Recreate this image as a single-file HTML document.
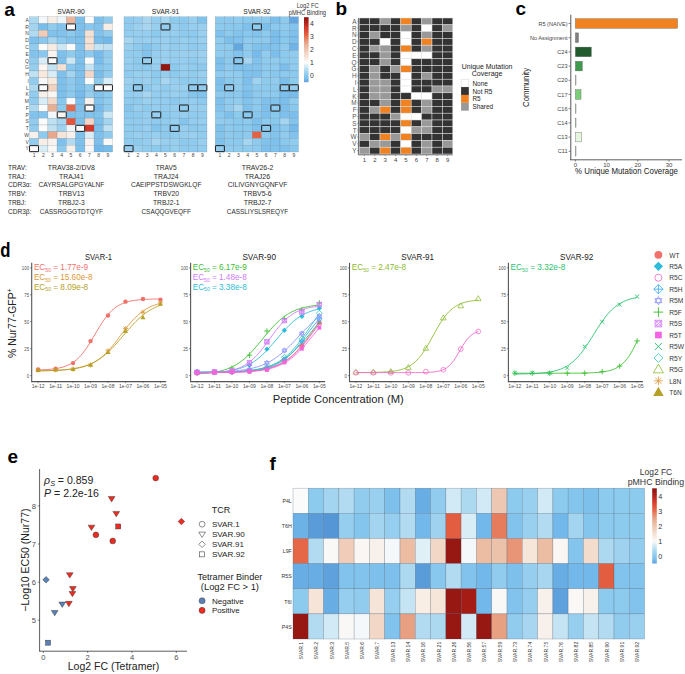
<!DOCTYPE html>
<html><head><meta charset="utf-8"><style>
html,body{margin:0;padding:0;background:#fff;}
body{width:685px;height:674px;overflow:hidden;}
svg{display:block;font-family:"Liberation Sans", sans-serif;}
</style></head><body>
<svg width="685" height="674" viewBox="0 0 685 674">
<rect width="685" height="674" fill="#fff"/>
<text x="71.00" y="13.50" font-size="7.3" text-anchor="middle" fill="#222" textLength="27.4" lengthAdjust="spacingAndGlyphs">SVAR-90</text>
<rect x="29.40" y="16.75" width="9.24" height="6.76" fill="#acd8f0" stroke="#3c5064" stroke-opacity="0.32" stroke-width="0.45"/>
<rect x="38.64" y="16.75" width="9.24" height="6.76" fill="#f4f8fa" stroke="#3c5064" stroke-opacity="0.32" stroke-width="0.45"/>
<rect x="47.89" y="16.75" width="9.24" height="6.76" fill="#f8eee6" stroke="#3c5064" stroke-opacity="0.32" stroke-width="0.45"/>
<rect x="57.13" y="16.75" width="9.24" height="6.76" fill="#edf5f9" stroke="#3c5064" stroke-opacity="0.32" stroke-width="0.45"/>
<rect x="66.38" y="16.75" width="9.24" height="6.76" fill="#ebb59b" stroke="#3c5064" stroke-opacity="0.32" stroke-width="0.45"/>
<rect x="75.62" y="16.75" width="9.24" height="6.76" fill="#7dc0ec" stroke="#3c5064" stroke-opacity="0.32" stroke-width="0.45"/>
<rect x="84.87" y="16.75" width="9.24" height="6.76" fill="#fbfbfb" stroke="#3c5064" stroke-opacity="0.32" stroke-width="0.45"/>
<rect x="94.11" y="16.75" width="9.24" height="6.76" fill="#7dc0ec" stroke="#3c5064" stroke-opacity="0.32" stroke-width="0.45"/>
<rect x="103.36" y="16.75" width="9.24" height="6.76" fill="#91ccee" stroke="#3c5064" stroke-opacity="0.32" stroke-width="0.45"/>
<rect x="29.40" y="23.51" width="9.24" height="6.76" fill="#a3d4f0" stroke="#3c5064" stroke-opacity="0.32" stroke-width="0.45"/>
<rect x="38.64" y="23.51" width="9.24" height="6.76" fill="#79bdeb" stroke="#3c5064" stroke-opacity="0.32" stroke-width="0.45"/>
<rect x="47.89" y="23.51" width="9.24" height="6.76" fill="#91ccee" stroke="#3c5064" stroke-opacity="0.32" stroke-width="0.45"/>
<rect x="57.13" y="23.51" width="9.24" height="6.76" fill="#81c3ed" stroke="#3c5064" stroke-opacity="0.32" stroke-width="0.45"/>
<rect x="66.38" y="23.51" width="9.24" height="6.76" fill="#fbfbfb" stroke="#3c5064" stroke-opacity="0.32" stroke-width="0.45"/>
<rect x="75.62" y="23.51" width="9.24" height="6.76" fill="#7dc0ec" stroke="#3c5064" stroke-opacity="0.32" stroke-width="0.45"/>
<rect x="84.87" y="23.51" width="9.24" height="6.76" fill="#88c8ee" stroke="#3c5064" stroke-opacity="0.32" stroke-width="0.45"/>
<rect x="94.11" y="23.51" width="9.24" height="6.76" fill="#81c3ed" stroke="#3c5064" stroke-opacity="0.32" stroke-width="0.45"/>
<rect x="103.36" y="23.51" width="9.24" height="6.76" fill="#f8eee6" stroke="#3c5064" stroke-opacity="0.32" stroke-width="0.45"/>
<rect x="29.40" y="30.27" width="9.24" height="6.76" fill="#b2dbf1" stroke="#3c5064" stroke-opacity="0.32" stroke-width="0.45"/>
<rect x="38.64" y="30.27" width="9.24" height="6.76" fill="#f0ccb9" stroke="#3c5064" stroke-opacity="0.32" stroke-width="0.45"/>
<rect x="47.89" y="30.27" width="9.24" height="6.76" fill="#81c3ed" stroke="#3c5064" stroke-opacity="0.32" stroke-width="0.45"/>
<rect x="57.13" y="30.27" width="9.24" height="6.76" fill="#81c3ed" stroke="#3c5064" stroke-opacity="0.32" stroke-width="0.45"/>
<rect x="66.38" y="30.27" width="9.24" height="6.76" fill="#8ccaee" stroke="#3c5064" stroke-opacity="0.32" stroke-width="0.45"/>
<rect x="75.62" y="30.27" width="9.24" height="6.76" fill="#7dc0ec" stroke="#3c5064" stroke-opacity="0.32" stroke-width="0.45"/>
<rect x="84.87" y="30.27" width="9.24" height="6.76" fill="#f5e1d4" stroke="#3c5064" stroke-opacity="0.32" stroke-width="0.45"/>
<rect x="94.11" y="30.27" width="9.24" height="6.76" fill="#81c3ed" stroke="#3c5064" stroke-opacity="0.32" stroke-width="0.45"/>
<rect x="103.36" y="30.27" width="9.24" height="6.76" fill="#91ccee" stroke="#3c5064" stroke-opacity="0.32" stroke-width="0.45"/>
<rect x="29.40" y="37.04" width="9.24" height="6.76" fill="#7dc0ec" stroke="#3c5064" stroke-opacity="0.32" stroke-width="0.45"/>
<rect x="38.64" y="37.04" width="9.24" height="6.76" fill="#88c8ee" stroke="#3c5064" stroke-opacity="0.32" stroke-width="0.45"/>
<rect x="47.89" y="37.04" width="9.24" height="6.76" fill="#a8d6f0" stroke="#3c5064" stroke-opacity="0.32" stroke-width="0.45"/>
<rect x="57.13" y="37.04" width="9.24" height="6.76" fill="#8ccaee" stroke="#3c5064" stroke-opacity="0.32" stroke-width="0.45"/>
<rect x="66.38" y="37.04" width="9.24" height="6.76" fill="#81c3ed" stroke="#3c5064" stroke-opacity="0.32" stroke-width="0.45"/>
<rect x="75.62" y="37.04" width="9.24" height="6.76" fill="#7dc0ec" stroke="#3c5064" stroke-opacity="0.32" stroke-width="0.45"/>
<rect x="84.87" y="37.04" width="9.24" height="6.76" fill="#f5e1d4" stroke="#3c5064" stroke-opacity="0.32" stroke-width="0.45"/>
<rect x="94.11" y="37.04" width="9.24" height="6.76" fill="#79bdeb" stroke="#3c5064" stroke-opacity="0.32" stroke-width="0.45"/>
<rect x="103.36" y="37.04" width="9.24" height="6.76" fill="#72b8ea" stroke="#3c5064" stroke-opacity="0.32" stroke-width="0.45"/>
<rect x="29.40" y="43.80" width="9.24" height="6.76" fill="#91ccee" stroke="#3c5064" stroke-opacity="0.32" stroke-width="0.45"/>
<rect x="38.64" y="43.80" width="9.24" height="6.76" fill="#fbfbfb" stroke="#3c5064" stroke-opacity="0.32" stroke-width="0.45"/>
<rect x="47.89" y="43.80" width="9.24" height="6.76" fill="#f7ebe2" stroke="#3c5064" stroke-opacity="0.32" stroke-width="0.45"/>
<rect x="57.13" y="43.80" width="9.24" height="6.76" fill="#cce7f4" stroke="#3c5064" stroke-opacity="0.32" stroke-width="0.45"/>
<rect x="66.38" y="43.80" width="9.24" height="6.76" fill="#fbfbfb" stroke="#3c5064" stroke-opacity="0.32" stroke-width="0.45"/>
<rect x="75.62" y="43.80" width="9.24" height="6.76" fill="#81c3ed" stroke="#3c5064" stroke-opacity="0.32" stroke-width="0.45"/>
<rect x="84.87" y="43.80" width="9.24" height="6.76" fill="#f5e1d4" stroke="#3c5064" stroke-opacity="0.32" stroke-width="0.45"/>
<rect x="94.11" y="43.80" width="9.24" height="6.76" fill="#c5e4f3" stroke="#3c5064" stroke-opacity="0.32" stroke-width="0.45"/>
<rect x="103.36" y="43.80" width="9.24" height="6.76" fill="#bfe1f2" stroke="#3c5064" stroke-opacity="0.32" stroke-width="0.45"/>
<rect x="29.40" y="50.56" width="9.24" height="6.76" fill="#81c3ed" stroke="#3c5064" stroke-opacity="0.32" stroke-width="0.45"/>
<rect x="38.64" y="50.56" width="9.24" height="6.76" fill="#88c8ee" stroke="#3c5064" stroke-opacity="0.32" stroke-width="0.45"/>
<rect x="47.89" y="50.56" width="9.24" height="6.76" fill="#f9f3ef" stroke="#3c5064" stroke-opacity="0.32" stroke-width="0.45"/>
<rect x="57.13" y="50.56" width="9.24" height="6.76" fill="#7dc0ec" stroke="#3c5064" stroke-opacity="0.32" stroke-width="0.45"/>
<rect x="66.38" y="50.56" width="9.24" height="6.76" fill="#8ccaee" stroke="#3c5064" stroke-opacity="0.32" stroke-width="0.45"/>
<rect x="75.62" y="50.56" width="9.24" height="6.76" fill="#7dc0ec" stroke="#3c5064" stroke-opacity="0.32" stroke-width="0.45"/>
<rect x="84.87" y="50.56" width="9.24" height="6.76" fill="#8ccaee" stroke="#3c5064" stroke-opacity="0.32" stroke-width="0.45"/>
<rect x="94.11" y="50.56" width="9.24" height="6.76" fill="#76bbeb" stroke="#3c5064" stroke-opacity="0.32" stroke-width="0.45"/>
<rect x="103.36" y="50.56" width="9.24" height="6.76" fill="#91ccee" stroke="#3c5064" stroke-opacity="0.32" stroke-width="0.45"/>
<rect x="29.40" y="57.33" width="9.24" height="6.76" fill="#91ccee" stroke="#3c5064" stroke-opacity="0.32" stroke-width="0.45"/>
<rect x="38.64" y="57.33" width="9.24" height="6.76" fill="#d9edf6" stroke="#3c5064" stroke-opacity="0.32" stroke-width="0.45"/>
<rect x="47.89" y="57.33" width="9.24" height="6.76" fill="#fbfbfb" stroke="#3c5064" stroke-opacity="0.32" stroke-width="0.45"/>
<rect x="57.13" y="57.33" width="9.24" height="6.76" fill="#7dc0ec" stroke="#3c5064" stroke-opacity="0.32" stroke-width="0.45"/>
<rect x="66.38" y="57.33" width="9.24" height="6.76" fill="#cce7f4" stroke="#3c5064" stroke-opacity="0.32" stroke-width="0.45"/>
<rect x="75.62" y="57.33" width="9.24" height="6.76" fill="#7dc0ec" stroke="#3c5064" stroke-opacity="0.32" stroke-width="0.45"/>
<rect x="84.87" y="57.33" width="9.24" height="6.76" fill="#fbfbfb" stroke="#3c5064" stroke-opacity="0.32" stroke-width="0.45"/>
<rect x="94.11" y="57.33" width="9.24" height="6.76" fill="#79bdeb" stroke="#3c5064" stroke-opacity="0.32" stroke-width="0.45"/>
<rect x="103.36" y="57.33" width="9.24" height="6.76" fill="#96ceef" stroke="#3c5064" stroke-opacity="0.32" stroke-width="0.45"/>
<rect x="29.40" y="64.09" width="9.24" height="6.76" fill="#96ceef" stroke="#3c5064" stroke-opacity="0.32" stroke-width="0.45"/>
<rect x="38.64" y="64.09" width="9.24" height="6.76" fill="#faf6f3" stroke="#3c5064" stroke-opacity="0.32" stroke-width="0.45"/>
<rect x="47.89" y="64.09" width="9.24" height="6.76" fill="#c5e4f3" stroke="#3c5064" stroke-opacity="0.32" stroke-width="0.45"/>
<rect x="57.13" y="64.09" width="9.24" height="6.76" fill="#f5e1d4" stroke="#3c5064" stroke-opacity="0.32" stroke-width="0.45"/>
<rect x="66.38" y="64.09" width="9.24" height="6.76" fill="#88c8ee" stroke="#3c5064" stroke-opacity="0.32" stroke-width="0.45"/>
<rect x="75.62" y="64.09" width="9.24" height="6.76" fill="#7dc0ec" stroke="#3c5064" stroke-opacity="0.32" stroke-width="0.45"/>
<rect x="84.87" y="64.09" width="9.24" height="6.76" fill="#c5e4f3" stroke="#3c5064" stroke-opacity="0.32" stroke-width="0.45"/>
<rect x="94.11" y="64.09" width="9.24" height="6.76" fill="#84c5ed" stroke="#3c5064" stroke-opacity="0.32" stroke-width="0.45"/>
<rect x="103.36" y="64.09" width="9.24" height="6.76" fill="#8ccaee" stroke="#3c5064" stroke-opacity="0.32" stroke-width="0.45"/>
<rect x="29.40" y="70.85" width="9.24" height="6.76" fill="#bfe1f2" stroke="#3c5064" stroke-opacity="0.32" stroke-width="0.45"/>
<rect x="38.64" y="70.85" width="9.24" height="6.76" fill="#f7e9de" stroke="#3c5064" stroke-opacity="0.32" stroke-width="0.45"/>
<rect x="47.89" y="70.85" width="9.24" height="6.76" fill="#d9edf6" stroke="#3c5064" stroke-opacity="0.32" stroke-width="0.45"/>
<rect x="57.13" y="70.85" width="9.24" height="6.76" fill="#7dc0ec" stroke="#3c5064" stroke-opacity="0.32" stroke-width="0.45"/>
<rect x="66.38" y="70.85" width="9.24" height="6.76" fill="#a3d4f0" stroke="#3c5064" stroke-opacity="0.32" stroke-width="0.45"/>
<rect x="75.62" y="70.85" width="9.24" height="6.76" fill="#7dc0ec" stroke="#3c5064" stroke-opacity="0.32" stroke-width="0.45"/>
<rect x="84.87" y="70.85" width="9.24" height="6.76" fill="#f2d7c6" stroke="#3c5064" stroke-opacity="0.32" stroke-width="0.45"/>
<rect x="94.11" y="70.85" width="9.24" height="6.76" fill="#79bdeb" stroke="#3c5064" stroke-opacity="0.32" stroke-width="0.45"/>
<rect x="103.36" y="70.85" width="9.24" height="6.76" fill="#91ccee" stroke="#3c5064" stroke-opacity="0.32" stroke-width="0.45"/>
<rect x="29.40" y="77.61" width="9.24" height="6.76" fill="#91ccee" stroke="#3c5064" stroke-opacity="0.32" stroke-width="0.45"/>
<rect x="38.64" y="77.61" width="9.24" height="6.76" fill="#faf8f7" stroke="#3c5064" stroke-opacity="0.32" stroke-width="0.45"/>
<rect x="47.89" y="77.61" width="9.24" height="6.76" fill="#f7e9de" stroke="#3c5064" stroke-opacity="0.32" stroke-width="0.45"/>
<rect x="57.13" y="77.61" width="9.24" height="6.76" fill="#7dc0ec" stroke="#3c5064" stroke-opacity="0.32" stroke-width="0.45"/>
<rect x="66.38" y="77.61" width="9.24" height="6.76" fill="#8ccaee" stroke="#3c5064" stroke-opacity="0.32" stroke-width="0.45"/>
<rect x="75.62" y="77.61" width="9.24" height="6.76" fill="#7dc0ec" stroke="#3c5064" stroke-opacity="0.32" stroke-width="0.45"/>
<rect x="84.87" y="77.61" width="9.24" height="6.76" fill="#fbfbfb" stroke="#3c5064" stroke-opacity="0.32" stroke-width="0.45"/>
<rect x="94.11" y="77.61" width="9.24" height="6.76" fill="#8ccaee" stroke="#3c5064" stroke-opacity="0.32" stroke-width="0.45"/>
<rect x="103.36" y="77.61" width="9.24" height="6.76" fill="#d9edf6" stroke="#3c5064" stroke-opacity="0.32" stroke-width="0.45"/>
<rect x="29.40" y="84.38" width="9.24" height="6.76" fill="#acd8f0" stroke="#3c5064" stroke-opacity="0.32" stroke-width="0.45"/>
<rect x="38.64" y="84.38" width="9.24" height="6.76" fill="#fbfbfb" stroke="#3c5064" stroke-opacity="0.32" stroke-width="0.45"/>
<rect x="47.89" y="84.38" width="9.24" height="6.76" fill="#f1d2c0" stroke="#3c5064" stroke-opacity="0.32" stroke-width="0.45"/>
<rect x="57.13" y="84.38" width="9.24" height="6.76" fill="#7dc0ec" stroke="#3c5064" stroke-opacity="0.32" stroke-width="0.45"/>
<rect x="66.38" y="84.38" width="9.24" height="6.76" fill="#8ccaee" stroke="#3c5064" stroke-opacity="0.32" stroke-width="0.45"/>
<rect x="75.62" y="84.38" width="9.24" height="6.76" fill="#7dc0ec" stroke="#3c5064" stroke-opacity="0.32" stroke-width="0.45"/>
<rect x="84.87" y="84.38" width="9.24" height="6.76" fill="#91ccee" stroke="#3c5064" stroke-opacity="0.32" stroke-width="0.45"/>
<rect x="94.11" y="84.38" width="9.24" height="6.76" fill="#fbfbfb" stroke="#3c5064" stroke-opacity="0.32" stroke-width="0.45"/>
<rect x="103.36" y="84.38" width="9.24" height="6.76" fill="#fbfbfb" stroke="#3c5064" stroke-opacity="0.32" stroke-width="0.45"/>
<rect x="29.40" y="91.14" width="9.24" height="6.76" fill="#91ccee" stroke="#3c5064" stroke-opacity="0.32" stroke-width="0.45"/>
<rect x="38.64" y="91.14" width="9.24" height="6.76" fill="#f8f0ea" stroke="#3c5064" stroke-opacity="0.32" stroke-width="0.45"/>
<rect x="47.89" y="91.14" width="9.24" height="6.76" fill="#faf6f3" stroke="#3c5064" stroke-opacity="0.32" stroke-width="0.45"/>
<rect x="57.13" y="91.14" width="9.24" height="6.76" fill="#7dc0ec" stroke="#3c5064" stroke-opacity="0.32" stroke-width="0.45"/>
<rect x="66.38" y="91.14" width="9.24" height="6.76" fill="#8ccaee" stroke="#3c5064" stroke-opacity="0.32" stroke-width="0.45"/>
<rect x="75.62" y="91.14" width="9.24" height="6.76" fill="#76bbeb" stroke="#3c5064" stroke-opacity="0.32" stroke-width="0.45"/>
<rect x="84.87" y="91.14" width="9.24" height="6.76" fill="#96ceef" stroke="#3c5064" stroke-opacity="0.32" stroke-width="0.45"/>
<rect x="94.11" y="91.14" width="9.24" height="6.76" fill="#81c3ed" stroke="#3c5064" stroke-opacity="0.32" stroke-width="0.45"/>
<rect x="103.36" y="91.14" width="9.24" height="6.76" fill="#8ccaee" stroke="#3c5064" stroke-opacity="0.32" stroke-width="0.45"/>
<rect x="29.40" y="97.90" width="9.24" height="6.76" fill="#91ccee" stroke="#3c5064" stroke-opacity="0.32" stroke-width="0.45"/>
<rect x="38.64" y="97.90" width="9.24" height="6.76" fill="#d9edf6" stroke="#3c5064" stroke-opacity="0.32" stroke-width="0.45"/>
<rect x="47.89" y="97.90" width="9.24" height="6.76" fill="#f4dccd" stroke="#3c5064" stroke-opacity="0.32" stroke-width="0.45"/>
<rect x="57.13" y="97.90" width="9.24" height="6.76" fill="#88c8ee" stroke="#3c5064" stroke-opacity="0.32" stroke-width="0.45"/>
<rect x="66.38" y="97.90" width="9.24" height="6.76" fill="#fbfbfb" stroke="#3c5064" stroke-opacity="0.32" stroke-width="0.45"/>
<rect x="75.62" y="97.90" width="9.24" height="6.76" fill="#7dc0ec" stroke="#3c5064" stroke-opacity="0.32" stroke-width="0.45"/>
<rect x="84.87" y="97.90" width="9.24" height="6.76" fill="#f8f0ea" stroke="#3c5064" stroke-opacity="0.32" stroke-width="0.45"/>
<rect x="94.11" y="97.90" width="9.24" height="6.76" fill="#81c3ed" stroke="#3c5064" stroke-opacity="0.32" stroke-width="0.45"/>
<rect x="103.36" y="97.90" width="9.24" height="6.76" fill="#91ccee" stroke="#3c5064" stroke-opacity="0.32" stroke-width="0.45"/>
<rect x="29.40" y="104.66" width="9.24" height="6.76" fill="#acd8f0" stroke="#3c5064" stroke-opacity="0.32" stroke-width="0.45"/>
<rect x="38.64" y="104.66" width="9.24" height="6.76" fill="#fbfbfb" stroke="#3c5064" stroke-opacity="0.32" stroke-width="0.45"/>
<rect x="47.89" y="104.66" width="9.24" height="6.76" fill="#eaae93" stroke="#3c5064" stroke-opacity="0.32" stroke-width="0.45"/>
<rect x="57.13" y="104.66" width="9.24" height="6.76" fill="#8ccaee" stroke="#3c5064" stroke-opacity="0.32" stroke-width="0.45"/>
<rect x="66.38" y="104.66" width="9.24" height="6.76" fill="#e56748" stroke="#3c5064" stroke-opacity="0.32" stroke-width="0.45"/>
<rect x="75.62" y="104.66" width="9.24" height="6.76" fill="#7dc0ec" stroke="#3c5064" stroke-opacity="0.32" stroke-width="0.45"/>
<rect x="84.87" y="104.66" width="9.24" height="6.76" fill="#fbfbfb" stroke="#3c5064" stroke-opacity="0.32" stroke-width="0.45"/>
<rect x="94.11" y="104.66" width="9.24" height="6.76" fill="#76bbeb" stroke="#3c5064" stroke-opacity="0.32" stroke-width="0.45"/>
<rect x="103.36" y="104.66" width="9.24" height="6.76" fill="#91ccee" stroke="#3c5064" stroke-opacity="0.32" stroke-width="0.45"/>
<rect x="29.40" y="111.42" width="9.24" height="6.76" fill="#81c3ed" stroke="#3c5064" stroke-opacity="0.32" stroke-width="0.45"/>
<rect x="38.64" y="111.42" width="9.24" height="6.76" fill="#84c5ed" stroke="#3c5064" stroke-opacity="0.32" stroke-width="0.45"/>
<rect x="47.89" y="111.42" width="9.24" height="6.76" fill="#f4f8fa" stroke="#3c5064" stroke-opacity="0.32" stroke-width="0.45"/>
<rect x="57.13" y="111.42" width="9.24" height="6.76" fill="#faf6f3" stroke="#3c5064" stroke-opacity="0.32" stroke-width="0.45"/>
<rect x="66.38" y="111.42" width="9.24" height="6.76" fill="#7dc0ec" stroke="#3c5064" stroke-opacity="0.32" stroke-width="0.45"/>
<rect x="75.62" y="111.42" width="9.24" height="6.76" fill="#81c3ed" stroke="#3c5064" stroke-opacity="0.32" stroke-width="0.45"/>
<rect x="84.87" y="111.42" width="9.24" height="6.76" fill="#81c3ed" stroke="#3c5064" stroke-opacity="0.32" stroke-width="0.45"/>
<rect x="94.11" y="111.42" width="9.24" height="6.76" fill="#81c3ed" stroke="#3c5064" stroke-opacity="0.32" stroke-width="0.45"/>
<rect x="103.36" y="111.42" width="9.24" height="6.76" fill="#cce7f4" stroke="#3c5064" stroke-opacity="0.32" stroke-width="0.45"/>
<rect x="29.40" y="118.19" width="9.24" height="6.76" fill="#91ccee" stroke="#3c5064" stroke-opacity="0.32" stroke-width="0.45"/>
<rect x="38.64" y="118.19" width="9.24" height="6.76" fill="#fbfbfb" stroke="#3c5064" stroke-opacity="0.32" stroke-width="0.45"/>
<rect x="47.89" y="118.19" width="9.24" height="6.76" fill="#bfe1f2" stroke="#3c5064" stroke-opacity="0.32" stroke-width="0.45"/>
<rect x="57.13" y="118.19" width="9.24" height="6.76" fill="#a8d6f0" stroke="#3c5064" stroke-opacity="0.32" stroke-width="0.45"/>
<rect x="66.38" y="118.19" width="9.24" height="6.76" fill="#e2553a" stroke="#3c5064" stroke-opacity="0.32" stroke-width="0.45"/>
<rect x="75.62" y="118.19" width="9.24" height="6.76" fill="#7dc0ec" stroke="#3c5064" stroke-opacity="0.32" stroke-width="0.45"/>
<rect x="84.87" y="118.19" width="9.24" height="6.76" fill="#f2d7c6" stroke="#3c5064" stroke-opacity="0.32" stroke-width="0.45"/>
<rect x="94.11" y="118.19" width="9.24" height="6.76" fill="#7dc0ec" stroke="#3c5064" stroke-opacity="0.32" stroke-width="0.45"/>
<rect x="103.36" y="118.19" width="9.24" height="6.76" fill="#a3d4f0" stroke="#3c5064" stroke-opacity="0.32" stroke-width="0.45"/>
<rect x="29.40" y="124.95" width="9.24" height="6.76" fill="#91ccee" stroke="#3c5064" stroke-opacity="0.32" stroke-width="0.45"/>
<rect x="38.64" y="124.95" width="9.24" height="6.76" fill="#fbfbfb" stroke="#3c5064" stroke-opacity="0.32" stroke-width="0.45"/>
<rect x="47.89" y="124.95" width="9.24" height="6.76" fill="#bfe1f2" stroke="#3c5064" stroke-opacity="0.32" stroke-width="0.45"/>
<rect x="57.13" y="124.95" width="9.24" height="6.76" fill="#9ed2ef" stroke="#3c5064" stroke-opacity="0.32" stroke-width="0.45"/>
<rect x="66.38" y="124.95" width="9.24" height="6.76" fill="#edf5f9" stroke="#3c5064" stroke-opacity="0.32" stroke-width="0.45"/>
<rect x="75.62" y="124.95" width="9.24" height="6.76" fill="#fbfbfb" stroke="#3c5064" stroke-opacity="0.32" stroke-width="0.45"/>
<rect x="84.87" y="124.95" width="9.24" height="6.76" fill="#d4382a" stroke="#3c5064" stroke-opacity="0.32" stroke-width="0.45"/>
<rect x="94.11" y="124.95" width="9.24" height="6.76" fill="#7dc0ec" stroke="#3c5064" stroke-opacity="0.32" stroke-width="0.45"/>
<rect x="103.36" y="124.95" width="9.24" height="6.76" fill="#bfe1f2" stroke="#3c5064" stroke-opacity="0.32" stroke-width="0.45"/>
<rect x="29.40" y="131.71" width="9.24" height="6.76" fill="#f8f0ea" stroke="#3c5064" stroke-opacity="0.32" stroke-width="0.45"/>
<rect x="38.64" y="131.71" width="9.24" height="6.76" fill="#8ccaee" stroke="#3c5064" stroke-opacity="0.32" stroke-width="0.45"/>
<rect x="47.89" y="131.71" width="9.24" height="6.76" fill="#e9a78b" stroke="#3c5064" stroke-opacity="0.32" stroke-width="0.45"/>
<rect x="57.13" y="131.71" width="9.24" height="6.76" fill="#f5e4d7" stroke="#3c5064" stroke-opacity="0.32" stroke-width="0.45"/>
<rect x="66.38" y="131.71" width="9.24" height="6.76" fill="#f8f0ea" stroke="#3c5064" stroke-opacity="0.32" stroke-width="0.45"/>
<rect x="75.62" y="131.71" width="9.24" height="6.76" fill="#7dc0ec" stroke="#3c5064" stroke-opacity="0.32" stroke-width="0.45"/>
<rect x="84.87" y="131.71" width="9.24" height="6.76" fill="#d9edf6" stroke="#3c5064" stroke-opacity="0.32" stroke-width="0.45"/>
<rect x="94.11" y="131.71" width="9.24" height="6.76" fill="#7dc0ec" stroke="#3c5064" stroke-opacity="0.32" stroke-width="0.45"/>
<rect x="103.36" y="131.71" width="9.24" height="6.76" fill="#8ccaee" stroke="#3c5064" stroke-opacity="0.32" stroke-width="0.45"/>
<rect x="29.40" y="138.48" width="9.24" height="6.76" fill="#91ccee" stroke="#3c5064" stroke-opacity="0.32" stroke-width="0.45"/>
<rect x="38.64" y="138.48" width="9.24" height="6.76" fill="#f8eee6" stroke="#3c5064" stroke-opacity="0.32" stroke-width="0.45"/>
<rect x="47.89" y="138.48" width="9.24" height="6.76" fill="#f9f3ef" stroke="#3c5064" stroke-opacity="0.32" stroke-width="0.45"/>
<rect x="57.13" y="138.48" width="9.24" height="6.76" fill="#7dc0ec" stroke="#3c5064" stroke-opacity="0.32" stroke-width="0.45"/>
<rect x="66.38" y="138.48" width="9.24" height="6.76" fill="#b2dbf1" stroke="#3c5064" stroke-opacity="0.32" stroke-width="0.45"/>
<rect x="75.62" y="138.48" width="9.24" height="6.76" fill="#7dc0ec" stroke="#3c5064" stroke-opacity="0.32" stroke-width="0.45"/>
<rect x="84.87" y="138.48" width="9.24" height="6.76" fill="#f9f3ef" stroke="#3c5064" stroke-opacity="0.32" stroke-width="0.45"/>
<rect x="94.11" y="138.48" width="9.24" height="6.76" fill="#7dc0ec" stroke="#3c5064" stroke-opacity="0.32" stroke-width="0.45"/>
<rect x="103.36" y="138.48" width="9.24" height="6.76" fill="#faf8f7" stroke="#3c5064" stroke-opacity="0.32" stroke-width="0.45"/>
<rect x="29.40" y="145.24" width="9.24" height="6.76" fill="#fbfbfb" stroke="#3c5064" stroke-opacity="0.32" stroke-width="0.45"/>
<rect x="38.64" y="145.24" width="9.24" height="6.76" fill="#d9edf6" stroke="#3c5064" stroke-opacity="0.32" stroke-width="0.45"/>
<rect x="47.89" y="145.24" width="9.24" height="6.76" fill="#faf8f7" stroke="#3c5064" stroke-opacity="0.32" stroke-width="0.45"/>
<rect x="57.13" y="145.24" width="9.24" height="6.76" fill="#8ccaee" stroke="#3c5064" stroke-opacity="0.32" stroke-width="0.45"/>
<rect x="66.38" y="145.24" width="9.24" height="6.76" fill="#f8f0ea" stroke="#3c5064" stroke-opacity="0.32" stroke-width="0.45"/>
<rect x="75.62" y="145.24" width="9.24" height="6.76" fill="#7dc0ec" stroke="#3c5064" stroke-opacity="0.32" stroke-width="0.45"/>
<rect x="84.87" y="145.24" width="9.24" height="6.76" fill="#faf8f7" stroke="#3c5064" stroke-opacity="0.32" stroke-width="0.45"/>
<rect x="94.11" y="145.24" width="9.24" height="6.76" fill="#72b8ea" stroke="#3c5064" stroke-opacity="0.32" stroke-width="0.45"/>
<rect x="103.36" y="145.24" width="9.24" height="6.76" fill="#79bdeb" stroke="#3c5064" stroke-opacity="0.32" stroke-width="0.45"/>
<rect x="66.53" y="23.91" width="8.94" height="6.01" rx="0.5" fill="none" stroke="#1e1e1e" stroke-width="1.0"/>
<rect x="48.04" y="57.73" width="8.94" height="6.01" rx="0.5" fill="none" stroke="#1e1e1e" stroke-width="1.0"/>
<rect x="38.79" y="84.78" width="8.94" height="6.01" rx="0.5" fill="none" stroke="#1e1e1e" stroke-width="1.0"/>
<rect x="94.26" y="84.78" width="8.94" height="6.01" rx="0.5" fill="none" stroke="#1e1e1e" stroke-width="1.0"/>
<rect x="103.51" y="84.78" width="8.94" height="6.01" rx="0.5" fill="none" stroke="#1e1e1e" stroke-width="1.0"/>
<rect x="85.02" y="105.06" width="8.94" height="6.01" rx="0.5" fill="none" stroke="#1e1e1e" stroke-width="1.0"/>
<rect x="57.28" y="111.83" width="8.94" height="6.01" rx="0.5" fill="none" stroke="#1e1e1e" stroke-width="1.0"/>
<rect x="75.77" y="125.35" width="8.94" height="6.01" rx="0.5" fill="none" stroke="#1e1e1e" stroke-width="1.0"/>
<rect x="29.55" y="145.64" width="8.94" height="6.01" rx="0.5" fill="none" stroke="#1e1e1e" stroke-width="1.0"/>
<text x="28.90" y="21.93" font-size="5.0" text-anchor="end" fill="#444">A</text>
<text x="28.90" y="28.69" font-size="5.0" text-anchor="end" fill="#444">R</text>
<text x="28.90" y="35.46" font-size="5.0" text-anchor="end" fill="#444">N</text>
<text x="28.90" y="42.22" font-size="5.0" text-anchor="end" fill="#444">D</text>
<text x="28.90" y="48.98" font-size="5.0" text-anchor="end" fill="#444">C</text>
<text x="28.90" y="55.74" font-size="5.0" text-anchor="end" fill="#444">E</text>
<text x="28.90" y="62.51" font-size="5.0" text-anchor="end" fill="#444">Q</text>
<text x="28.90" y="69.27" font-size="5.0" text-anchor="end" fill="#444">G</text>
<text x="28.90" y="76.03" font-size="5.0" text-anchor="end" fill="#444">H</text>
<text x="28.90" y="82.79" font-size="5.0" text-anchor="end" fill="#444">I</text>
<text x="28.90" y="89.56" font-size="5.0" text-anchor="end" fill="#444">L</text>
<text x="28.90" y="96.32" font-size="5.0" text-anchor="end" fill="#444">K</text>
<text x="28.90" y="103.08" font-size="5.0" text-anchor="end" fill="#444">M</text>
<text x="28.90" y="109.84" font-size="5.0" text-anchor="end" fill="#444">F</text>
<text x="28.90" y="116.61" font-size="5.0" text-anchor="end" fill="#444">P</text>
<text x="28.90" y="123.37" font-size="5.0" text-anchor="end" fill="#444">S</text>
<text x="28.90" y="130.13" font-size="5.0" text-anchor="end" fill="#444">T</text>
<text x="28.90" y="136.89" font-size="5.0" text-anchor="end" fill="#444">W</text>
<text x="28.90" y="143.66" font-size="5.0" text-anchor="end" fill="#444">V</text>
<text x="28.90" y="150.42" font-size="5.0" text-anchor="end" fill="#444">Y</text>
<text x="34.02" y="156.70" font-size="5.0" text-anchor="middle" fill="#444">1</text>
<text x="43.27" y="156.70" font-size="5.0" text-anchor="middle" fill="#444">2</text>
<text x="52.51" y="156.70" font-size="5.0" text-anchor="middle" fill="#444">3</text>
<text x="61.76" y="156.70" font-size="5.0" text-anchor="middle" fill="#444">4</text>
<text x="71.00" y="156.70" font-size="5.0" text-anchor="middle" fill="#444">5</text>
<text x="80.24" y="156.70" font-size="5.0" text-anchor="middle" fill="#444">6</text>
<text x="89.49" y="156.70" font-size="5.0" text-anchor="middle" fill="#444">7</text>
<text x="98.73" y="156.70" font-size="5.0" text-anchor="middle" fill="#444">8</text>
<text x="107.98" y="156.70" font-size="5.0" text-anchor="middle" fill="#444">9</text>
<text x="165.50" y="13.50" font-size="7.3" text-anchor="middle" fill="#222" textLength="27.4" lengthAdjust="spacingAndGlyphs">SVAR-91</text>
<rect x="124.00" y="16.75" width="9.22" height="6.76" fill="#8ecbee" stroke="#3c5064" stroke-opacity="0.32" stroke-width="0.45"/>
<rect x="133.22" y="16.75" width="9.22" height="6.76" fill="#94cdef" stroke="#3c5064" stroke-opacity="0.32" stroke-width="0.45"/>
<rect x="142.44" y="16.75" width="9.22" height="6.76" fill="#a8d6f0" stroke="#3c5064" stroke-opacity="0.32" stroke-width="0.45"/>
<rect x="151.67" y="16.75" width="9.22" height="6.76" fill="#95ceef" stroke="#3c5064" stroke-opacity="0.32" stroke-width="0.45"/>
<rect x="160.89" y="16.75" width="9.22" height="6.76" fill="#a6d5f0" stroke="#3c5064" stroke-opacity="0.32" stroke-width="0.45"/>
<rect x="170.11" y="16.75" width="9.22" height="6.76" fill="#8ccaee" stroke="#3c5064" stroke-opacity="0.32" stroke-width="0.45"/>
<rect x="179.33" y="16.75" width="9.22" height="6.76" fill="#8bc9ee" stroke="#3c5064" stroke-opacity="0.32" stroke-width="0.45"/>
<rect x="188.56" y="16.75" width="9.22" height="6.76" fill="#98cfef" stroke="#3c5064" stroke-opacity="0.32" stroke-width="0.45"/>
<rect x="197.78" y="16.75" width="9.22" height="6.76" fill="#7fc2ec" stroke="#3c5064" stroke-opacity="0.32" stroke-width="0.45"/>
<rect x="124.00" y="23.51" width="9.22" height="6.76" fill="#8ecbee" stroke="#3c5064" stroke-opacity="0.32" stroke-width="0.45"/>
<rect x="133.22" y="23.51" width="9.22" height="6.76" fill="#9bd0ef" stroke="#3c5064" stroke-opacity="0.32" stroke-width="0.45"/>
<rect x="142.44" y="23.51" width="9.22" height="6.76" fill="#a8d6f0" stroke="#3c5064" stroke-opacity="0.32" stroke-width="0.45"/>
<rect x="151.67" y="23.51" width="9.22" height="6.76" fill="#98cfef" stroke="#3c5064" stroke-opacity="0.32" stroke-width="0.45"/>
<rect x="160.89" y="23.51" width="9.22" height="6.76" fill="#93cdef" stroke="#3c5064" stroke-opacity="0.32" stroke-width="0.45"/>
<rect x="170.11" y="23.51" width="9.22" height="6.76" fill="#96ceef" stroke="#3c5064" stroke-opacity="0.32" stroke-width="0.45"/>
<rect x="179.33" y="23.51" width="9.22" height="6.76" fill="#8dcaee" stroke="#3c5064" stroke-opacity="0.32" stroke-width="0.45"/>
<rect x="188.56" y="23.51" width="9.22" height="6.76" fill="#95ceef" stroke="#3c5064" stroke-opacity="0.32" stroke-width="0.45"/>
<rect x="197.78" y="23.51" width="9.22" height="6.76" fill="#99d0ef" stroke="#3c5064" stroke-opacity="0.32" stroke-width="0.45"/>
<rect x="124.00" y="30.27" width="9.22" height="6.76" fill="#93cdef" stroke="#3c5064" stroke-opacity="0.32" stroke-width="0.45"/>
<rect x="133.22" y="30.27" width="9.22" height="6.76" fill="#96ceef" stroke="#3c5064" stroke-opacity="0.32" stroke-width="0.45"/>
<rect x="142.44" y="30.27" width="9.22" height="6.76" fill="#96ceef" stroke="#3c5064" stroke-opacity="0.32" stroke-width="0.45"/>
<rect x="151.67" y="30.27" width="9.22" height="6.76" fill="#8ccaee" stroke="#3c5064" stroke-opacity="0.32" stroke-width="0.45"/>
<rect x="160.89" y="30.27" width="9.22" height="6.76" fill="#97cfef" stroke="#3c5064" stroke-opacity="0.32" stroke-width="0.45"/>
<rect x="170.11" y="30.27" width="9.22" height="6.76" fill="#95ceef" stroke="#3c5064" stroke-opacity="0.32" stroke-width="0.45"/>
<rect x="179.33" y="30.27" width="9.22" height="6.76" fill="#8fcbee" stroke="#3c5064" stroke-opacity="0.32" stroke-width="0.45"/>
<rect x="188.56" y="30.27" width="9.22" height="6.76" fill="#8ccaee" stroke="#3c5064" stroke-opacity="0.32" stroke-width="0.45"/>
<rect x="197.78" y="30.27" width="9.22" height="6.76" fill="#99d0ef" stroke="#3c5064" stroke-opacity="0.32" stroke-width="0.45"/>
<rect x="124.00" y="37.04" width="9.22" height="6.76" fill="#a8d6f0" stroke="#3c5064" stroke-opacity="0.32" stroke-width="0.45"/>
<rect x="133.22" y="37.04" width="9.22" height="6.76" fill="#96ceef" stroke="#3c5064" stroke-opacity="0.32" stroke-width="0.45"/>
<rect x="142.44" y="37.04" width="9.22" height="6.76" fill="#99d0ef" stroke="#3c5064" stroke-opacity="0.32" stroke-width="0.45"/>
<rect x="151.67" y="37.04" width="9.22" height="6.76" fill="#96ceef" stroke="#3c5064" stroke-opacity="0.32" stroke-width="0.45"/>
<rect x="160.89" y="37.04" width="9.22" height="6.76" fill="#9ad0ef" stroke="#3c5064" stroke-opacity="0.32" stroke-width="0.45"/>
<rect x="170.11" y="37.04" width="9.22" height="6.76" fill="#91ccee" stroke="#3c5064" stroke-opacity="0.32" stroke-width="0.45"/>
<rect x="179.33" y="37.04" width="9.22" height="6.76" fill="#97cfef" stroke="#3c5064" stroke-opacity="0.32" stroke-width="0.45"/>
<rect x="188.56" y="37.04" width="9.22" height="6.76" fill="#92ccef" stroke="#3c5064" stroke-opacity="0.32" stroke-width="0.45"/>
<rect x="197.78" y="37.04" width="9.22" height="6.76" fill="#9ad0ef" stroke="#3c5064" stroke-opacity="0.32" stroke-width="0.45"/>
<rect x="124.00" y="43.80" width="9.22" height="6.76" fill="#99d0ef" stroke="#3c5064" stroke-opacity="0.32" stroke-width="0.45"/>
<rect x="133.22" y="43.80" width="9.22" height="6.76" fill="#8ccaee" stroke="#3c5064" stroke-opacity="0.32" stroke-width="0.45"/>
<rect x="142.44" y="43.80" width="9.22" height="6.76" fill="#82c4ed" stroke="#3c5064" stroke-opacity="0.32" stroke-width="0.45"/>
<rect x="151.67" y="43.80" width="9.22" height="6.76" fill="#8ecbee" stroke="#3c5064" stroke-opacity="0.32" stroke-width="0.45"/>
<rect x="160.89" y="43.80" width="9.22" height="6.76" fill="#9ad0ef" stroke="#3c5064" stroke-opacity="0.32" stroke-width="0.45"/>
<rect x="170.11" y="43.80" width="9.22" height="6.76" fill="#92ccef" stroke="#3c5064" stroke-opacity="0.32" stroke-width="0.45"/>
<rect x="179.33" y="43.80" width="9.22" height="6.76" fill="#95ceef" stroke="#3c5064" stroke-opacity="0.32" stroke-width="0.45"/>
<rect x="188.56" y="43.80" width="9.22" height="6.76" fill="#8fcbee" stroke="#3c5064" stroke-opacity="0.32" stroke-width="0.45"/>
<rect x="197.78" y="43.80" width="9.22" height="6.76" fill="#93cdef" stroke="#3c5064" stroke-opacity="0.32" stroke-width="0.45"/>
<rect x="124.00" y="50.56" width="9.22" height="6.76" fill="#91ccee" stroke="#3c5064" stroke-opacity="0.32" stroke-width="0.45"/>
<rect x="133.22" y="50.56" width="9.22" height="6.76" fill="#90ccee" stroke="#3c5064" stroke-opacity="0.32" stroke-width="0.45"/>
<rect x="142.44" y="50.56" width="9.22" height="6.76" fill="#81c3ed" stroke="#3c5064" stroke-opacity="0.32" stroke-width="0.45"/>
<rect x="151.67" y="50.56" width="9.22" height="6.76" fill="#95ceef" stroke="#3c5064" stroke-opacity="0.32" stroke-width="0.45"/>
<rect x="160.89" y="50.56" width="9.22" height="6.76" fill="#99d0ef" stroke="#3c5064" stroke-opacity="0.32" stroke-width="0.45"/>
<rect x="170.11" y="50.56" width="9.22" height="6.76" fill="#96ceef" stroke="#3c5064" stroke-opacity="0.32" stroke-width="0.45"/>
<rect x="179.33" y="50.56" width="9.22" height="6.76" fill="#9ad0ef" stroke="#3c5064" stroke-opacity="0.32" stroke-width="0.45"/>
<rect x="188.56" y="50.56" width="9.22" height="6.76" fill="#98cfef" stroke="#3c5064" stroke-opacity="0.32" stroke-width="0.45"/>
<rect x="197.78" y="50.56" width="9.22" height="6.76" fill="#9bd0ef" stroke="#3c5064" stroke-opacity="0.32" stroke-width="0.45"/>
<rect x="124.00" y="57.33" width="9.22" height="6.76" fill="#96ceef" stroke="#3c5064" stroke-opacity="0.32" stroke-width="0.45"/>
<rect x="133.22" y="57.33" width="9.22" height="6.76" fill="#8dcaee" stroke="#3c5064" stroke-opacity="0.32" stroke-width="0.45"/>
<rect x="142.44" y="57.33" width="9.22" height="6.76" fill="#98cfef" stroke="#3c5064" stroke-opacity="0.32" stroke-width="0.45"/>
<rect x="151.67" y="57.33" width="9.22" height="6.76" fill="#9ad0ef" stroke="#3c5064" stroke-opacity="0.32" stroke-width="0.45"/>
<rect x="160.89" y="57.33" width="9.22" height="6.76" fill="#99d0ef" stroke="#3c5064" stroke-opacity="0.32" stroke-width="0.45"/>
<rect x="170.11" y="57.33" width="9.22" height="6.76" fill="#94cdef" stroke="#3c5064" stroke-opacity="0.32" stroke-width="0.45"/>
<rect x="179.33" y="57.33" width="9.22" height="6.76" fill="#96ceef" stroke="#3c5064" stroke-opacity="0.32" stroke-width="0.45"/>
<rect x="188.56" y="57.33" width="9.22" height="6.76" fill="#8ecbee" stroke="#3c5064" stroke-opacity="0.32" stroke-width="0.45"/>
<rect x="197.78" y="57.33" width="9.22" height="6.76" fill="#98cfef" stroke="#3c5064" stroke-opacity="0.32" stroke-width="0.45"/>
<rect x="124.00" y="64.09" width="9.22" height="6.76" fill="#94cdef" stroke="#3c5064" stroke-opacity="0.32" stroke-width="0.45"/>
<rect x="133.22" y="64.09" width="9.22" height="6.76" fill="#8fcbee" stroke="#3c5064" stroke-opacity="0.32" stroke-width="0.45"/>
<rect x="142.44" y="64.09" width="9.22" height="6.76" fill="#8ccaee" stroke="#3c5064" stroke-opacity="0.32" stroke-width="0.45"/>
<rect x="151.67" y="64.09" width="9.22" height="6.76" fill="#98cfef" stroke="#3c5064" stroke-opacity="0.32" stroke-width="0.45"/>
<rect x="160.89" y="64.09" width="9.22" height="6.76" fill="#941611" stroke="#3c5064" stroke-opacity="0.32" stroke-width="0.45"/>
<rect x="170.11" y="64.09" width="9.22" height="6.76" fill="#8ccaee" stroke="#3c5064" stroke-opacity="0.32" stroke-width="0.45"/>
<rect x="179.33" y="64.09" width="9.22" height="6.76" fill="#97cfef" stroke="#3c5064" stroke-opacity="0.32" stroke-width="0.45"/>
<rect x="188.56" y="64.09" width="9.22" height="6.76" fill="#91ccee" stroke="#3c5064" stroke-opacity="0.32" stroke-width="0.45"/>
<rect x="197.78" y="64.09" width="9.22" height="6.76" fill="#8dcaee" stroke="#3c5064" stroke-opacity="0.32" stroke-width="0.45"/>
<rect x="124.00" y="70.85" width="9.22" height="6.76" fill="#8fcbee" stroke="#3c5064" stroke-opacity="0.32" stroke-width="0.45"/>
<rect x="133.22" y="70.85" width="9.22" height="6.76" fill="#97cfef" stroke="#3c5064" stroke-opacity="0.32" stroke-width="0.45"/>
<rect x="142.44" y="70.85" width="9.22" height="6.76" fill="#99d0ef" stroke="#3c5064" stroke-opacity="0.32" stroke-width="0.45"/>
<rect x="151.67" y="70.85" width="9.22" height="6.76" fill="#8ccaee" stroke="#3c5064" stroke-opacity="0.32" stroke-width="0.45"/>
<rect x="160.89" y="70.85" width="9.22" height="6.76" fill="#95ceef" stroke="#3c5064" stroke-opacity="0.32" stroke-width="0.45"/>
<rect x="170.11" y="70.85" width="9.22" height="6.76" fill="#8ccaee" stroke="#3c5064" stroke-opacity="0.32" stroke-width="0.45"/>
<rect x="179.33" y="70.85" width="9.22" height="6.76" fill="#96ceef" stroke="#3c5064" stroke-opacity="0.32" stroke-width="0.45"/>
<rect x="188.56" y="70.85" width="9.22" height="6.76" fill="#90ccee" stroke="#3c5064" stroke-opacity="0.32" stroke-width="0.45"/>
<rect x="197.78" y="70.85" width="9.22" height="6.76" fill="#99d0ef" stroke="#3c5064" stroke-opacity="0.32" stroke-width="0.45"/>
<rect x="124.00" y="77.61" width="9.22" height="6.76" fill="#9bd0ef" stroke="#3c5064" stroke-opacity="0.32" stroke-width="0.45"/>
<rect x="133.22" y="77.61" width="9.22" height="6.76" fill="#93cdef" stroke="#3c5064" stroke-opacity="0.32" stroke-width="0.45"/>
<rect x="142.44" y="77.61" width="9.22" height="6.76" fill="#9bd0ef" stroke="#3c5064" stroke-opacity="0.32" stroke-width="0.45"/>
<rect x="151.67" y="77.61" width="9.22" height="6.76" fill="#90ccee" stroke="#3c5064" stroke-opacity="0.32" stroke-width="0.45"/>
<rect x="160.89" y="77.61" width="9.22" height="6.76" fill="#a8d6f0" stroke="#3c5064" stroke-opacity="0.32" stroke-width="0.45"/>
<rect x="170.11" y="77.61" width="9.22" height="6.76" fill="#95ceef" stroke="#3c5064" stroke-opacity="0.32" stroke-width="0.45"/>
<rect x="179.33" y="77.61" width="9.22" height="6.76" fill="#8ccaee" stroke="#3c5064" stroke-opacity="0.32" stroke-width="0.45"/>
<rect x="188.56" y="77.61" width="9.22" height="6.76" fill="#8ecbee" stroke="#3c5064" stroke-opacity="0.32" stroke-width="0.45"/>
<rect x="197.78" y="77.61" width="9.22" height="6.76" fill="#91ccee" stroke="#3c5064" stroke-opacity="0.32" stroke-width="0.45"/>
<rect x="124.00" y="84.38" width="9.22" height="6.76" fill="#95ceef" stroke="#3c5064" stroke-opacity="0.32" stroke-width="0.45"/>
<rect x="133.22" y="84.38" width="9.22" height="6.76" fill="#8dcaee" stroke="#3c5064" stroke-opacity="0.32" stroke-width="0.45"/>
<rect x="142.44" y="84.38" width="9.22" height="6.76" fill="#8ccaee" stroke="#3c5064" stroke-opacity="0.32" stroke-width="0.45"/>
<rect x="151.67" y="84.38" width="9.22" height="6.76" fill="#99d0ef" stroke="#3c5064" stroke-opacity="0.32" stroke-width="0.45"/>
<rect x="160.89" y="84.38" width="9.22" height="6.76" fill="#90ccee" stroke="#3c5064" stroke-opacity="0.32" stroke-width="0.45"/>
<rect x="170.11" y="84.38" width="9.22" height="6.76" fill="#9ad0ef" stroke="#3c5064" stroke-opacity="0.32" stroke-width="0.45"/>
<rect x="179.33" y="84.38" width="9.22" height="6.76" fill="#99d0ef" stroke="#3c5064" stroke-opacity="0.32" stroke-width="0.45"/>
<rect x="188.56" y="84.38" width="9.22" height="6.76" fill="#91ccee" stroke="#3c5064" stroke-opacity="0.32" stroke-width="0.45"/>
<rect x="197.78" y="84.38" width="9.22" height="6.76" fill="#92ccef" stroke="#3c5064" stroke-opacity="0.32" stroke-width="0.45"/>
<rect x="124.00" y="91.14" width="9.22" height="6.76" fill="#93cdef" stroke="#3c5064" stroke-opacity="0.32" stroke-width="0.45"/>
<rect x="133.22" y="91.14" width="9.22" height="6.76" fill="#96ceef" stroke="#3c5064" stroke-opacity="0.32" stroke-width="0.45"/>
<rect x="142.44" y="91.14" width="9.22" height="6.76" fill="#a6d5f0" stroke="#3c5064" stroke-opacity="0.32" stroke-width="0.45"/>
<rect x="151.67" y="91.14" width="9.22" height="6.76" fill="#94cdef" stroke="#3c5064" stroke-opacity="0.32" stroke-width="0.45"/>
<rect x="160.89" y="91.14" width="9.22" height="6.76" fill="#95ceef" stroke="#3c5064" stroke-opacity="0.32" stroke-width="0.45"/>
<rect x="170.11" y="91.14" width="9.22" height="6.76" fill="#9ad0ef" stroke="#3c5064" stroke-opacity="0.32" stroke-width="0.45"/>
<rect x="179.33" y="91.14" width="9.22" height="6.76" fill="#93cdef" stroke="#3c5064" stroke-opacity="0.32" stroke-width="0.45"/>
<rect x="188.56" y="91.14" width="9.22" height="6.76" fill="#84c5ed" stroke="#3c5064" stroke-opacity="0.32" stroke-width="0.45"/>
<rect x="197.78" y="91.14" width="9.22" height="6.76" fill="#81c3ed" stroke="#3c5064" stroke-opacity="0.32" stroke-width="0.45"/>
<rect x="124.00" y="97.90" width="9.22" height="6.76" fill="#8ecbee" stroke="#3c5064" stroke-opacity="0.32" stroke-width="0.45"/>
<rect x="133.22" y="97.90" width="9.22" height="6.76" fill="#8fcbee" stroke="#3c5064" stroke-opacity="0.32" stroke-width="0.45"/>
<rect x="142.44" y="97.90" width="9.22" height="6.76" fill="#9bd0ef" stroke="#3c5064" stroke-opacity="0.32" stroke-width="0.45"/>
<rect x="151.67" y="97.90" width="9.22" height="6.76" fill="#93cdef" stroke="#3c5064" stroke-opacity="0.32" stroke-width="0.45"/>
<rect x="160.89" y="97.90" width="9.22" height="6.76" fill="#94cdef" stroke="#3c5064" stroke-opacity="0.32" stroke-width="0.45"/>
<rect x="170.11" y="97.90" width="9.22" height="6.76" fill="#8bc9ee" stroke="#3c5064" stroke-opacity="0.32" stroke-width="0.45"/>
<rect x="179.33" y="97.90" width="9.22" height="6.76" fill="#91ccee" stroke="#3c5064" stroke-opacity="0.32" stroke-width="0.45"/>
<rect x="188.56" y="97.90" width="9.22" height="6.76" fill="#94cdef" stroke="#3c5064" stroke-opacity="0.32" stroke-width="0.45"/>
<rect x="197.78" y="97.90" width="9.22" height="6.76" fill="#8bc9ee" stroke="#3c5064" stroke-opacity="0.32" stroke-width="0.45"/>
<rect x="124.00" y="104.66" width="9.22" height="6.76" fill="#84c5ed" stroke="#3c5064" stroke-opacity="0.32" stroke-width="0.45"/>
<rect x="133.22" y="104.66" width="9.22" height="6.76" fill="#95ceef" stroke="#3c5064" stroke-opacity="0.32" stroke-width="0.45"/>
<rect x="142.44" y="104.66" width="9.22" height="6.76" fill="#8ccaee" stroke="#3c5064" stroke-opacity="0.32" stroke-width="0.45"/>
<rect x="151.67" y="104.66" width="9.22" height="6.76" fill="#95ceef" stroke="#3c5064" stroke-opacity="0.32" stroke-width="0.45"/>
<rect x="160.89" y="104.66" width="9.22" height="6.76" fill="#92ccef" stroke="#3c5064" stroke-opacity="0.32" stroke-width="0.45"/>
<rect x="170.11" y="104.66" width="9.22" height="6.76" fill="#96ceef" stroke="#3c5064" stroke-opacity="0.32" stroke-width="0.45"/>
<rect x="179.33" y="104.66" width="9.22" height="6.76" fill="#90ccee" stroke="#3c5064" stroke-opacity="0.32" stroke-width="0.45"/>
<rect x="188.56" y="104.66" width="9.22" height="6.76" fill="#96ceef" stroke="#3c5064" stroke-opacity="0.32" stroke-width="0.45"/>
<rect x="197.78" y="104.66" width="9.22" height="6.76" fill="#96ceef" stroke="#3c5064" stroke-opacity="0.32" stroke-width="0.45"/>
<rect x="124.00" y="111.42" width="9.22" height="6.76" fill="#8bc9ee" stroke="#3c5064" stroke-opacity="0.32" stroke-width="0.45"/>
<rect x="133.22" y="111.42" width="9.22" height="6.76" fill="#8ccaee" stroke="#3c5064" stroke-opacity="0.32" stroke-width="0.45"/>
<rect x="142.44" y="111.42" width="9.22" height="6.76" fill="#96ceef" stroke="#3c5064" stroke-opacity="0.32" stroke-width="0.45"/>
<rect x="151.67" y="111.42" width="9.22" height="6.76" fill="#9ad0ef" stroke="#3c5064" stroke-opacity="0.32" stroke-width="0.45"/>
<rect x="160.89" y="111.42" width="9.22" height="6.76" fill="#8fcbee" stroke="#3c5064" stroke-opacity="0.32" stroke-width="0.45"/>
<rect x="170.11" y="111.42" width="9.22" height="6.76" fill="#92ccef" stroke="#3c5064" stroke-opacity="0.32" stroke-width="0.45"/>
<rect x="179.33" y="111.42" width="9.22" height="6.76" fill="#95ceef" stroke="#3c5064" stroke-opacity="0.32" stroke-width="0.45"/>
<rect x="188.56" y="111.42" width="9.22" height="6.76" fill="#90ccee" stroke="#3c5064" stroke-opacity="0.32" stroke-width="0.45"/>
<rect x="197.78" y="111.42" width="9.22" height="6.76" fill="#91ccee" stroke="#3c5064" stroke-opacity="0.32" stroke-width="0.45"/>
<rect x="124.00" y="118.19" width="9.22" height="6.76" fill="#90ccee" stroke="#3c5064" stroke-opacity="0.32" stroke-width="0.45"/>
<rect x="133.22" y="118.19" width="9.22" height="6.76" fill="#91ccee" stroke="#3c5064" stroke-opacity="0.32" stroke-width="0.45"/>
<rect x="142.44" y="118.19" width="9.22" height="6.76" fill="#95ceef" stroke="#3c5064" stroke-opacity="0.32" stroke-width="0.45"/>
<rect x="151.67" y="118.19" width="9.22" height="6.76" fill="#8fcbee" stroke="#3c5064" stroke-opacity="0.32" stroke-width="0.45"/>
<rect x="160.89" y="118.19" width="9.22" height="6.76" fill="#91ccee" stroke="#3c5064" stroke-opacity="0.32" stroke-width="0.45"/>
<rect x="170.11" y="118.19" width="9.22" height="6.76" fill="#97cfef" stroke="#3c5064" stroke-opacity="0.32" stroke-width="0.45"/>
<rect x="179.33" y="118.19" width="9.22" height="6.76" fill="#84c5ed" stroke="#3c5064" stroke-opacity="0.32" stroke-width="0.45"/>
<rect x="188.56" y="118.19" width="9.22" height="6.76" fill="#94cdef" stroke="#3c5064" stroke-opacity="0.32" stroke-width="0.45"/>
<rect x="197.78" y="118.19" width="9.22" height="6.76" fill="#96ceef" stroke="#3c5064" stroke-opacity="0.32" stroke-width="0.45"/>
<rect x="124.00" y="124.95" width="9.22" height="6.76" fill="#90ccee" stroke="#3c5064" stroke-opacity="0.32" stroke-width="0.45"/>
<rect x="133.22" y="124.95" width="9.22" height="6.76" fill="#8ecbee" stroke="#3c5064" stroke-opacity="0.32" stroke-width="0.45"/>
<rect x="142.44" y="124.95" width="9.22" height="6.76" fill="#97cfef" stroke="#3c5064" stroke-opacity="0.32" stroke-width="0.45"/>
<rect x="151.67" y="124.95" width="9.22" height="6.76" fill="#84c5ed" stroke="#3c5064" stroke-opacity="0.32" stroke-width="0.45"/>
<rect x="160.89" y="124.95" width="9.22" height="6.76" fill="#8dcaee" stroke="#3c5064" stroke-opacity="0.32" stroke-width="0.45"/>
<rect x="170.11" y="124.95" width="9.22" height="6.76" fill="#92ccef" stroke="#3c5064" stroke-opacity="0.32" stroke-width="0.45"/>
<rect x="179.33" y="124.95" width="9.22" height="6.76" fill="#96ceef" stroke="#3c5064" stroke-opacity="0.32" stroke-width="0.45"/>
<rect x="188.56" y="124.95" width="9.22" height="6.76" fill="#8ccaee" stroke="#3c5064" stroke-opacity="0.32" stroke-width="0.45"/>
<rect x="197.78" y="124.95" width="9.22" height="6.76" fill="#90ccee" stroke="#3c5064" stroke-opacity="0.32" stroke-width="0.45"/>
<rect x="124.00" y="131.71" width="9.22" height="6.76" fill="#90ccee" stroke="#3c5064" stroke-opacity="0.32" stroke-width="0.45"/>
<rect x="133.22" y="131.71" width="9.22" height="6.76" fill="#98cfef" stroke="#3c5064" stroke-opacity="0.32" stroke-width="0.45"/>
<rect x="142.44" y="131.71" width="9.22" height="6.76" fill="#92ccef" stroke="#3c5064" stroke-opacity="0.32" stroke-width="0.45"/>
<rect x="151.67" y="131.71" width="9.22" height="6.76" fill="#98cfef" stroke="#3c5064" stroke-opacity="0.32" stroke-width="0.45"/>
<rect x="160.89" y="131.71" width="9.22" height="6.76" fill="#8dcaee" stroke="#3c5064" stroke-opacity="0.32" stroke-width="0.45"/>
<rect x="170.11" y="131.71" width="9.22" height="6.76" fill="#90ccee" stroke="#3c5064" stroke-opacity="0.32" stroke-width="0.45"/>
<rect x="179.33" y="131.71" width="9.22" height="6.76" fill="#96ceef" stroke="#3c5064" stroke-opacity="0.32" stroke-width="0.45"/>
<rect x="188.56" y="131.71" width="9.22" height="6.76" fill="#99d0ef" stroke="#3c5064" stroke-opacity="0.32" stroke-width="0.45"/>
<rect x="197.78" y="131.71" width="9.22" height="6.76" fill="#92ccef" stroke="#3c5064" stroke-opacity="0.32" stroke-width="0.45"/>
<rect x="124.00" y="138.48" width="9.22" height="6.76" fill="#8ecbee" stroke="#3c5064" stroke-opacity="0.32" stroke-width="0.45"/>
<rect x="133.22" y="138.48" width="9.22" height="6.76" fill="#8ccaee" stroke="#3c5064" stroke-opacity="0.32" stroke-width="0.45"/>
<rect x="142.44" y="138.48" width="9.22" height="6.76" fill="#94cdef" stroke="#3c5064" stroke-opacity="0.32" stroke-width="0.45"/>
<rect x="151.67" y="138.48" width="9.22" height="6.76" fill="#a6d5f0" stroke="#3c5064" stroke-opacity="0.32" stroke-width="0.45"/>
<rect x="160.89" y="138.48" width="9.22" height="6.76" fill="#98cfef" stroke="#3c5064" stroke-opacity="0.32" stroke-width="0.45"/>
<rect x="170.11" y="138.48" width="9.22" height="6.76" fill="#98cfef" stroke="#3c5064" stroke-opacity="0.32" stroke-width="0.45"/>
<rect x="179.33" y="138.48" width="9.22" height="6.76" fill="#8dcaee" stroke="#3c5064" stroke-opacity="0.32" stroke-width="0.45"/>
<rect x="188.56" y="138.48" width="9.22" height="6.76" fill="#8fcbee" stroke="#3c5064" stroke-opacity="0.32" stroke-width="0.45"/>
<rect x="197.78" y="138.48" width="9.22" height="6.76" fill="#98cfef" stroke="#3c5064" stroke-opacity="0.32" stroke-width="0.45"/>
<rect x="124.00" y="145.24" width="9.22" height="6.76" fill="#96ceef" stroke="#3c5064" stroke-opacity="0.32" stroke-width="0.45"/>
<rect x="133.22" y="145.24" width="9.22" height="6.76" fill="#98cfef" stroke="#3c5064" stroke-opacity="0.32" stroke-width="0.45"/>
<rect x="142.44" y="145.24" width="9.22" height="6.76" fill="#90ccee" stroke="#3c5064" stroke-opacity="0.32" stroke-width="0.45"/>
<rect x="151.67" y="145.24" width="9.22" height="6.76" fill="#8ccaee" stroke="#3c5064" stroke-opacity="0.32" stroke-width="0.45"/>
<rect x="160.89" y="145.24" width="9.22" height="6.76" fill="#8fcbee" stroke="#3c5064" stroke-opacity="0.32" stroke-width="0.45"/>
<rect x="170.11" y="145.24" width="9.22" height="6.76" fill="#97cfef" stroke="#3c5064" stroke-opacity="0.32" stroke-width="0.45"/>
<rect x="179.33" y="145.24" width="9.22" height="6.76" fill="#8fcbee" stroke="#3c5064" stroke-opacity="0.32" stroke-width="0.45"/>
<rect x="188.56" y="145.24" width="9.22" height="6.76" fill="#90ccee" stroke="#3c5064" stroke-opacity="0.32" stroke-width="0.45"/>
<rect x="197.78" y="145.24" width="9.22" height="6.76" fill="#92ccef" stroke="#3c5064" stroke-opacity="0.32" stroke-width="0.45"/>
<rect x="161.04" y="23.91" width="8.92" height="6.01" rx="0.5" fill="none" stroke="#1e1e1e" stroke-width="1.0"/>
<rect x="142.59" y="57.73" width="8.92" height="6.01" rx="0.5" fill="none" stroke="#1e1e1e" stroke-width="1.0"/>
<rect x="133.37" y="84.78" width="8.92" height="6.01" rx="0.5" fill="none" stroke="#1e1e1e" stroke-width="1.0"/>
<rect x="188.71" y="84.78" width="8.92" height="6.01" rx="0.5" fill="none" stroke="#1e1e1e" stroke-width="1.0"/>
<rect x="197.93" y="84.78" width="8.92" height="6.01" rx="0.5" fill="none" stroke="#1e1e1e" stroke-width="1.0"/>
<rect x="179.48" y="105.06" width="8.92" height="6.01" rx="0.5" fill="none" stroke="#1e1e1e" stroke-width="1.0"/>
<rect x="151.82" y="111.83" width="8.92" height="6.01" rx="0.5" fill="none" stroke="#1e1e1e" stroke-width="1.0"/>
<rect x="170.26" y="125.35" width="8.92" height="6.01" rx="0.5" fill="none" stroke="#1e1e1e" stroke-width="1.0"/>
<rect x="124.15" y="145.64" width="8.92" height="6.01" rx="0.5" fill="none" stroke="#1e1e1e" stroke-width="1.0"/>
<text x="128.61" y="156.70" font-size="5.0" text-anchor="middle" fill="#444">1</text>
<text x="137.83" y="156.70" font-size="5.0" text-anchor="middle" fill="#444">2</text>
<text x="147.06" y="156.70" font-size="5.0" text-anchor="middle" fill="#444">3</text>
<text x="156.28" y="156.70" font-size="5.0" text-anchor="middle" fill="#444">4</text>
<text x="165.50" y="156.70" font-size="5.0" text-anchor="middle" fill="#444">5</text>
<text x="174.72" y="156.70" font-size="5.0" text-anchor="middle" fill="#444">6</text>
<text x="183.94" y="156.70" font-size="5.0" text-anchor="middle" fill="#444">7</text>
<text x="193.17" y="156.70" font-size="5.0" text-anchor="middle" fill="#444">8</text>
<text x="202.39" y="156.70" font-size="5.0" text-anchor="middle" fill="#444">9</text>
<text x="256.90" y="13.50" font-size="7.3" text-anchor="middle" fill="#222" textLength="27.4" lengthAdjust="spacingAndGlyphs">SVAR-92</text>
<rect x="215.30" y="16.75" width="9.24" height="6.76" fill="#8ccaee" stroke="#3c5064" stroke-opacity="0.32" stroke-width="0.45"/>
<rect x="224.54" y="16.75" width="9.24" height="6.76" fill="#8bc9ee" stroke="#3c5064" stroke-opacity="0.32" stroke-width="0.45"/>
<rect x="233.79" y="16.75" width="9.24" height="6.76" fill="#8fcbee" stroke="#3c5064" stroke-opacity="0.32" stroke-width="0.45"/>
<rect x="243.03" y="16.75" width="9.24" height="6.76" fill="#8ac9ee" stroke="#3c5064" stroke-opacity="0.32" stroke-width="0.45"/>
<rect x="252.28" y="16.75" width="9.24" height="6.76" fill="#8dcaee" stroke="#3c5064" stroke-opacity="0.32" stroke-width="0.45"/>
<rect x="261.52" y="16.75" width="9.24" height="6.76" fill="#8ccaee" stroke="#3c5064" stroke-opacity="0.32" stroke-width="0.45"/>
<rect x="270.77" y="16.75" width="9.24" height="6.76" fill="#7cbfec" stroke="#3c5064" stroke-opacity="0.32" stroke-width="0.45"/>
<rect x="280.01" y="16.75" width="9.24" height="6.76" fill="#8dcaee" stroke="#3c5064" stroke-opacity="0.32" stroke-width="0.45"/>
<rect x="289.26" y="16.75" width="9.24" height="6.76" fill="#62a5df" stroke="#3c5064" stroke-opacity="0.32" stroke-width="0.45"/>
<rect x="215.30" y="23.51" width="9.24" height="6.76" fill="#8ccaee" stroke="#3c5064" stroke-opacity="0.32" stroke-width="0.45"/>
<rect x="224.54" y="23.51" width="9.24" height="6.76" fill="#8ac9ee" stroke="#3c5064" stroke-opacity="0.32" stroke-width="0.45"/>
<rect x="233.79" y="23.51" width="9.24" height="6.76" fill="#8ac9ee" stroke="#3c5064" stroke-opacity="0.32" stroke-width="0.45"/>
<rect x="243.03" y="23.51" width="9.24" height="6.76" fill="#7ec1ec" stroke="#3c5064" stroke-opacity="0.32" stroke-width="0.45"/>
<rect x="252.28" y="23.51" width="9.24" height="6.76" fill="#90ccee" stroke="#3c5064" stroke-opacity="0.32" stroke-width="0.45"/>
<rect x="261.52" y="23.51" width="9.24" height="6.76" fill="#7cbfec" stroke="#3c5064" stroke-opacity="0.32" stroke-width="0.45"/>
<rect x="270.77" y="23.51" width="9.24" height="6.76" fill="#8bc9ee" stroke="#3c5064" stroke-opacity="0.32" stroke-width="0.45"/>
<rect x="280.01" y="23.51" width="9.24" height="6.76" fill="#8ecbee" stroke="#3c5064" stroke-opacity="0.32" stroke-width="0.45"/>
<rect x="289.26" y="23.51" width="9.24" height="6.76" fill="#82c4ed" stroke="#3c5064" stroke-opacity="0.32" stroke-width="0.45"/>
<rect x="215.30" y="30.27" width="9.24" height="6.76" fill="#80c2ed" stroke="#3c5064" stroke-opacity="0.32" stroke-width="0.45"/>
<rect x="224.54" y="30.27" width="9.24" height="6.76" fill="#8ccaee" stroke="#3c5064" stroke-opacity="0.32" stroke-width="0.45"/>
<rect x="233.79" y="30.27" width="9.24" height="6.76" fill="#83c4ed" stroke="#3c5064" stroke-opacity="0.32" stroke-width="0.45"/>
<rect x="243.03" y="30.27" width="9.24" height="6.76" fill="#89c8ee" stroke="#3c5064" stroke-opacity="0.32" stroke-width="0.45"/>
<rect x="252.28" y="30.27" width="9.24" height="6.76" fill="#82c4ed" stroke="#3c5064" stroke-opacity="0.32" stroke-width="0.45"/>
<rect x="261.52" y="30.27" width="9.24" height="6.76" fill="#8ccaee" stroke="#3c5064" stroke-opacity="0.32" stroke-width="0.45"/>
<rect x="270.77" y="30.27" width="9.24" height="6.76" fill="#7cbfec" stroke="#3c5064" stroke-opacity="0.32" stroke-width="0.45"/>
<rect x="280.01" y="30.27" width="9.24" height="6.76" fill="#8ac9ee" stroke="#3c5064" stroke-opacity="0.32" stroke-width="0.45"/>
<rect x="289.26" y="30.27" width="9.24" height="6.76" fill="#7ec1ec" stroke="#3c5064" stroke-opacity="0.32" stroke-width="0.45"/>
<rect x="215.30" y="37.04" width="9.24" height="6.76" fill="#90ccee" stroke="#3c5064" stroke-opacity="0.32" stroke-width="0.45"/>
<rect x="224.54" y="37.04" width="9.24" height="6.76" fill="#7dc0ec" stroke="#3c5064" stroke-opacity="0.32" stroke-width="0.45"/>
<rect x="233.79" y="37.04" width="9.24" height="6.76" fill="#80c2ed" stroke="#3c5064" stroke-opacity="0.32" stroke-width="0.45"/>
<rect x="243.03" y="37.04" width="9.24" height="6.76" fill="#8ecbee" stroke="#3c5064" stroke-opacity="0.32" stroke-width="0.45"/>
<rect x="252.28" y="37.04" width="9.24" height="6.76" fill="#8ccaee" stroke="#3c5064" stroke-opacity="0.32" stroke-width="0.45"/>
<rect x="261.52" y="37.04" width="9.24" height="6.76" fill="#8dcaee" stroke="#3c5064" stroke-opacity="0.32" stroke-width="0.45"/>
<rect x="270.77" y="37.04" width="9.24" height="6.76" fill="#7cbfec" stroke="#3c5064" stroke-opacity="0.32" stroke-width="0.45"/>
<rect x="280.01" y="37.04" width="9.24" height="6.76" fill="#8ac9ee" stroke="#3c5064" stroke-opacity="0.32" stroke-width="0.45"/>
<rect x="289.26" y="37.04" width="9.24" height="6.76" fill="#7dc0ec" stroke="#3c5064" stroke-opacity="0.32" stroke-width="0.45"/>
<rect x="215.30" y="43.80" width="9.24" height="6.76" fill="#8fcbee" stroke="#3c5064" stroke-opacity="0.32" stroke-width="0.45"/>
<rect x="224.54" y="43.80" width="9.24" height="6.76" fill="#8ccaee" stroke="#3c5064" stroke-opacity="0.32" stroke-width="0.45"/>
<rect x="233.79" y="43.80" width="9.24" height="6.76" fill="#64a8e1" stroke="#3c5064" stroke-opacity="0.32" stroke-width="0.45"/>
<rect x="243.03" y="43.80" width="9.24" height="6.76" fill="#8ecbee" stroke="#3c5064" stroke-opacity="0.32" stroke-width="0.45"/>
<rect x="252.28" y="43.80" width="9.24" height="6.76" fill="#7fc2ec" stroke="#3c5064" stroke-opacity="0.32" stroke-width="0.45"/>
<rect x="261.52" y="43.80" width="9.24" height="6.76" fill="#7ec1ec" stroke="#3c5064" stroke-opacity="0.32" stroke-width="0.45"/>
<rect x="270.77" y="43.80" width="9.24" height="6.76" fill="#81c3ed" stroke="#3c5064" stroke-opacity="0.32" stroke-width="0.45"/>
<rect x="280.01" y="43.80" width="9.24" height="6.76" fill="#8fcbee" stroke="#3c5064" stroke-opacity="0.32" stroke-width="0.45"/>
<rect x="289.26" y="43.80" width="9.24" height="6.76" fill="#6fb5e8" stroke="#3c5064" stroke-opacity="0.32" stroke-width="0.45"/>
<rect x="215.30" y="50.56" width="9.24" height="6.76" fill="#8ecbee" stroke="#3c5064" stroke-opacity="0.32" stroke-width="0.45"/>
<rect x="224.54" y="50.56" width="9.24" height="6.76" fill="#8dcaee" stroke="#3c5064" stroke-opacity="0.32" stroke-width="0.45"/>
<rect x="233.79" y="50.56" width="9.24" height="6.76" fill="#82c4ed" stroke="#3c5064" stroke-opacity="0.32" stroke-width="0.45"/>
<rect x="243.03" y="50.56" width="9.24" height="6.76" fill="#8fcbee" stroke="#3c5064" stroke-opacity="0.32" stroke-width="0.45"/>
<rect x="252.28" y="50.56" width="9.24" height="6.76" fill="#76bbeb" stroke="#3c5064" stroke-opacity="0.32" stroke-width="0.45"/>
<rect x="261.52" y="50.56" width="9.24" height="6.76" fill="#92ccef" stroke="#3c5064" stroke-opacity="0.32" stroke-width="0.45"/>
<rect x="270.77" y="50.56" width="9.24" height="6.76" fill="#7cbfec" stroke="#3c5064" stroke-opacity="0.32" stroke-width="0.45"/>
<rect x="280.01" y="50.56" width="9.24" height="6.76" fill="#8ccaee" stroke="#3c5064" stroke-opacity="0.32" stroke-width="0.45"/>
<rect x="289.26" y="50.56" width="9.24" height="6.76" fill="#90ccee" stroke="#3c5064" stroke-opacity="0.32" stroke-width="0.45"/>
<rect x="215.30" y="57.33" width="9.24" height="6.76" fill="#7dc0ec" stroke="#3c5064" stroke-opacity="0.32" stroke-width="0.45"/>
<rect x="224.54" y="57.33" width="9.24" height="6.76" fill="#8dcaee" stroke="#3c5064" stroke-opacity="0.32" stroke-width="0.45"/>
<rect x="233.79" y="57.33" width="9.24" height="6.76" fill="#89c8ee" stroke="#3c5064" stroke-opacity="0.32" stroke-width="0.45"/>
<rect x="243.03" y="57.33" width="9.24" height="6.76" fill="#a5d5f0" stroke="#3c5064" stroke-opacity="0.32" stroke-width="0.45"/>
<rect x="252.28" y="57.33" width="9.24" height="6.76" fill="#81c3ed" stroke="#3c5064" stroke-opacity="0.32" stroke-width="0.45"/>
<rect x="261.52" y="57.33" width="9.24" height="6.76" fill="#8ecbee" stroke="#3c5064" stroke-opacity="0.32" stroke-width="0.45"/>
<rect x="270.77" y="57.33" width="9.24" height="6.76" fill="#91ccee" stroke="#3c5064" stroke-opacity="0.32" stroke-width="0.45"/>
<rect x="280.01" y="57.33" width="9.24" height="6.76" fill="#8ccaee" stroke="#3c5064" stroke-opacity="0.32" stroke-width="0.45"/>
<rect x="289.26" y="57.33" width="9.24" height="6.76" fill="#8fcbee" stroke="#3c5064" stroke-opacity="0.32" stroke-width="0.45"/>
<rect x="215.30" y="64.09" width="9.24" height="6.76" fill="#80c2ed" stroke="#3c5064" stroke-opacity="0.32" stroke-width="0.45"/>
<rect x="224.54" y="64.09" width="9.24" height="6.76" fill="#8ecbee" stroke="#3c5064" stroke-opacity="0.32" stroke-width="0.45"/>
<rect x="233.79" y="64.09" width="9.24" height="6.76" fill="#7fc2ec" stroke="#3c5064" stroke-opacity="0.32" stroke-width="0.45"/>
<rect x="243.03" y="64.09" width="9.24" height="6.76" fill="#81c3ed" stroke="#3c5064" stroke-opacity="0.32" stroke-width="0.45"/>
<rect x="252.28" y="64.09" width="9.24" height="6.76" fill="#82c4ed" stroke="#3c5064" stroke-opacity="0.32" stroke-width="0.45"/>
<rect x="261.52" y="64.09" width="9.24" height="6.76" fill="#8dcaee" stroke="#3c5064" stroke-opacity="0.32" stroke-width="0.45"/>
<rect x="270.77" y="64.09" width="9.24" height="6.76" fill="#8fcbee" stroke="#3c5064" stroke-opacity="0.32" stroke-width="0.45"/>
<rect x="280.01" y="64.09" width="9.24" height="6.76" fill="#7cbfec" stroke="#3c5064" stroke-opacity="0.32" stroke-width="0.45"/>
<rect x="289.26" y="64.09" width="9.24" height="6.76" fill="#8fcbee" stroke="#3c5064" stroke-opacity="0.32" stroke-width="0.45"/>
<rect x="215.30" y="70.85" width="9.24" height="6.76" fill="#8ecbee" stroke="#3c5064" stroke-opacity="0.32" stroke-width="0.45"/>
<rect x="224.54" y="70.85" width="9.24" height="6.76" fill="#92ccef" stroke="#3c5064" stroke-opacity="0.32" stroke-width="0.45"/>
<rect x="233.79" y="70.85" width="9.24" height="6.76" fill="#90ccee" stroke="#3c5064" stroke-opacity="0.32" stroke-width="0.45"/>
<rect x="243.03" y="70.85" width="9.24" height="6.76" fill="#7ec1ec" stroke="#3c5064" stroke-opacity="0.32" stroke-width="0.45"/>
<rect x="252.28" y="70.85" width="9.24" height="6.76" fill="#7ec1ec" stroke="#3c5064" stroke-opacity="0.32" stroke-width="0.45"/>
<rect x="261.52" y="70.85" width="9.24" height="6.76" fill="#8fcbee" stroke="#3c5064" stroke-opacity="0.32" stroke-width="0.45"/>
<rect x="270.77" y="70.85" width="9.24" height="6.76" fill="#89c8ee" stroke="#3c5064" stroke-opacity="0.32" stroke-width="0.45"/>
<rect x="280.01" y="70.85" width="9.24" height="6.76" fill="#8dcaee" stroke="#3c5064" stroke-opacity="0.32" stroke-width="0.45"/>
<rect x="289.26" y="70.85" width="9.24" height="6.76" fill="#8bc9ee" stroke="#3c5064" stroke-opacity="0.32" stroke-width="0.45"/>
<rect x="215.30" y="77.61" width="9.24" height="6.76" fill="#7cbfec" stroke="#3c5064" stroke-opacity="0.32" stroke-width="0.45"/>
<rect x="224.54" y="77.61" width="9.24" height="6.76" fill="#8ac9ee" stroke="#3c5064" stroke-opacity="0.32" stroke-width="0.45"/>
<rect x="233.79" y="77.61" width="9.24" height="6.76" fill="#90ccee" stroke="#3c5064" stroke-opacity="0.32" stroke-width="0.45"/>
<rect x="243.03" y="77.61" width="9.24" height="6.76" fill="#7cbfec" stroke="#3c5064" stroke-opacity="0.32" stroke-width="0.45"/>
<rect x="252.28" y="77.61" width="9.24" height="6.76" fill="#a0d3ef" stroke="#3c5064" stroke-opacity="0.32" stroke-width="0.45"/>
<rect x="261.52" y="77.61" width="9.24" height="6.76" fill="#8ccaee" stroke="#3c5064" stroke-opacity="0.32" stroke-width="0.45"/>
<rect x="270.77" y="77.61" width="9.24" height="6.76" fill="#91ccee" stroke="#3c5064" stroke-opacity="0.32" stroke-width="0.45"/>
<rect x="280.01" y="77.61" width="9.24" height="6.76" fill="#7cbfec" stroke="#3c5064" stroke-opacity="0.32" stroke-width="0.45"/>
<rect x="289.26" y="77.61" width="9.24" height="6.76" fill="#8ccaee" stroke="#3c5064" stroke-opacity="0.32" stroke-width="0.45"/>
<rect x="215.30" y="84.38" width="9.24" height="6.76" fill="#7fc2ec" stroke="#3c5064" stroke-opacity="0.32" stroke-width="0.45"/>
<rect x="224.54" y="84.38" width="9.24" height="6.76" fill="#91ccee" stroke="#3c5064" stroke-opacity="0.32" stroke-width="0.45"/>
<rect x="233.79" y="84.38" width="9.24" height="6.76" fill="#90ccee" stroke="#3c5064" stroke-opacity="0.32" stroke-width="0.45"/>
<rect x="243.03" y="84.38" width="9.24" height="6.76" fill="#82c4ed" stroke="#3c5064" stroke-opacity="0.32" stroke-width="0.45"/>
<rect x="252.28" y="84.38" width="9.24" height="6.76" fill="#8ccaee" stroke="#3c5064" stroke-opacity="0.32" stroke-width="0.45"/>
<rect x="261.52" y="84.38" width="9.24" height="6.76" fill="#8ccaee" stroke="#3c5064" stroke-opacity="0.32" stroke-width="0.45"/>
<rect x="270.77" y="84.38" width="9.24" height="6.76" fill="#8ccaee" stroke="#3c5064" stroke-opacity="0.32" stroke-width="0.45"/>
<rect x="280.01" y="84.38" width="9.24" height="6.76" fill="#91ccee" stroke="#3c5064" stroke-opacity="0.32" stroke-width="0.45"/>
<rect x="289.26" y="84.38" width="9.24" height="6.76" fill="#92ccef" stroke="#3c5064" stroke-opacity="0.32" stroke-width="0.45"/>
<rect x="215.30" y="91.14" width="9.24" height="6.76" fill="#8bc9ee" stroke="#3c5064" stroke-opacity="0.32" stroke-width="0.45"/>
<rect x="224.54" y="91.14" width="9.24" height="6.76" fill="#8bc9ee" stroke="#3c5064" stroke-opacity="0.32" stroke-width="0.45"/>
<rect x="233.79" y="91.14" width="9.24" height="6.76" fill="#8bc9ee" stroke="#3c5064" stroke-opacity="0.32" stroke-width="0.45"/>
<rect x="243.03" y="91.14" width="9.24" height="6.76" fill="#7dc0ec" stroke="#3c5064" stroke-opacity="0.32" stroke-width="0.45"/>
<rect x="252.28" y="91.14" width="9.24" height="6.76" fill="#8dcaee" stroke="#3c5064" stroke-opacity="0.32" stroke-width="0.45"/>
<rect x="261.52" y="91.14" width="9.24" height="6.76" fill="#8ecbee" stroke="#3c5064" stroke-opacity="0.32" stroke-width="0.45"/>
<rect x="270.77" y="91.14" width="9.24" height="6.76" fill="#8ccaee" stroke="#3c5064" stroke-opacity="0.32" stroke-width="0.45"/>
<rect x="280.01" y="91.14" width="9.24" height="6.76" fill="#7cbfec" stroke="#3c5064" stroke-opacity="0.32" stroke-width="0.45"/>
<rect x="289.26" y="91.14" width="9.24" height="6.76" fill="#77bceb" stroke="#3c5064" stroke-opacity="0.32" stroke-width="0.45"/>
<rect x="215.30" y="97.90" width="9.24" height="6.76" fill="#7ec1ec" stroke="#3c5064" stroke-opacity="0.32" stroke-width="0.45"/>
<rect x="224.54" y="97.90" width="9.24" height="6.76" fill="#8ecbee" stroke="#3c5064" stroke-opacity="0.32" stroke-width="0.45"/>
<rect x="233.79" y="97.90" width="9.24" height="6.76" fill="#92ccef" stroke="#3c5064" stroke-opacity="0.32" stroke-width="0.45"/>
<rect x="243.03" y="97.90" width="9.24" height="6.76" fill="#81c3ed" stroke="#3c5064" stroke-opacity="0.32" stroke-width="0.45"/>
<rect x="252.28" y="97.90" width="9.24" height="6.76" fill="#8dcaee" stroke="#3c5064" stroke-opacity="0.32" stroke-width="0.45"/>
<rect x="261.52" y="97.90" width="9.24" height="6.76" fill="#80c2ed" stroke="#3c5064" stroke-opacity="0.32" stroke-width="0.45"/>
<rect x="270.77" y="97.90" width="9.24" height="6.76" fill="#81c3ed" stroke="#3c5064" stroke-opacity="0.32" stroke-width="0.45"/>
<rect x="280.01" y="97.90" width="9.24" height="6.76" fill="#7cbfec" stroke="#3c5064" stroke-opacity="0.32" stroke-width="0.45"/>
<rect x="289.26" y="97.90" width="9.24" height="6.76" fill="#91ccee" stroke="#3c5064" stroke-opacity="0.32" stroke-width="0.45"/>
<rect x="215.30" y="104.66" width="9.24" height="6.76" fill="#81c3ed" stroke="#3c5064" stroke-opacity="0.32" stroke-width="0.45"/>
<rect x="224.54" y="104.66" width="9.24" height="6.76" fill="#91ccee" stroke="#3c5064" stroke-opacity="0.32" stroke-width="0.45"/>
<rect x="233.79" y="104.66" width="9.24" height="6.76" fill="#a6d5f0" stroke="#3c5064" stroke-opacity="0.32" stroke-width="0.45"/>
<rect x="243.03" y="104.66" width="9.24" height="6.76" fill="#7ec1ec" stroke="#3c5064" stroke-opacity="0.32" stroke-width="0.45"/>
<rect x="252.28" y="104.66" width="9.24" height="6.76" fill="#8ccaee" stroke="#3c5064" stroke-opacity="0.32" stroke-width="0.45"/>
<rect x="261.52" y="104.66" width="9.24" height="6.76" fill="#7cbfec" stroke="#3c5064" stroke-opacity="0.32" stroke-width="0.45"/>
<rect x="270.77" y="104.66" width="9.24" height="6.76" fill="#8ecbee" stroke="#3c5064" stroke-opacity="0.32" stroke-width="0.45"/>
<rect x="280.01" y="104.66" width="9.24" height="6.76" fill="#7cbfec" stroke="#3c5064" stroke-opacity="0.32" stroke-width="0.45"/>
<rect x="289.26" y="104.66" width="9.24" height="6.76" fill="#8ac9ee" stroke="#3c5064" stroke-opacity="0.32" stroke-width="0.45"/>
<rect x="215.30" y="111.42" width="9.24" height="6.76" fill="#8bc9ee" stroke="#3c5064" stroke-opacity="0.32" stroke-width="0.45"/>
<rect x="224.54" y="111.42" width="9.24" height="6.76" fill="#7dc0ec" stroke="#3c5064" stroke-opacity="0.32" stroke-width="0.45"/>
<rect x="233.79" y="111.42" width="9.24" height="6.76" fill="#8ccaee" stroke="#3c5064" stroke-opacity="0.32" stroke-width="0.45"/>
<rect x="243.03" y="111.42" width="9.24" height="6.76" fill="#8ac9ee" stroke="#3c5064" stroke-opacity="0.32" stroke-width="0.45"/>
<rect x="252.28" y="111.42" width="9.24" height="6.76" fill="#89c8ee" stroke="#3c5064" stroke-opacity="0.32" stroke-width="0.45"/>
<rect x="261.52" y="111.42" width="9.24" height="6.76" fill="#7dc0ec" stroke="#3c5064" stroke-opacity="0.32" stroke-width="0.45"/>
<rect x="270.77" y="111.42" width="9.24" height="6.76" fill="#8ac9ee" stroke="#3c5064" stroke-opacity="0.32" stroke-width="0.45"/>
<rect x="280.01" y="111.42" width="9.24" height="6.76" fill="#7ec1ec" stroke="#3c5064" stroke-opacity="0.32" stroke-width="0.45"/>
<rect x="289.26" y="111.42" width="9.24" height="6.76" fill="#7cbfec" stroke="#3c5064" stroke-opacity="0.32" stroke-width="0.45"/>
<rect x="215.30" y="118.19" width="9.24" height="6.76" fill="#91ccee" stroke="#3c5064" stroke-opacity="0.32" stroke-width="0.45"/>
<rect x="224.54" y="118.19" width="9.24" height="6.76" fill="#8ecbee" stroke="#3c5064" stroke-opacity="0.32" stroke-width="0.45"/>
<rect x="233.79" y="118.19" width="9.24" height="6.76" fill="#8ac9ee" stroke="#3c5064" stroke-opacity="0.32" stroke-width="0.45"/>
<rect x="243.03" y="118.19" width="9.24" height="6.76" fill="#8ccaee" stroke="#3c5064" stroke-opacity="0.32" stroke-width="0.45"/>
<rect x="252.28" y="118.19" width="9.24" height="6.76" fill="#7ec1ec" stroke="#3c5064" stroke-opacity="0.32" stroke-width="0.45"/>
<rect x="261.52" y="118.19" width="9.24" height="6.76" fill="#8ccaee" stroke="#3c5064" stroke-opacity="0.32" stroke-width="0.45"/>
<rect x="270.77" y="118.19" width="9.24" height="6.76" fill="#8ac9ee" stroke="#3c5064" stroke-opacity="0.32" stroke-width="0.45"/>
<rect x="280.01" y="118.19" width="9.24" height="6.76" fill="#a6d5f0" stroke="#3c5064" stroke-opacity="0.32" stroke-width="0.45"/>
<rect x="289.26" y="118.19" width="9.24" height="6.76" fill="#83c4ed" stroke="#3c5064" stroke-opacity="0.32" stroke-width="0.45"/>
<rect x="215.30" y="124.95" width="9.24" height="6.76" fill="#7fc2ec" stroke="#3c5064" stroke-opacity="0.32" stroke-width="0.45"/>
<rect x="224.54" y="124.95" width="9.24" height="6.76" fill="#8dcaee" stroke="#3c5064" stroke-opacity="0.32" stroke-width="0.45"/>
<rect x="233.79" y="124.95" width="9.24" height="6.76" fill="#8ac9ee" stroke="#3c5064" stroke-opacity="0.32" stroke-width="0.45"/>
<rect x="243.03" y="124.95" width="9.24" height="6.76" fill="#8ac9ee" stroke="#3c5064" stroke-opacity="0.32" stroke-width="0.45"/>
<rect x="252.28" y="124.95" width="9.24" height="6.76" fill="#7ec1ec" stroke="#3c5064" stroke-opacity="0.32" stroke-width="0.45"/>
<rect x="261.52" y="124.95" width="9.24" height="6.76" fill="#8ccaee" stroke="#3c5064" stroke-opacity="0.32" stroke-width="0.45"/>
<rect x="270.77" y="124.95" width="9.24" height="6.76" fill="#81c3ed" stroke="#3c5064" stroke-opacity="0.32" stroke-width="0.45"/>
<rect x="280.01" y="124.95" width="9.24" height="6.76" fill="#8bc9ee" stroke="#3c5064" stroke-opacity="0.32" stroke-width="0.45"/>
<rect x="289.26" y="124.95" width="9.24" height="6.76" fill="#74baea" stroke="#3c5064" stroke-opacity="0.32" stroke-width="0.45"/>
<rect x="215.30" y="131.71" width="9.24" height="6.76" fill="#83c4ed" stroke="#3c5064" stroke-opacity="0.32" stroke-width="0.45"/>
<rect x="224.54" y="131.71" width="9.24" height="6.76" fill="#8dcaee" stroke="#3c5064" stroke-opacity="0.32" stroke-width="0.45"/>
<rect x="233.79" y="131.71" width="9.24" height="6.76" fill="#8ac9ee" stroke="#3c5064" stroke-opacity="0.32" stroke-width="0.45"/>
<rect x="243.03" y="131.71" width="9.24" height="6.76" fill="#8dcaee" stroke="#3c5064" stroke-opacity="0.32" stroke-width="0.45"/>
<rect x="252.28" y="131.71" width="9.24" height="6.76" fill="#e46244" stroke="#3c5064" stroke-opacity="0.32" stroke-width="0.45"/>
<rect x="261.52" y="131.71" width="9.24" height="6.76" fill="#8dcaee" stroke="#3c5064" stroke-opacity="0.32" stroke-width="0.45"/>
<rect x="270.77" y="131.71" width="9.24" height="6.76" fill="#83c4ed" stroke="#3c5064" stroke-opacity="0.32" stroke-width="0.45"/>
<rect x="280.01" y="131.71" width="9.24" height="6.76" fill="#91ccee" stroke="#3c5064" stroke-opacity="0.32" stroke-width="0.45"/>
<rect x="289.26" y="131.71" width="9.24" height="6.76" fill="#81c3ed" stroke="#3c5064" stroke-opacity="0.32" stroke-width="0.45"/>
<rect x="215.30" y="138.48" width="9.24" height="6.76" fill="#7ec1ec" stroke="#3c5064" stroke-opacity="0.32" stroke-width="0.45"/>
<rect x="224.54" y="138.48" width="9.24" height="6.76" fill="#8ccaee" stroke="#3c5064" stroke-opacity="0.32" stroke-width="0.45"/>
<rect x="233.79" y="138.48" width="9.24" height="6.76" fill="#8bc9ee" stroke="#3c5064" stroke-opacity="0.32" stroke-width="0.45"/>
<rect x="243.03" y="138.48" width="9.24" height="6.76" fill="#a6d5f0" stroke="#3c5064" stroke-opacity="0.32" stroke-width="0.45"/>
<rect x="252.28" y="138.48" width="9.24" height="6.76" fill="#8dcaee" stroke="#3c5064" stroke-opacity="0.32" stroke-width="0.45"/>
<rect x="261.52" y="138.48" width="9.24" height="6.76" fill="#81c3ed" stroke="#3c5064" stroke-opacity="0.32" stroke-width="0.45"/>
<rect x="270.77" y="138.48" width="9.24" height="6.76" fill="#7ec1ec" stroke="#3c5064" stroke-opacity="0.32" stroke-width="0.45"/>
<rect x="280.01" y="138.48" width="9.24" height="6.76" fill="#8bc9ee" stroke="#3c5064" stroke-opacity="0.32" stroke-width="0.45"/>
<rect x="289.26" y="138.48" width="9.24" height="6.76" fill="#90ccee" stroke="#3c5064" stroke-opacity="0.32" stroke-width="0.45"/>
<rect x="215.30" y="145.24" width="9.24" height="6.76" fill="#92ccef" stroke="#3c5064" stroke-opacity="0.32" stroke-width="0.45"/>
<rect x="224.54" y="145.24" width="9.24" height="6.76" fill="#91ccee" stroke="#3c5064" stroke-opacity="0.32" stroke-width="0.45"/>
<rect x="233.79" y="145.24" width="9.24" height="6.76" fill="#90ccee" stroke="#3c5064" stroke-opacity="0.32" stroke-width="0.45"/>
<rect x="243.03" y="145.24" width="9.24" height="6.76" fill="#90ccee" stroke="#3c5064" stroke-opacity="0.32" stroke-width="0.45"/>
<rect x="252.28" y="145.24" width="9.24" height="6.76" fill="#8fcbee" stroke="#3c5064" stroke-opacity="0.32" stroke-width="0.45"/>
<rect x="261.52" y="145.24" width="9.24" height="6.76" fill="#7dc0ec" stroke="#3c5064" stroke-opacity="0.32" stroke-width="0.45"/>
<rect x="270.77" y="145.24" width="9.24" height="6.76" fill="#7fc2ec" stroke="#3c5064" stroke-opacity="0.32" stroke-width="0.45"/>
<rect x="280.01" y="145.24" width="9.24" height="6.76" fill="#7ec1ec" stroke="#3c5064" stroke-opacity="0.32" stroke-width="0.45"/>
<rect x="289.26" y="145.24" width="9.24" height="6.76" fill="#89c8ee" stroke="#3c5064" stroke-opacity="0.32" stroke-width="0.45"/>
<rect x="252.43" y="23.91" width="8.94" height="6.01" rx="0.5" fill="none" stroke="#1e1e1e" stroke-width="1.0"/>
<rect x="233.94" y="57.73" width="8.94" height="6.01" rx="0.5" fill="none" stroke="#1e1e1e" stroke-width="1.0"/>
<rect x="224.69" y="84.78" width="8.94" height="6.01" rx="0.5" fill="none" stroke="#1e1e1e" stroke-width="1.0"/>
<rect x="280.16" y="84.78" width="8.94" height="6.01" rx="0.5" fill="none" stroke="#1e1e1e" stroke-width="1.0"/>
<rect x="289.41" y="84.78" width="8.94" height="6.01" rx="0.5" fill="none" stroke="#1e1e1e" stroke-width="1.0"/>
<rect x="270.92" y="105.06" width="8.94" height="6.01" rx="0.5" fill="none" stroke="#1e1e1e" stroke-width="1.0"/>
<rect x="243.18" y="111.83" width="8.94" height="6.01" rx="0.5" fill="none" stroke="#1e1e1e" stroke-width="1.0"/>
<rect x="261.67" y="125.35" width="8.94" height="6.01" rx="0.5" fill="none" stroke="#1e1e1e" stroke-width="1.0"/>
<rect x="215.45" y="145.64" width="8.94" height="6.01" rx="0.5" fill="none" stroke="#1e1e1e" stroke-width="1.0"/>
<text x="219.92" y="156.70" font-size="5.0" text-anchor="middle" fill="#444">1</text>
<text x="229.17" y="156.70" font-size="5.0" text-anchor="middle" fill="#444">2</text>
<text x="238.41" y="156.70" font-size="5.0" text-anchor="middle" fill="#444">3</text>
<text x="247.66" y="156.70" font-size="5.0" text-anchor="middle" fill="#444">4</text>
<text x="256.90" y="156.70" font-size="5.0" text-anchor="middle" fill="#444">5</text>
<text x="266.14" y="156.70" font-size="5.0" text-anchor="middle" fill="#444">6</text>
<text x="275.39" y="156.70" font-size="5.0" text-anchor="middle" fill="#444">7</text>
<text x="284.63" y="156.70" font-size="5.0" text-anchor="middle" fill="#444">8</text>
<text x="293.88" y="156.70" font-size="5.0" text-anchor="middle" fill="#444">9</text>
<defs><linearGradient id="cb1" x1="0" y1="1" x2="0" y2="0"><stop offset="0.000" stop-color="#5fa1dd"/><stop offset="0.050" stop-color="#76bbeb"/><stop offset="0.100" stop-color="#88c8ee"/><stop offset="0.150" stop-color="#9ed2ef"/><stop offset="0.200" stop-color="#b9def2"/><stop offset="0.250" stop-color="#d9edf6"/><stop offset="0.300" stop-color="#fbfbfb"/><stop offset="0.350" stop-color="#f8eee6"/><stop offset="0.400" stop-color="#f5e1d4"/><stop offset="0.450" stop-color="#f2d4c3"/><stop offset="0.500" stop-color="#eec7b2"/><stop offset="0.550" stop-color="#ecb89f"/><stop offset="0.600" stop-color="#e9a78b"/><stop offset="0.650" stop-color="#e78e70"/><stop offset="0.700" stop-color="#e6704f"/><stop offset="0.750" stop-color="#e3593d"/><stop offset="0.800" stop-color="#db4632"/><stop offset="0.850" stop-color="#cf3528"/><stop offset="0.900" stop-color="#b7271d"/><stop offset="0.950" stop-color="#a11b14"/><stop offset="1.000" stop-color="#901411"/></linearGradient></defs>
<rect x="304.0" y="17.2" width="4.6" height="65.0" fill="url(#cb1)"/>
<text x="310.00" y="26.20" font-size="6.8" text-anchor="start" fill="#333">4</text>
<text x="310.00" y="39.30" font-size="6.8" text-anchor="start" fill="#333">3</text>
<text x="310.00" y="52.30" font-size="6.8" text-anchor="start" fill="#333">2</text>
<text x="310.00" y="65.10" font-size="6.8" text-anchor="start" fill="#333">1</text>
<text x="310.00" y="78.40" font-size="6.8" text-anchor="start" fill="#333">0</text>
<text x="307.60" y="7.70" font-size="6.6" text-anchor="middle" fill="#333" textLength="21.8" lengthAdjust="spacingAndGlyphs">Log2 FC</text>
<text x="307.40" y="14.50" font-size="6.6" text-anchor="middle" fill="#333" textLength="37.4" lengthAdjust="spacingAndGlyphs">pMHC Binding</text>
<text x="4.20" y="15.80" font-size="19" text-anchor="start" fill="#000" font-weight="bold">a</text>
<text x="7.90" y="170.10" font-size="7.4" text-anchor="start" fill="#2a2a2a" textLength="18.9" lengthAdjust="spacingAndGlyphs">TRAV:</text>
<text x="7.90" y="178.50" font-size="7.4" text-anchor="start" fill="#2a2a2a" textLength="18.2" lengthAdjust="spacingAndGlyphs">TRAJ:</text>
<text x="7.90" y="187.40" font-size="7.4" text-anchor="start" fill="#2a2a2a" textLength="23.6" lengthAdjust="spacingAndGlyphs">CDR3α:</text>
<text x="7.90" y="196.30" font-size="7.4" text-anchor="start" fill="#2a2a2a" textLength="18.7" lengthAdjust="spacingAndGlyphs">TRBV:</text>
<text x="7.90" y="205.20" font-size="7.4" text-anchor="start" fill="#2a2a2a" textLength="18.2" lengthAdjust="spacingAndGlyphs">TRBJ:</text>
<text x="7.90" y="213.70" font-size="7.4" text-anchor="start" fill="#2a2a2a" textLength="23.6" lengthAdjust="spacingAndGlyphs">CDR3β:</text>
<text x="71.40" y="170.10" font-size="7.4" text-anchor="middle" fill="#2a2a2a" textLength="47.1" lengthAdjust="spacingAndGlyphs">TRAV38-2/DV8</text>
<text x="71.40" y="178.50" font-size="7.4" text-anchor="middle" fill="#2a2a2a" textLength="24.6" lengthAdjust="spacingAndGlyphs">TRAJ41</text>
<text x="71.40" y="187.40" font-size="7.4" text-anchor="middle" fill="#2a2a2a" textLength="65.7" lengthAdjust="spacingAndGlyphs">CAYRSALGPGYALNF</text>
<text x="71.40" y="196.30" font-size="7.4" text-anchor="middle" fill="#2a2a2a" textLength="25.6" lengthAdjust="spacingAndGlyphs">TRBV13</text>
<text x="71.40" y="205.20" font-size="7.4" text-anchor="middle" fill="#2a2a2a" textLength="26.6" lengthAdjust="spacingAndGlyphs">TRBJ2-3</text>
<text x="71.40" y="213.70" font-size="7.4" text-anchor="middle" fill="#2a2a2a" textLength="63.3" lengthAdjust="spacingAndGlyphs">CASSRGGGTDTQYF</text>
<text x="166.20" y="170.10" font-size="7.4" text-anchor="middle" fill="#2a2a2a" textLength="21" lengthAdjust="spacingAndGlyphs">TRAV5</text>
<text x="166.20" y="178.50" font-size="7.4" text-anchor="middle" fill="#2a2a2a" textLength="24.7" lengthAdjust="spacingAndGlyphs">TRAJ24</text>
<text x="166.20" y="187.40" font-size="7.4" text-anchor="middle" fill="#2a2a2a" textLength="70.5" lengthAdjust="spacingAndGlyphs">CAEIPPSTDSWGKLQF</text>
<text x="166.20" y="196.30" font-size="7.4" text-anchor="middle" fill="#2a2a2a" textLength="25.5" lengthAdjust="spacingAndGlyphs">TRBV20</text>
<text x="166.20" y="205.20" font-size="7.4" text-anchor="middle" fill="#2a2a2a" textLength="26.3" lengthAdjust="spacingAndGlyphs">TRBJ2-1</text>
<text x="166.20" y="213.70" font-size="7.4" text-anchor="middle" fill="#2a2a2a" textLength="49.4" lengthAdjust="spacingAndGlyphs">CSAQQGVEQFF</text>
<text x="257.50" y="170.10" font-size="7.4" text-anchor="middle" fill="#2a2a2a" textLength="31.6" lengthAdjust="spacingAndGlyphs">TRAV26-2</text>
<text x="257.50" y="178.50" font-size="7.4" text-anchor="middle" fill="#2a2a2a" textLength="25.3" lengthAdjust="spacingAndGlyphs">TRAJ26</text>
<text x="257.50" y="187.40" font-size="7.4" text-anchor="middle" fill="#2a2a2a" textLength="59.7" lengthAdjust="spacingAndGlyphs">CILIVGNYGQNFVF</text>
<text x="257.50" y="196.30" font-size="7.4" text-anchor="middle" fill="#2a2a2a" textLength="28.4" lengthAdjust="spacingAndGlyphs">TRBV5-6</text>
<text x="257.50" y="205.20" font-size="7.4" text-anchor="middle" fill="#2a2a2a" textLength="27.6" lengthAdjust="spacingAndGlyphs">TRBJ2-7</text>
<text x="257.50" y="213.70" font-size="7.4" text-anchor="middle" fill="#2a2a2a" textLength="61.3" lengthAdjust="spacingAndGlyphs">CASSLIYSLSREQYF</text>
<rect x="359.20" y="18.00" width="10.40" height="6.80" fill="#333333" stroke="#e0e0e0" stroke-width="0.5"/>
<rect x="369.60" y="18.00" width="10.40" height="6.80" fill="#333333" stroke="#e0e0e0" stroke-width="0.5"/>
<rect x="380.00" y="18.00" width="10.40" height="6.80" fill="#999999" stroke="#e0e0e0" stroke-width="0.5"/>
<rect x="390.40" y="18.00" width="10.40" height="6.80" fill="#333333" stroke="#e0e0e0" stroke-width="0.5"/>
<rect x="400.80" y="18.00" width="10.40" height="6.80" fill="#f08221" stroke="#e0e0e0" stroke-width="0.5"/>
<rect x="411.20" y="18.00" width="10.40" height="6.80" fill="#333333" stroke="#e0e0e0" stroke-width="0.5"/>
<rect x="421.60" y="18.00" width="10.40" height="6.80" fill="#999999" stroke="#e0e0e0" stroke-width="0.5"/>
<rect x="432.00" y="18.00" width="10.40" height="6.80" fill="#333333" stroke="#e0e0e0" stroke-width="0.5"/>
<rect x="442.40" y="18.00" width="10.40" height="6.80" fill="#333333" stroke="#e0e0e0" stroke-width="0.5"/>
<rect x="359.20" y="24.80" width="10.40" height="6.80" fill="#333333" stroke="#e0e0e0" stroke-width="0.5"/>
<rect x="369.60" y="24.80" width="10.40" height="6.80" fill="#333333" stroke="#e0e0e0" stroke-width="0.5"/>
<rect x="380.00" y="24.80" width="10.40" height="6.80" fill="#333333" stroke="#e0e0e0" stroke-width="0.5"/>
<rect x="390.40" y="24.80" width="10.40" height="6.80" fill="#333333" stroke="#e0e0e0" stroke-width="0.5"/>
<rect x="400.80" y="24.80" width="10.40" height="6.80" fill="#999999" stroke="#e0e0e0" stroke-width="0.5"/>
<rect x="411.20" y="24.80" width="10.40" height="6.80" fill="#333333" stroke="#e0e0e0" stroke-width="0.5"/>
<rect x="421.60" y="24.80" width="10.40" height="6.80" fill="#ffffff" stroke="#e0e0e0" stroke-width="0.5"/>
<rect x="432.00" y="24.80" width="10.40" height="6.80" fill="#333333" stroke="#e0e0e0" stroke-width="0.5"/>
<rect x="442.40" y="24.80" width="10.40" height="6.80" fill="#999999" stroke="#e0e0e0" stroke-width="0.5"/>
<rect x="359.20" y="31.60" width="10.40" height="6.80" fill="#333333" stroke="#e0e0e0" stroke-width="0.5"/>
<rect x="369.60" y="31.60" width="10.40" height="6.80" fill="#999999" stroke="#e0e0e0" stroke-width="0.5"/>
<rect x="380.00" y="31.60" width="10.40" height="6.80" fill="#333333" stroke="#e0e0e0" stroke-width="0.5"/>
<rect x="390.40" y="31.60" width="10.40" height="6.80" fill="#333333" stroke="#e0e0e0" stroke-width="0.5"/>
<rect x="400.80" y="31.60" width="10.40" height="6.80" fill="#ffffff" stroke="#e0e0e0" stroke-width="0.5"/>
<rect x="411.20" y="31.60" width="10.40" height="6.80" fill="#333333" stroke="#e0e0e0" stroke-width="0.5"/>
<rect x="421.60" y="31.60" width="10.40" height="6.80" fill="#999999" stroke="#e0e0e0" stroke-width="0.5"/>
<rect x="432.00" y="31.60" width="10.40" height="6.80" fill="#333333" stroke="#e0e0e0" stroke-width="0.5"/>
<rect x="442.40" y="31.60" width="10.40" height="6.80" fill="#333333" stroke="#e0e0e0" stroke-width="0.5"/>
<rect x="359.20" y="38.40" width="10.40" height="6.80" fill="#333333" stroke="#e0e0e0" stroke-width="0.5"/>
<rect x="369.60" y="38.40" width="10.40" height="6.80" fill="#333333" stroke="#e0e0e0" stroke-width="0.5"/>
<rect x="380.00" y="38.40" width="10.40" height="6.80" fill="#ffffff" stroke="#e0e0e0" stroke-width="0.5"/>
<rect x="390.40" y="38.40" width="10.40" height="6.80" fill="#333333" stroke="#e0e0e0" stroke-width="0.5"/>
<rect x="400.80" y="38.40" width="10.40" height="6.80" fill="#ffffff" stroke="#e0e0e0" stroke-width="0.5"/>
<rect x="411.20" y="38.40" width="10.40" height="6.80" fill="#333333" stroke="#e0e0e0" stroke-width="0.5"/>
<rect x="421.60" y="38.40" width="10.40" height="6.80" fill="#f08221" stroke="#e0e0e0" stroke-width="0.5"/>
<rect x="432.00" y="38.40" width="10.40" height="6.80" fill="#333333" stroke="#e0e0e0" stroke-width="0.5"/>
<rect x="442.40" y="38.40" width="10.40" height="6.80" fill="#333333" stroke="#e0e0e0" stroke-width="0.5"/>
<rect x="359.20" y="45.20" width="10.40" height="6.80" fill="#333333" stroke="#e0e0e0" stroke-width="0.5"/>
<rect x="369.60" y="45.20" width="10.40" height="6.80" fill="#999999" stroke="#e0e0e0" stroke-width="0.5"/>
<rect x="380.00" y="45.20" width="10.40" height="6.80" fill="#999999" stroke="#e0e0e0" stroke-width="0.5"/>
<rect x="390.40" y="45.20" width="10.40" height="6.80" fill="#333333" stroke="#e0e0e0" stroke-width="0.5"/>
<rect x="400.80" y="45.20" width="10.40" height="6.80" fill="#f08221" stroke="#e0e0e0" stroke-width="0.5"/>
<rect x="411.20" y="45.20" width="10.40" height="6.80" fill="#333333" stroke="#e0e0e0" stroke-width="0.5"/>
<rect x="421.60" y="45.20" width="10.40" height="6.80" fill="#999999" stroke="#e0e0e0" stroke-width="0.5"/>
<rect x="432.00" y="45.20" width="10.40" height="6.80" fill="#333333" stroke="#e0e0e0" stroke-width="0.5"/>
<rect x="442.40" y="45.20" width="10.40" height="6.80" fill="#333333" stroke="#e0e0e0" stroke-width="0.5"/>
<rect x="359.20" y="52.00" width="10.40" height="6.80" fill="#333333" stroke="#e0e0e0" stroke-width="0.5"/>
<rect x="369.60" y="52.00" width="10.40" height="6.80" fill="#333333" stroke="#e0e0e0" stroke-width="0.5"/>
<rect x="380.00" y="52.00" width="10.40" height="6.80" fill="#999999" stroke="#e0e0e0" stroke-width="0.5"/>
<rect x="390.40" y="52.00" width="10.40" height="6.80" fill="#333333" stroke="#e0e0e0" stroke-width="0.5"/>
<rect x="400.80" y="52.00" width="10.40" height="6.80" fill="#ffffff" stroke="#e0e0e0" stroke-width="0.5"/>
<rect x="411.20" y="52.00" width="10.40" height="6.80" fill="#ffffff" stroke="#e0e0e0" stroke-width="0.5"/>
<rect x="421.60" y="52.00" width="10.40" height="6.80" fill="#ffffff" stroke="#e0e0e0" stroke-width="0.5"/>
<rect x="432.00" y="52.00" width="10.40" height="6.80" fill="#333333" stroke="#e0e0e0" stroke-width="0.5"/>
<rect x="442.40" y="52.00" width="10.40" height="6.80" fill="#333333" stroke="#e0e0e0" stroke-width="0.5"/>
<rect x="359.20" y="58.80" width="10.40" height="6.80" fill="#333333" stroke="#e0e0e0" stroke-width="0.5"/>
<rect x="369.60" y="58.80" width="10.40" height="6.80" fill="#333333" stroke="#e0e0e0" stroke-width="0.5"/>
<rect x="380.00" y="58.80" width="10.40" height="6.80" fill="#999999" stroke="#e0e0e0" stroke-width="0.5"/>
<rect x="390.40" y="58.80" width="10.40" height="6.80" fill="#333333" stroke="#e0e0e0" stroke-width="0.5"/>
<rect x="400.80" y="58.80" width="10.40" height="6.80" fill="#ffffff" stroke="#e0e0e0" stroke-width="0.5"/>
<rect x="411.20" y="58.80" width="10.40" height="6.80" fill="#333333" stroke="#e0e0e0" stroke-width="0.5"/>
<rect x="421.60" y="58.80" width="10.40" height="6.80" fill="#333333" stroke="#e0e0e0" stroke-width="0.5"/>
<rect x="432.00" y="58.80" width="10.40" height="6.80" fill="#333333" stroke="#e0e0e0" stroke-width="0.5"/>
<rect x="442.40" y="58.80" width="10.40" height="6.80" fill="#333333" stroke="#e0e0e0" stroke-width="0.5"/>
<rect x="359.20" y="65.60" width="10.40" height="6.80" fill="#333333" stroke="#e0e0e0" stroke-width="0.5"/>
<rect x="369.60" y="65.60" width="10.40" height="6.80" fill="#999999" stroke="#e0e0e0" stroke-width="0.5"/>
<rect x="380.00" y="65.60" width="10.40" height="6.80" fill="#333333" stroke="#e0e0e0" stroke-width="0.5"/>
<rect x="390.40" y="65.60" width="10.40" height="6.80" fill="#999999" stroke="#e0e0e0" stroke-width="0.5"/>
<rect x="400.80" y="65.60" width="10.40" height="6.80" fill="#f08221" stroke="#e0e0e0" stroke-width="0.5"/>
<rect x="411.20" y="65.60" width="10.40" height="6.80" fill="#333333" stroke="#e0e0e0" stroke-width="0.5"/>
<rect x="421.60" y="65.60" width="10.40" height="6.80" fill="#333333" stroke="#e0e0e0" stroke-width="0.5"/>
<rect x="432.00" y="65.60" width="10.40" height="6.80" fill="#333333" stroke="#e0e0e0" stroke-width="0.5"/>
<rect x="442.40" y="65.60" width="10.40" height="6.80" fill="#333333" stroke="#e0e0e0" stroke-width="0.5"/>
<rect x="359.20" y="72.40" width="10.40" height="6.80" fill="#333333" stroke="#e0e0e0" stroke-width="0.5"/>
<rect x="369.60" y="72.40" width="10.40" height="6.80" fill="#999999" stroke="#e0e0e0" stroke-width="0.5"/>
<rect x="380.00" y="72.40" width="10.40" height="6.80" fill="#333333" stroke="#e0e0e0" stroke-width="0.5"/>
<rect x="390.40" y="72.40" width="10.40" height="6.80" fill="#333333" stroke="#e0e0e0" stroke-width="0.5"/>
<rect x="400.80" y="72.40" width="10.40" height="6.80" fill="#ffffff" stroke="#e0e0e0" stroke-width="0.5"/>
<rect x="411.20" y="72.40" width="10.40" height="6.80" fill="#333333" stroke="#e0e0e0" stroke-width="0.5"/>
<rect x="421.60" y="72.40" width="10.40" height="6.80" fill="#999999" stroke="#e0e0e0" stroke-width="0.5"/>
<rect x="432.00" y="72.40" width="10.40" height="6.80" fill="#333333" stroke="#e0e0e0" stroke-width="0.5"/>
<rect x="442.40" y="72.40" width="10.40" height="6.80" fill="#333333" stroke="#e0e0e0" stroke-width="0.5"/>
<rect x="359.20" y="79.20" width="10.40" height="6.80" fill="#333333" stroke="#e0e0e0" stroke-width="0.5"/>
<rect x="369.60" y="79.20" width="10.40" height="6.80" fill="#999999" stroke="#e0e0e0" stroke-width="0.5"/>
<rect x="380.00" y="79.20" width="10.40" height="6.80" fill="#999999" stroke="#e0e0e0" stroke-width="0.5"/>
<rect x="390.40" y="79.20" width="10.40" height="6.80" fill="#333333" stroke="#e0e0e0" stroke-width="0.5"/>
<rect x="400.80" y="79.20" width="10.40" height="6.80" fill="#ffffff" stroke="#e0e0e0" stroke-width="0.5"/>
<rect x="411.20" y="79.20" width="10.40" height="6.80" fill="#333333" stroke="#e0e0e0" stroke-width="0.5"/>
<rect x="421.60" y="79.20" width="10.40" height="6.80" fill="#333333" stroke="#e0e0e0" stroke-width="0.5"/>
<rect x="432.00" y="79.20" width="10.40" height="6.80" fill="#333333" stroke="#e0e0e0" stroke-width="0.5"/>
<rect x="442.40" y="79.20" width="10.40" height="6.80" fill="#333333" stroke="#e0e0e0" stroke-width="0.5"/>
<rect x="359.20" y="86.00" width="10.40" height="6.80" fill="#333333" stroke="#e0e0e0" stroke-width="0.5"/>
<rect x="369.60" y="86.00" width="10.40" height="6.80" fill="#999999" stroke="#e0e0e0" stroke-width="0.5"/>
<rect x="380.00" y="86.00" width="10.40" height="6.80" fill="#999999" stroke="#e0e0e0" stroke-width="0.5"/>
<rect x="390.40" y="86.00" width="10.40" height="6.80" fill="#333333" stroke="#e0e0e0" stroke-width="0.5"/>
<rect x="400.80" y="86.00" width="10.40" height="6.80" fill="#ffffff" stroke="#e0e0e0" stroke-width="0.5"/>
<rect x="411.20" y="86.00" width="10.40" height="6.80" fill="#333333" stroke="#e0e0e0" stroke-width="0.5"/>
<rect x="421.60" y="86.00" width="10.40" height="6.80" fill="#333333" stroke="#e0e0e0" stroke-width="0.5"/>
<rect x="432.00" y="86.00" width="10.40" height="6.80" fill="#999999" stroke="#e0e0e0" stroke-width="0.5"/>
<rect x="442.40" y="86.00" width="10.40" height="6.80" fill="#999999" stroke="#e0e0e0" stroke-width="0.5"/>
<rect x="359.20" y="92.80" width="10.40" height="6.80" fill="#333333" stroke="#e0e0e0" stroke-width="0.5"/>
<rect x="369.60" y="92.80" width="10.40" height="6.80" fill="#999999" stroke="#e0e0e0" stroke-width="0.5"/>
<rect x="380.00" y="92.80" width="10.40" height="6.80" fill="#999999" stroke="#e0e0e0" stroke-width="0.5"/>
<rect x="390.40" y="92.80" width="10.40" height="6.80" fill="#333333" stroke="#e0e0e0" stroke-width="0.5"/>
<rect x="400.80" y="92.80" width="10.40" height="6.80" fill="#333333" stroke="#e0e0e0" stroke-width="0.5"/>
<rect x="411.20" y="92.80" width="10.40" height="6.80" fill="#ffffff" stroke="#e0e0e0" stroke-width="0.5"/>
<rect x="421.60" y="92.80" width="10.40" height="6.80" fill="#ffffff" stroke="#e0e0e0" stroke-width="0.5"/>
<rect x="432.00" y="92.80" width="10.40" height="6.80" fill="#333333" stroke="#e0e0e0" stroke-width="0.5"/>
<rect x="442.40" y="92.80" width="10.40" height="6.80" fill="#333333" stroke="#e0e0e0" stroke-width="0.5"/>
<rect x="359.20" y="99.60" width="10.40" height="6.80" fill="#333333" stroke="#e0e0e0" stroke-width="0.5"/>
<rect x="369.60" y="99.60" width="10.40" height="6.80" fill="#333333" stroke="#e0e0e0" stroke-width="0.5"/>
<rect x="380.00" y="99.60" width="10.40" height="6.80" fill="#999999" stroke="#e0e0e0" stroke-width="0.5"/>
<rect x="390.40" y="99.60" width="10.40" height="6.80" fill="#333333" stroke="#e0e0e0" stroke-width="0.5"/>
<rect x="400.80" y="99.60" width="10.40" height="6.80" fill="#f08221" stroke="#e0e0e0" stroke-width="0.5"/>
<rect x="411.20" y="99.60" width="10.40" height="6.80" fill="#333333" stroke="#e0e0e0" stroke-width="0.5"/>
<rect x="421.60" y="99.60" width="10.40" height="6.80" fill="#999999" stroke="#e0e0e0" stroke-width="0.5"/>
<rect x="432.00" y="99.60" width="10.40" height="6.80" fill="#333333" stroke="#e0e0e0" stroke-width="0.5"/>
<rect x="442.40" y="99.60" width="10.40" height="6.80" fill="#333333" stroke="#e0e0e0" stroke-width="0.5"/>
<rect x="359.20" y="106.40" width="10.40" height="6.80" fill="#333333" stroke="#e0e0e0" stroke-width="0.5"/>
<rect x="369.60" y="106.40" width="10.40" height="6.80" fill="#999999" stroke="#e0e0e0" stroke-width="0.5"/>
<rect x="380.00" y="106.40" width="10.40" height="6.80" fill="#f08221" stroke="#e0e0e0" stroke-width="0.5"/>
<rect x="390.40" y="106.40" width="10.40" height="6.80" fill="#333333" stroke="#e0e0e0" stroke-width="0.5"/>
<rect x="400.80" y="106.40" width="10.40" height="6.80" fill="#f08221" stroke="#e0e0e0" stroke-width="0.5"/>
<rect x="411.20" y="106.40" width="10.40" height="6.80" fill="#333333" stroke="#e0e0e0" stroke-width="0.5"/>
<rect x="421.60" y="106.40" width="10.40" height="6.80" fill="#999999" stroke="#e0e0e0" stroke-width="0.5"/>
<rect x="432.00" y="106.40" width="10.40" height="6.80" fill="#333333" stroke="#e0e0e0" stroke-width="0.5"/>
<rect x="442.40" y="106.40" width="10.40" height="6.80" fill="#333333" stroke="#e0e0e0" stroke-width="0.5"/>
<rect x="359.20" y="113.20" width="10.40" height="6.80" fill="#333333" stroke="#e0e0e0" stroke-width="0.5"/>
<rect x="369.60" y="113.20" width="10.40" height="6.80" fill="#333333" stroke="#e0e0e0" stroke-width="0.5"/>
<rect x="380.00" y="113.20" width="10.40" height="6.80" fill="#333333" stroke="#e0e0e0" stroke-width="0.5"/>
<rect x="390.40" y="113.20" width="10.40" height="6.80" fill="#999999" stroke="#e0e0e0" stroke-width="0.5"/>
<rect x="400.80" y="113.20" width="10.40" height="6.80" fill="#ffffff" stroke="#e0e0e0" stroke-width="0.5"/>
<rect x="411.20" y="113.20" width="10.40" height="6.80" fill="#ffffff" stroke="#e0e0e0" stroke-width="0.5"/>
<rect x="421.60" y="113.20" width="10.40" height="6.80" fill="#333333" stroke="#e0e0e0" stroke-width="0.5"/>
<rect x="432.00" y="113.20" width="10.40" height="6.80" fill="#333333" stroke="#e0e0e0" stroke-width="0.5"/>
<rect x="442.40" y="113.20" width="10.40" height="6.80" fill="#333333" stroke="#e0e0e0" stroke-width="0.5"/>
<rect x="359.20" y="120.00" width="10.40" height="6.80" fill="#333333" stroke="#e0e0e0" stroke-width="0.5"/>
<rect x="369.60" y="120.00" width="10.40" height="6.80" fill="#333333" stroke="#e0e0e0" stroke-width="0.5"/>
<rect x="380.00" y="120.00" width="10.40" height="6.80" fill="#333333" stroke="#e0e0e0" stroke-width="0.5"/>
<rect x="390.40" y="120.00" width="10.40" height="6.80" fill="#333333" stroke="#e0e0e0" stroke-width="0.5"/>
<rect x="400.80" y="120.00" width="10.40" height="6.80" fill="#f08221" stroke="#e0e0e0" stroke-width="0.5"/>
<rect x="411.20" y="120.00" width="10.40" height="6.80" fill="#333333" stroke="#e0e0e0" stroke-width="0.5"/>
<rect x="421.60" y="120.00" width="10.40" height="6.80" fill="#999999" stroke="#e0e0e0" stroke-width="0.5"/>
<rect x="432.00" y="120.00" width="10.40" height="6.80" fill="#333333" stroke="#e0e0e0" stroke-width="0.5"/>
<rect x="442.40" y="120.00" width="10.40" height="6.80" fill="#333333" stroke="#e0e0e0" stroke-width="0.5"/>
<rect x="359.20" y="126.80" width="10.40" height="6.80" fill="#333333" stroke="#e0e0e0" stroke-width="0.5"/>
<rect x="369.60" y="126.80" width="10.40" height="6.80" fill="#333333" stroke="#e0e0e0" stroke-width="0.5"/>
<rect x="380.00" y="126.80" width="10.40" height="6.80" fill="#333333" stroke="#e0e0e0" stroke-width="0.5"/>
<rect x="390.40" y="126.80" width="10.40" height="6.80" fill="#333333" stroke="#e0e0e0" stroke-width="0.5"/>
<rect x="400.80" y="126.80" width="10.40" height="6.80" fill="#ffffff" stroke="#e0e0e0" stroke-width="0.5"/>
<rect x="411.20" y="126.80" width="10.40" height="6.80" fill="#999999" stroke="#e0e0e0" stroke-width="0.5"/>
<rect x="421.60" y="126.80" width="10.40" height="6.80" fill="#999999" stroke="#e0e0e0" stroke-width="0.5"/>
<rect x="432.00" y="126.80" width="10.40" height="6.80" fill="#333333" stroke="#e0e0e0" stroke-width="0.5"/>
<rect x="442.40" y="126.80" width="10.40" height="6.80" fill="#333333" stroke="#e0e0e0" stroke-width="0.5"/>
<rect x="359.20" y="133.60" width="10.40" height="6.80" fill="#999999" stroke="#e0e0e0" stroke-width="0.5"/>
<rect x="369.60" y="133.60" width="10.40" height="6.80" fill="#333333" stroke="#e0e0e0" stroke-width="0.5"/>
<rect x="380.00" y="133.60" width="10.40" height="6.80" fill="#f08221" stroke="#e0e0e0" stroke-width="0.5"/>
<rect x="390.40" y="133.60" width="10.40" height="6.80" fill="#999999" stroke="#e0e0e0" stroke-width="0.5"/>
<rect x="400.80" y="133.60" width="10.40" height="6.80" fill="#f08221" stroke="#e0e0e0" stroke-width="0.5"/>
<rect x="411.20" y="133.60" width="10.40" height="6.80" fill="#333333" stroke="#e0e0e0" stroke-width="0.5"/>
<rect x="421.60" y="133.60" width="10.40" height="6.80" fill="#333333" stroke="#e0e0e0" stroke-width="0.5"/>
<rect x="432.00" y="133.60" width="10.40" height="6.80" fill="#333333" stroke="#e0e0e0" stroke-width="0.5"/>
<rect x="442.40" y="133.60" width="10.40" height="6.80" fill="#333333" stroke="#e0e0e0" stroke-width="0.5"/>
<rect x="359.20" y="140.40" width="10.40" height="6.80" fill="#333333" stroke="#e0e0e0" stroke-width="0.5"/>
<rect x="369.60" y="140.40" width="10.40" height="6.80" fill="#999999" stroke="#e0e0e0" stroke-width="0.5"/>
<rect x="380.00" y="140.40" width="10.40" height="6.80" fill="#999999" stroke="#e0e0e0" stroke-width="0.5"/>
<rect x="390.40" y="140.40" width="10.40" height="6.80" fill="#333333" stroke="#e0e0e0" stroke-width="0.5"/>
<rect x="400.80" y="140.40" width="10.40" height="6.80" fill="#ffffff" stroke="#e0e0e0" stroke-width="0.5"/>
<rect x="411.20" y="140.40" width="10.40" height="6.80" fill="#333333" stroke="#e0e0e0" stroke-width="0.5"/>
<rect x="421.60" y="140.40" width="10.40" height="6.80" fill="#999999" stroke="#e0e0e0" stroke-width="0.5"/>
<rect x="432.00" y="140.40" width="10.40" height="6.80" fill="#333333" stroke="#e0e0e0" stroke-width="0.5"/>
<rect x="442.40" y="140.40" width="10.40" height="6.80" fill="#999999" stroke="#e0e0e0" stroke-width="0.5"/>
<rect x="359.20" y="147.20" width="10.40" height="6.80" fill="#999999" stroke="#e0e0e0" stroke-width="0.5"/>
<rect x="369.60" y="147.20" width="10.40" height="6.80" fill="#333333" stroke="#e0e0e0" stroke-width="0.5"/>
<rect x="380.00" y="147.20" width="10.40" height="6.80" fill="#f08221" stroke="#e0e0e0" stroke-width="0.5"/>
<rect x="390.40" y="147.20" width="10.40" height="6.80" fill="#333333" stroke="#e0e0e0" stroke-width="0.5"/>
<rect x="400.80" y="147.20" width="10.40" height="6.80" fill="#f08221" stroke="#e0e0e0" stroke-width="0.5"/>
<rect x="411.20" y="147.20" width="10.40" height="6.80" fill="#333333" stroke="#e0e0e0" stroke-width="0.5"/>
<rect x="421.60" y="147.20" width="10.40" height="6.80" fill="#999999" stroke="#e0e0e0" stroke-width="0.5"/>
<rect x="432.00" y="147.20" width="10.40" height="6.80" fill="#333333" stroke="#e0e0e0" stroke-width="0.5"/>
<rect x="442.40" y="147.20" width="10.40" height="6.80" fill="#333333" stroke="#e0e0e0" stroke-width="0.5"/>
<line x1="358.4" y1="18.0" x2="358.4" y2="154.8" stroke="#555" stroke-width="0.9"/>
<line x1="358.4" y1="154.8" x2="452.8" y2="154.8" stroke="#555" stroke-width="0.9"/>
<line x1="357.00" y1="21.40" x2="358.40" y2="21.40" stroke="#666" stroke-width="0.5"/>
<text x="356.60" y="23.70" font-size="6.4" text-anchor="end" fill="#555">A</text>
<line x1="357.00" y1="28.20" x2="358.40" y2="28.20" stroke="#666" stroke-width="0.5"/>
<text x="356.60" y="30.50" font-size="6.4" text-anchor="end" fill="#555">R</text>
<line x1="357.00" y1="35.00" x2="358.40" y2="35.00" stroke="#666" stroke-width="0.5"/>
<text x="356.60" y="37.30" font-size="6.4" text-anchor="end" fill="#555">N</text>
<line x1="357.00" y1="41.80" x2="358.40" y2="41.80" stroke="#666" stroke-width="0.5"/>
<text x="356.60" y="44.10" font-size="6.4" text-anchor="end" fill="#555">D</text>
<line x1="357.00" y1="48.60" x2="358.40" y2="48.60" stroke="#666" stroke-width="0.5"/>
<text x="356.60" y="50.90" font-size="6.4" text-anchor="end" fill="#555">C</text>
<line x1="357.00" y1="55.40" x2="358.40" y2="55.40" stroke="#666" stroke-width="0.5"/>
<text x="356.60" y="57.70" font-size="6.4" text-anchor="end" fill="#555">E</text>
<line x1="357.00" y1="62.20" x2="358.40" y2="62.20" stroke="#666" stroke-width="0.5"/>
<text x="356.60" y="64.50" font-size="6.4" text-anchor="end" fill="#555">Q</text>
<line x1="357.00" y1="69.00" x2="358.40" y2="69.00" stroke="#666" stroke-width="0.5"/>
<text x="356.60" y="71.30" font-size="6.4" text-anchor="end" fill="#555">G</text>
<line x1="357.00" y1="75.80" x2="358.40" y2="75.80" stroke="#666" stroke-width="0.5"/>
<text x="356.60" y="78.10" font-size="6.4" text-anchor="end" fill="#555">H</text>
<line x1="357.00" y1="82.60" x2="358.40" y2="82.60" stroke="#666" stroke-width="0.5"/>
<text x="356.60" y="84.90" font-size="6.4" text-anchor="end" fill="#555">I</text>
<line x1="357.00" y1="89.40" x2="358.40" y2="89.40" stroke="#666" stroke-width="0.5"/>
<text x="356.60" y="91.70" font-size="6.4" text-anchor="end" fill="#555">L</text>
<line x1="357.00" y1="96.20" x2="358.40" y2="96.20" stroke="#666" stroke-width="0.5"/>
<text x="356.60" y="98.50" font-size="6.4" text-anchor="end" fill="#555">K</text>
<line x1="357.00" y1="103.00" x2="358.40" y2="103.00" stroke="#666" stroke-width="0.5"/>
<text x="356.60" y="105.30" font-size="6.4" text-anchor="end" fill="#555">M</text>
<line x1="357.00" y1="109.80" x2="358.40" y2="109.80" stroke="#666" stroke-width="0.5"/>
<text x="356.60" y="112.10" font-size="6.4" text-anchor="end" fill="#555">F</text>
<line x1="357.00" y1="116.60" x2="358.40" y2="116.60" stroke="#666" stroke-width="0.5"/>
<text x="356.60" y="118.90" font-size="6.4" text-anchor="end" fill="#555">P</text>
<line x1="357.00" y1="123.40" x2="358.40" y2="123.40" stroke="#666" stroke-width="0.5"/>
<text x="356.60" y="125.70" font-size="6.4" text-anchor="end" fill="#555">S</text>
<line x1="357.00" y1="130.20" x2="358.40" y2="130.20" stroke="#666" stroke-width="0.5"/>
<text x="356.60" y="132.50" font-size="6.4" text-anchor="end" fill="#555">T</text>
<line x1="357.00" y1="137.00" x2="358.40" y2="137.00" stroke="#666" stroke-width="0.5"/>
<text x="356.60" y="139.30" font-size="6.4" text-anchor="end" fill="#555">W</text>
<line x1="357.00" y1="143.80" x2="358.40" y2="143.80" stroke="#666" stroke-width="0.5"/>
<text x="356.60" y="146.10" font-size="6.4" text-anchor="end" fill="#555">V</text>
<line x1="357.00" y1="150.60" x2="358.40" y2="150.60" stroke="#666" stroke-width="0.5"/>
<text x="356.60" y="152.90" font-size="6.4" text-anchor="end" fill="#555">Y</text>
<line x1="364.40" y1="154.80" x2="364.40" y2="156.20" stroke="#666" stroke-width="0.5"/>
<line x1="374.80" y1="154.80" x2="374.80" y2="156.20" stroke="#666" stroke-width="0.5"/>
<line x1="385.20" y1="154.80" x2="385.20" y2="156.20" stroke="#666" stroke-width="0.5"/>
<line x1="395.60" y1="154.80" x2="395.60" y2="156.20" stroke="#666" stroke-width="0.5"/>
<line x1="406.00" y1="154.80" x2="406.00" y2="156.20" stroke="#666" stroke-width="0.5"/>
<line x1="416.40" y1="154.80" x2="416.40" y2="156.20" stroke="#666" stroke-width="0.5"/>
<line x1="426.80" y1="154.80" x2="426.80" y2="156.20" stroke="#666" stroke-width="0.5"/>
<line x1="437.20" y1="154.80" x2="437.20" y2="156.20" stroke="#666" stroke-width="0.5"/>
<line x1="447.60" y1="154.80" x2="447.60" y2="156.20" stroke="#666" stroke-width="0.5"/>
<text x="364.40" y="162.00" font-size="6.0" text-anchor="middle" fill="#444">1</text>
<text x="374.80" y="162.00" font-size="6.0" text-anchor="middle" fill="#444">2</text>
<text x="385.20" y="162.00" font-size="6.0" text-anchor="middle" fill="#444">3</text>
<text x="395.60" y="162.00" font-size="6.0" text-anchor="middle" fill="#444">4</text>
<text x="406.00" y="162.00" font-size="6.0" text-anchor="middle" fill="#444">5</text>
<text x="416.40" y="162.00" font-size="6.0" text-anchor="middle" fill="#444">6</text>
<text x="426.80" y="162.00" font-size="6.0" text-anchor="middle" fill="#444">7</text>
<text x="437.20" y="162.00" font-size="6.0" text-anchor="middle" fill="#444">8</text>
<text x="447.60" y="162.00" font-size="6.0" text-anchor="middle" fill="#444">9</text>
<text x="335.50" y="14.90" font-size="19" text-anchor="start" fill="#000" font-weight="bold">b</text>
<text x="487.10" y="68.60" font-size="6.9" text-anchor="middle" fill="#222" textLength="50.7" lengthAdjust="spacingAndGlyphs">Unique Mutation</text>
<text x="487.10" y="76.20" font-size="6.9" text-anchor="middle" fill="#222" textLength="30.9" lengthAdjust="spacingAndGlyphs">Coverage</text>
<rect x="461.1" y="79.20" width="7.7" height="7.87" fill="#ffffff" stroke="#d8d8d8" stroke-width="0.5"/>
<text x="472.50" y="85.70" font-size="6.4" text-anchor="start" fill="#222">None</text>
<rect x="461.1" y="87.07" width="7.7" height="7.87" fill="#333333"/>
<text x="472.50" y="93.57" font-size="6.4" text-anchor="start" fill="#222">Not R5</text>
<rect x="461.1" y="94.94" width="7.7" height="7.87" fill="#f08221"/>
<text x="472.50" y="101.44" font-size="6.4" text-anchor="start" fill="#222">R5</text>
<rect x="461.1" y="102.81" width="7.7" height="7.87" fill="#999999"/>
<text x="472.50" y="109.31" font-size="6.4" text-anchor="start" fill="#222">Shared</text>
<text x="515.50" y="14.70" font-size="19" text-anchor="start" fill="#000" font-weight="bold">c</text>
<line x1="570.8" y1="14.7" x2="570.8" y2="159.8" stroke="#444" stroke-width="0.9"/>
<line x1="570.0" y1="159.8" x2="682" y2="159.8" stroke="#333" stroke-width="0.8"/>
<rect x="575.40" y="18.70" width="102.18" height="9.6" fill="#f08221" stroke="#555" stroke-width="0.35"/>
<line x1="568.6" y1="23.50" x2="570.4" y2="23.50" stroke="#333" stroke-width="0.6"/>
<text x="567.60" y="25.50" font-size="5.6" text-anchor="end" fill="#444">R5 (NAIVE)</text>
<rect x="575.40" y="32.90" width="3.12" height="9.6" fill="#808080" stroke="#555" stroke-width="0.35"/>
<line x1="568.6" y1="37.70" x2="570.4" y2="37.70" stroke="#333" stroke-width="0.6"/>
<text x="567.60" y="39.70" font-size="5.6" text-anchor="end" fill="#444">No Assignment</text>
<rect x="575.40" y="47.10" width="15.91" height="9.6" fill="#225c2e" stroke="#555" stroke-width="0.35"/>
<line x1="568.6" y1="51.90" x2="570.4" y2="51.90" stroke="#333" stroke-width="0.6"/>
<text x="567.60" y="53.90" font-size="5.6" text-anchor="end" fill="#444">C24</text>
<rect x="575.40" y="61.30" width="6.86" height="9.6" fill="#3f9a4d" stroke="#555" stroke-width="0.35"/>
<line x1="568.6" y1="66.10" x2="570.4" y2="66.10" stroke="#333" stroke-width="0.6"/>
<text x="567.60" y="68.10" font-size="5.6" text-anchor="end" fill="#444">C23</text>
<rect x="575.40" y="75.50" width="0.60" height="9.6" fill="#c0e6b8" stroke="#555" stroke-width="0.35"/>
<line x1="568.6" y1="80.30" x2="570.4" y2="80.30" stroke="#333" stroke-width="0.6"/>
<text x="567.60" y="82.30" font-size="5.6" text-anchor="end" fill="#444">C20</text>
<rect x="575.40" y="89.70" width="5.62" height="9.6" fill="#7ccc78" stroke="#555" stroke-width="0.35"/>
<line x1="568.6" y1="94.50" x2="570.4" y2="94.50" stroke="#333" stroke-width="0.6"/>
<text x="567.60" y="96.50" font-size="5.6" text-anchor="end" fill="#444">C17</text>
<rect x="575.40" y="103.90" width="0.60" height="9.6" fill="#c0e6b8" stroke="#555" stroke-width="0.35"/>
<line x1="568.6" y1="108.70" x2="570.4" y2="108.70" stroke="#333" stroke-width="0.6"/>
<text x="567.60" y="110.70" font-size="5.6" text-anchor="end" fill="#444">C16</text>
<rect x="575.40" y="118.10" width="0.60" height="9.6" fill="#c0e6b8" stroke="#555" stroke-width="0.35"/>
<line x1="568.6" y1="122.90" x2="570.4" y2="122.90" stroke="#333" stroke-width="0.6"/>
<text x="567.60" y="124.90" font-size="5.6" text-anchor="end" fill="#444">C14</text>
<rect x="575.40" y="132.30" width="6.24" height="9.6" fill="#e6f6df" stroke="#555" stroke-width="0.35"/>
<line x1="568.6" y1="137.10" x2="570.4" y2="137.10" stroke="#333" stroke-width="0.6"/>
<text x="567.60" y="139.10" font-size="5.6" text-anchor="end" fill="#444">C13</text>
<rect x="575.40" y="146.50" width="0.60" height="9.6" fill="#c0e6b8" stroke="#555" stroke-width="0.35"/>
<line x1="568.6" y1="151.30" x2="570.4" y2="151.30" stroke="#333" stroke-width="0.6"/>
<text x="567.60" y="153.30" font-size="5.6" text-anchor="end" fill="#444">C11</text>
<line x1="575.40" y1="159.8" x2="575.40" y2="161.6" stroke="#333" stroke-width="0.6"/>
<text x="575.40" y="166.60" font-size="6.0" text-anchor="middle" fill="#444">0</text>
<line x1="606.60" y1="159.8" x2="606.60" y2="161.6" stroke="#333" stroke-width="0.6"/>
<text x="606.60" y="166.60" font-size="6.0" text-anchor="middle" fill="#444">10</text>
<line x1="637.80" y1="159.8" x2="637.80" y2="161.6" stroke="#333" stroke-width="0.6"/>
<text x="637.80" y="166.60" font-size="6.0" text-anchor="middle" fill="#444">20</text>
<line x1="669.00" y1="159.8" x2="669.00" y2="161.6" stroke="#333" stroke-width="0.6"/>
<text x="669.00" y="166.60" font-size="6.0" text-anchor="middle" fill="#444">30</text>
<text x="626.50" y="173.80" font-size="8.6" text-anchor="middle" fill="#222" textLength="103" lengthAdjust="spacingAndGlyphs">% Unique Mutation Coverage</text>
<text x="529.00" y="87.40" font-size="8.6" text-anchor="middle" fill="#222" textLength="39" lengthAdjust="spacingAndGlyphs" transform="rotate(-90 529.00 87.40)">Community</text>
<line x1="31.70" y1="262.8" x2="31.70" y2="381.6" stroke="#555" stroke-width="1.1"/>
<line x1="31.15" y1="381.6" x2="166.20" y2="381.6" stroke="#555" stroke-width="1.1"/>
<line x1="30.10" y1="375.60" x2="31.70" y2="375.60" stroke="#333" stroke-width="0.5"/>
<text x="29.10" y="377.50" font-size="5.3" text-anchor="end" fill="#4d4d4d" textLength="2.42" lengthAdjust="spacingAndGlyphs">0</text>
<line x1="30.10" y1="348.65" x2="31.70" y2="348.65" stroke="#333" stroke-width="0.5"/>
<text x="29.10" y="350.55" font-size="5.3" text-anchor="end" fill="#4d4d4d" textLength="4.83" lengthAdjust="spacingAndGlyphs">25</text>
<line x1="30.10" y1="321.70" x2="31.70" y2="321.70" stroke="#333" stroke-width="0.5"/>
<text x="29.10" y="323.60" font-size="5.3" text-anchor="end" fill="#4d4d4d" textLength="4.83" lengthAdjust="spacingAndGlyphs">50</text>
<line x1="30.10" y1="294.75" x2="31.70" y2="294.75" stroke="#333" stroke-width="0.5"/>
<text x="29.10" y="296.65" font-size="5.3" text-anchor="end" fill="#4d4d4d" textLength="4.83" lengthAdjust="spacingAndGlyphs">75</text>
<line x1="30.10" y1="267.80" x2="31.70" y2="267.80" stroke="#333" stroke-width="0.5"/>
<text x="29.10" y="269.70" font-size="5.3" text-anchor="end" fill="#4d4d4d" textLength="7.25" lengthAdjust="spacingAndGlyphs">100</text>
<line x1="38.10" y1="381.6" x2="38.10" y2="383.2" stroke="#444" stroke-width="0.5"/>
<text x="38.10" y="388.00" font-size="5.5" text-anchor="middle" fill="#4d4d4d" textLength="12.9" lengthAdjust="spacingAndGlyphs">1e-12</text>
<line x1="55.58" y1="381.6" x2="55.58" y2="383.2" stroke="#444" stroke-width="0.5"/>
<text x="55.58" y="388.00" font-size="5.5" text-anchor="middle" fill="#4d4d4d" textLength="12.9" lengthAdjust="spacingAndGlyphs">1e-11</text>
<line x1="73.06" y1="381.6" x2="73.06" y2="383.2" stroke="#444" stroke-width="0.5"/>
<text x="73.06" y="388.00" font-size="5.5" text-anchor="middle" fill="#4d4d4d" textLength="12.9" lengthAdjust="spacingAndGlyphs">1e-10</text>
<line x1="90.54" y1="381.6" x2="90.54" y2="383.2" stroke="#444" stroke-width="0.5"/>
<text x="90.54" y="388.00" font-size="5.5" text-anchor="middle" fill="#4d4d4d" textLength="12.9" lengthAdjust="spacingAndGlyphs">1e-09</text>
<line x1="108.02" y1="381.6" x2="108.02" y2="383.2" stroke="#444" stroke-width="0.5"/>
<text x="108.02" y="388.00" font-size="5.5" text-anchor="middle" fill="#4d4d4d" textLength="12.9" lengthAdjust="spacingAndGlyphs">1e-08</text>
<line x1="125.50" y1="381.6" x2="125.50" y2="383.2" stroke="#444" stroke-width="0.5"/>
<text x="125.50" y="388.00" font-size="5.5" text-anchor="middle" fill="#4d4d4d" textLength="12.9" lengthAdjust="spacingAndGlyphs">1e-07</text>
<line x1="142.98" y1="381.6" x2="142.98" y2="383.2" stroke="#444" stroke-width="0.5"/>
<text x="142.98" y="388.00" font-size="5.5" text-anchor="middle" fill="#4d4d4d" textLength="12.9" lengthAdjust="spacingAndGlyphs">1e-06</text>
<line x1="160.46" y1="381.6" x2="160.46" y2="383.2" stroke="#444" stroke-width="0.5"/>
<text x="160.46" y="388.00" font-size="5.5" text-anchor="middle" fill="#4d4d4d" textLength="12.9" lengthAdjust="spacingAndGlyphs">1e-05</text>
<text x="98.50" y="259.80" font-size="8.4" text-anchor="middle" fill="#222" textLength="27.1" lengthAdjust="spacingAndGlyphs">SVAR-1</text>
<polyline points="38.10,369.95 39.63,369.90 41.16,369.84 42.69,369.78 44.22,369.70 45.75,369.61 47.28,369.51 48.81,369.40 50.34,369.27 51.87,369.11 53.40,368.93 54.92,368.73 56.45,368.50 57.98,368.23 59.51,367.92 61.04,367.56 62.57,367.16 64.10,366.69 65.63,366.16 67.16,365.56 68.69,364.88 70.22,364.10 71.75,363.23 73.28,362.24 74.81,361.14 76.34,359.91 77.87,358.55 79.40,357.04 80.93,355.40 82.46,353.60 83.98,351.66 85.51,349.57 87.04,347.36 88.57,345.02 90.10,342.59 91.63,340.07 93.16,337.49 94.69,334.89 96.22,332.27 97.75,329.69 99.28,327.15 100.81,324.69 102.34,322.33 103.87,320.08 105.40,317.96 106.93,315.98 108.46,314.14 109.99,312.46 111.52,310.91 113.05,309.51 114.58,308.25 116.10,307.12 117.63,306.10 119.16,305.20 120.69,304.40 122.22,303.69 123.75,303.07 125.28,302.52 126.81,302.04 128.34,301.62 129.87,301.25 131.40,300.93 132.93,300.65 134.46,300.41 135.99,300.20 137.52,300.01 139.05,299.85 140.58,299.71 142.11,299.59 143.64,299.49 145.16,299.40 146.69,299.32 148.22,299.25 149.75,299.20 151.28,299.15 152.81,299.10 154.34,299.06 155.87,299.03 157.40,299.00 158.93,298.98 160.46,298.96" fill="none" stroke="#F0706A" stroke-width="0.9"/>
<circle cx="38.10" cy="369.46" r="2.21" fill="#F0706A"/>
<circle cx="55.58" cy="368.81" r="2.21" fill="#F0706A"/>
<circle cx="73.06" cy="363.10" r="2.21" fill="#F0706A"/>
<circle cx="90.54" cy="341.10" r="2.21" fill="#F0706A"/>
<circle cx="108.02" cy="315.56" r="2.21" fill="#F0706A"/>
<circle cx="125.50" cy="301.65" r="2.21" fill="#F0706A"/>
<circle cx="142.98" cy="299.06" r="2.21" fill="#F0706A"/>
<circle cx="160.46" cy="299.71" r="2.21" fill="#F0706A"/>
<polyline points="38.10,370.69 39.63,370.67 41.16,370.65 42.69,370.63 44.22,370.61 45.75,370.58 47.28,370.55 48.81,370.52 50.34,370.48 51.87,370.43 53.40,370.39 54.92,370.33 56.45,370.27 57.98,370.20 59.51,370.13 61.04,370.04 62.57,369.95 64.10,369.84 65.63,369.72 67.16,369.59 68.69,369.44 70.22,369.27 71.75,369.08 73.28,368.88 74.81,368.65 76.34,368.39 77.87,368.10 79.40,367.78 80.93,367.43 82.46,367.04 83.98,366.60 85.51,366.12 87.04,365.59 88.57,365.00 90.10,364.36 91.63,363.65 93.16,362.87 94.69,362.02 96.22,361.09 97.75,360.08 99.28,358.99 100.81,357.81 102.34,356.55 103.87,355.19 105.40,353.74 106.93,352.21 108.46,350.59 109.99,348.88 111.52,347.10 113.05,345.25 114.58,343.35 116.10,341.39 117.63,339.39 119.16,337.37 120.69,335.33 122.22,333.30 123.75,331.28 125.28,329.28 126.81,327.33 128.34,325.42 129.87,323.58 131.40,321.81 132.93,320.11 134.46,318.50 135.99,316.97 137.52,315.53 139.05,314.18 140.58,312.92 142.11,311.75 143.64,310.66 145.16,309.66 146.69,308.74 148.22,307.90 149.75,307.12 151.28,306.42 152.81,305.78 154.34,305.20 155.87,304.67 157.40,304.19 158.93,303.76 160.46,303.37" fill="none" stroke="#DE973A" stroke-width="0.9"/>
<path d="M35.58 370.32L40.62 370.32M36.32 368.54L39.88 372.10M38.10 367.80L38.10 372.84M39.88 368.54L36.32 372.10" stroke="#DE973A" stroke-width="0.75"/>
<path d="M53.06 369.89L58.10 369.89M53.80 368.10L57.36 371.67M55.58 367.37L55.58 372.41M57.36 368.10L53.80 371.67" stroke="#DE973A" stroke-width="0.75"/>
<path d="M70.54 369.24L75.58 369.24M71.28 367.46L74.84 371.02M73.06 366.72L73.06 371.76M74.84 367.46L71.28 371.02" stroke="#DE973A" stroke-width="0.75"/>
<path d="M88.02 365.04L93.06 365.04M88.76 363.25L92.32 366.82M90.54 362.52L90.54 367.56M92.32 363.25L88.76 366.82" stroke="#DE973A" stroke-width="0.75"/>
<path d="M105.50 350.70L110.54 350.70M106.24 348.92L109.80 352.48M108.02 348.18L108.02 353.22M109.80 348.92L106.24 352.48" stroke="#DE973A" stroke-width="0.75"/>
<path d="M122.98 328.49L128.02 328.49M123.72 326.71L127.28 330.27M125.50 325.97L125.50 331.01M127.28 326.71L123.72 330.27" stroke="#DE973A" stroke-width="0.75"/>
<path d="M140.46 312.21L145.50 312.21M141.20 310.43L144.76 314.00M142.98 309.69L142.98 314.73M144.76 310.43L141.20 314.00" stroke="#DE973A" stroke-width="0.75"/>
<path d="M157.94 302.73L162.98 302.73M158.68 300.95L162.24 304.51M160.46 300.21L160.46 305.25M162.24 300.95L158.68 304.51" stroke="#DE973A" stroke-width="0.75"/>
<polyline points="38.10,370.95 39.63,370.93 41.16,370.90 42.69,370.86 44.22,370.83 45.75,370.79 47.28,370.74 48.81,370.69 50.34,370.64 51.87,370.58 53.40,370.51 54.92,370.44 56.45,370.36 57.98,370.27 59.51,370.17 61.04,370.07 62.57,369.95 64.10,369.81 65.63,369.67 67.16,369.51 68.69,369.34 70.22,369.14 71.75,368.93 73.28,368.70 74.81,368.44 76.34,368.16 77.87,367.85 79.40,367.51 80.93,367.14 82.46,366.73 83.98,366.29 85.51,365.81 87.04,365.28 88.57,364.71 90.10,364.09 91.63,363.41 93.16,362.69 94.69,361.90 96.22,361.05 97.75,360.14 99.28,359.16 100.81,358.11 102.34,356.99 103.87,355.81 105.40,354.55 106.93,353.23 108.46,351.83 109.99,350.37 111.52,348.85 113.05,347.27 114.58,345.63 116.10,343.95 117.63,342.22 119.16,340.46 120.69,338.68 122.22,336.88 123.75,335.07 125.28,333.27 126.81,331.47 128.34,329.69 129.87,327.95 131.40,326.24 132.93,324.57 134.46,322.95 135.99,321.39 137.52,319.89 139.05,318.45 140.58,317.08 142.11,315.78 143.64,314.54 145.16,313.38 146.69,312.29 148.22,311.27 149.75,310.31 151.28,309.42 152.81,308.60 154.34,307.83 155.87,307.12 157.40,306.46 158.93,305.86 160.46,305.30" fill="none" stroke="#B5A128" stroke-width="0.9"/>
<path d="M38.10 367.69L40.59 372.02L35.61 372.02Z" fill="#B5A128"/>
<path d="M55.58 367.26L58.07 371.59L53.09 371.59Z" fill="#B5A128"/>
<path d="M73.06 366.61L75.55 370.95L70.57 370.95Z" fill="#B5A128"/>
<path d="M90.54 362.41L93.03 366.74L88.05 366.74Z" fill="#B5A128"/>
<path d="M108.02 349.69L110.51 354.02L105.53 354.02Z" fill="#B5A128"/>
<path d="M125.50 328.56L127.99 332.89L123.01 332.89Z" fill="#B5A128"/>
<path d="M142.98 314.87L145.47 319.20L140.49 319.20Z" fill="#B5A128"/>
<path d="M160.46 301.50L162.95 305.83L157.97 305.83Z" fill="#B5A128"/>
<text x="33.90" y="270.40" font-size="8.6" fill="#F0706A" textLength="54.3" lengthAdjust="spacingAndGlyphs">EC<tspan font-size="5.4" dy="1.6">50</tspan><tspan dy="-1.6"> = 1.77e-9</tspan></text>
<text x="33.90" y="280.00" font-size="8.6" fill="#DE973A" textLength="58.6" lengthAdjust="spacingAndGlyphs">EC<tspan font-size="5.4" dy="1.6">50</tspan><tspan dy="-1.6"> = 15.60e-8</tspan></text>
<text x="33.90" y="289.60" font-size="8.6" fill="#B5A128" textLength="54.3" lengthAdjust="spacingAndGlyphs">EC<tspan font-size="5.4" dy="1.6">50</tspan><tspan dy="-1.6"> = 8.09e-8</tspan></text>
<line x1="190.60" y1="262.8" x2="190.60" y2="381.6" stroke="#555" stroke-width="1.1"/>
<line x1="190.05" y1="381.6" x2="325.10" y2="381.6" stroke="#555" stroke-width="1.1"/>
<line x1="189.00" y1="375.60" x2="190.60" y2="375.60" stroke="#333" stroke-width="0.5"/>
<text x="188.00" y="377.50" font-size="5.3" text-anchor="end" fill="#4d4d4d" textLength="2.42" lengthAdjust="spacingAndGlyphs">0</text>
<line x1="189.00" y1="348.65" x2="190.60" y2="348.65" stroke="#333" stroke-width="0.5"/>
<text x="188.00" y="350.55" font-size="5.3" text-anchor="end" fill="#4d4d4d" textLength="4.83" lengthAdjust="spacingAndGlyphs">25</text>
<line x1="189.00" y1="321.70" x2="190.60" y2="321.70" stroke="#333" stroke-width="0.5"/>
<text x="188.00" y="323.60" font-size="5.3" text-anchor="end" fill="#4d4d4d" textLength="4.83" lengthAdjust="spacingAndGlyphs">50</text>
<line x1="189.00" y1="294.75" x2="190.60" y2="294.75" stroke="#333" stroke-width="0.5"/>
<text x="188.00" y="296.65" font-size="5.3" text-anchor="end" fill="#4d4d4d" textLength="4.83" lengthAdjust="spacingAndGlyphs">75</text>
<line x1="189.00" y1="267.80" x2="190.60" y2="267.80" stroke="#333" stroke-width="0.5"/>
<text x="188.00" y="269.70" font-size="5.3" text-anchor="end" fill="#4d4d4d" textLength="7.25" lengthAdjust="spacingAndGlyphs">100</text>
<line x1="197.00" y1="381.6" x2="197.00" y2="383.2" stroke="#444" stroke-width="0.5"/>
<text x="197.00" y="388.00" font-size="5.5" text-anchor="middle" fill="#4d4d4d" textLength="12.9" lengthAdjust="spacingAndGlyphs">1e-12</text>
<line x1="214.48" y1="381.6" x2="214.48" y2="383.2" stroke="#444" stroke-width="0.5"/>
<text x="214.48" y="388.00" font-size="5.5" text-anchor="middle" fill="#4d4d4d" textLength="12.9" lengthAdjust="spacingAndGlyphs">1e-11</text>
<line x1="231.96" y1="381.6" x2="231.96" y2="383.2" stroke="#444" stroke-width="0.5"/>
<text x="231.96" y="388.00" font-size="5.5" text-anchor="middle" fill="#4d4d4d" textLength="12.9" lengthAdjust="spacingAndGlyphs">1e-10</text>
<line x1="249.44" y1="381.6" x2="249.44" y2="383.2" stroke="#444" stroke-width="0.5"/>
<text x="249.44" y="388.00" font-size="5.5" text-anchor="middle" fill="#4d4d4d" textLength="12.9" lengthAdjust="spacingAndGlyphs">1e-09</text>
<line x1="266.92" y1="381.6" x2="266.92" y2="383.2" stroke="#444" stroke-width="0.5"/>
<text x="266.92" y="388.00" font-size="5.5" text-anchor="middle" fill="#4d4d4d" textLength="12.9" lengthAdjust="spacingAndGlyphs">1e-08</text>
<line x1="284.40" y1="381.6" x2="284.40" y2="383.2" stroke="#444" stroke-width="0.5"/>
<text x="284.40" y="388.00" font-size="5.5" text-anchor="middle" fill="#4d4d4d" textLength="12.9" lengthAdjust="spacingAndGlyphs">1e-07</text>
<line x1="301.88" y1="381.6" x2="301.88" y2="383.2" stroke="#444" stroke-width="0.5"/>
<text x="301.88" y="388.00" font-size="5.5" text-anchor="middle" fill="#4d4d4d" textLength="12.9" lengthAdjust="spacingAndGlyphs">1e-06</text>
<line x1="319.36" y1="381.6" x2="319.36" y2="383.2" stroke="#444" stroke-width="0.5"/>
<text x="319.36" y="388.00" font-size="5.5" text-anchor="middle" fill="#4d4d4d" textLength="12.9" lengthAdjust="spacingAndGlyphs">1e-05</text>
<text x="259.20" y="259.80" font-size="8.4" text-anchor="middle" fill="#222" textLength="33.6" lengthAdjust="spacingAndGlyphs">SVAR-90</text>
<polyline points="197.00,372.45 198.53,372.45 200.06,372.44 201.59,372.44 203.12,372.43 204.65,372.43 206.18,372.42 207.71,372.41 209.24,372.40 210.77,372.39 212.29,372.38 213.82,372.37 215.35,372.36 216.88,372.34 218.41,372.33 219.94,372.31 221.47,372.29 223.00,372.27 224.53,372.25 226.06,372.22 227.59,372.19 229.12,372.16 230.65,372.13 232.18,372.09 233.71,372.05 235.24,372.00 236.77,371.95 238.30,371.89 239.83,371.83 241.36,371.76 242.88,371.68 244.41,371.60 245.94,371.50 247.47,371.40 249.00,371.29 250.53,371.16 252.06,371.02 253.59,370.87 255.12,370.70 256.65,370.51 258.18,370.30 259.71,370.08 261.24,369.83 262.77,369.56 264.30,369.26 265.83,368.93 267.36,368.57 268.89,368.17 270.42,367.74 271.95,367.26 273.48,366.74 275.00,366.18 276.53,365.56 278.06,364.89 279.59,364.17 281.12,363.38 282.65,362.53 284.18,361.61 285.71,360.62 287.24,359.56 288.77,358.42 290.30,357.20 291.83,355.91 293.36,354.53 294.89,353.08 296.42,351.54 297.95,349.93 299.48,348.25 301.01,346.50 302.54,344.68 304.06,342.80 305.59,340.88 307.12,338.91 308.65,336.90 310.18,334.87 311.71,332.83 313.24,330.79 314.77,328.75 316.30,326.72 317.83,324.73 319.36,322.77" fill="none" stroke="#F0706A" stroke-width="0.9"/>
<circle cx="197.00" cy="372.91" r="2.21" fill="#F0706A"/>
<circle cx="214.48" cy="372.15" r="2.21" fill="#F0706A"/>
<circle cx="231.96" cy="371.83" r="2.21" fill="#F0706A"/>
<circle cx="249.44" cy="371.29" r="2.21" fill="#F0706A"/>
<circle cx="266.92" cy="368.59" r="2.21" fill="#F0706A"/>
<circle cx="284.40" cy="361.59" r="2.21" fill="#F0706A"/>
<circle cx="301.88" cy="345.42" r="2.21" fill="#F0706A"/>
<circle cx="319.36" cy="322.78" r="2.21" fill="#F0706A"/>
<polyline points="197.00,373.89 198.53,373.81 200.06,373.71 201.59,373.61 203.12,373.50 204.65,373.37 206.18,373.23 207.71,373.07 209.24,372.90 210.77,372.71 212.29,372.50 213.82,372.27 215.35,372.01 216.88,371.73 218.41,371.42 219.94,371.08 221.47,370.70 223.00,370.29 224.53,369.83 226.06,369.34 227.59,368.79 229.12,368.20 230.65,367.55 232.18,366.84 233.71,366.08 235.24,365.25 236.77,364.35 238.30,363.39 239.83,362.35 241.36,361.23 242.88,360.05 244.41,358.78 245.94,357.44 247.47,356.03 249.00,354.54 250.53,352.98 252.06,351.36 253.59,349.67 255.12,347.94 256.65,346.16 258.18,344.34 259.71,342.49 261.24,340.62 262.77,338.75 264.30,336.87 265.83,335.01 267.36,333.18 268.89,331.37 270.42,329.61 271.95,327.90 273.48,326.24 275.00,324.65 276.53,323.12 278.06,321.67 279.59,320.29 281.12,318.98 282.65,317.75 284.18,316.60 285.71,315.52 287.24,314.51 288.77,313.58 290.30,312.71 291.83,311.91 293.36,311.17 294.89,310.50 296.42,309.87 297.95,309.30 299.48,308.78 301.01,308.30 302.54,307.87 304.06,307.47 305.59,307.11 307.12,306.78 308.65,306.48 310.18,306.21 311.71,305.97 313.24,305.75 314.77,305.55 316.30,305.37 317.83,305.20 319.36,305.05" fill="none" stroke="#3CC030" stroke-width="0.9"/>
<path d="M194.27 372.91H199.73M197.00 370.18V375.64" stroke="#3CC030" stroke-width="0.88"/>
<path d="M211.75 372.15H217.21M214.48 369.42V374.88" stroke="#3CC030" stroke-width="0.88"/>
<path d="M229.23 368.05H234.69M231.96 365.32V370.78" stroke="#3CC030" stroke-width="0.88"/>
<path d="M246.71 355.12H252.17M249.44 352.39V357.85" stroke="#3CC030" stroke-width="0.88"/>
<path d="M264.19 330.97H269.65M266.92 328.24V333.70" stroke="#3CC030" stroke-width="0.88"/>
<path d="M281.67 318.47H287.13M284.40 315.74V321.20" stroke="#3CC030" stroke-width="0.88"/>
<path d="M299.15 309.84H304.61M301.88 307.11V312.57" stroke="#3CC030" stroke-width="0.88"/>
<path d="M316.63 302.84H322.09M319.36 300.11V305.57" stroke="#3CC030" stroke-width="0.88"/>
<polyline points="197.00,372.68 198.53,372.67 200.06,372.66 201.59,372.65 203.12,372.63 204.65,372.62 206.18,372.60 207.71,372.59 209.24,372.57 210.77,372.55 212.29,372.53 213.82,372.50 215.35,372.48 216.88,372.45 218.41,372.42 219.94,372.38 221.47,372.34 223.00,372.30 224.53,372.26 226.06,372.21 227.59,372.16 229.12,372.10 230.65,372.04 232.18,371.97 233.71,371.89 235.24,371.81 236.77,371.72 238.30,371.63 239.83,371.52 241.36,371.41 242.88,371.28 244.41,371.15 245.94,371.00 247.47,370.84 249.00,370.66 250.53,370.47 252.06,370.26 253.59,370.04 255.12,369.80 256.65,369.53 258.18,369.24 259.71,368.93 261.24,368.59 262.77,368.23 264.30,367.84 265.83,367.41 267.36,366.95 268.89,366.45 270.42,365.91 271.95,365.34 273.48,364.72 275.00,364.05 276.53,363.34 278.06,362.57 279.59,361.76 281.12,360.88 282.65,359.95 284.18,358.96 285.71,357.92 287.24,356.80 288.77,355.63 290.30,354.39 291.83,353.09 293.36,351.73 294.89,350.31 296.42,348.82 297.95,347.28 299.48,345.68 301.01,344.03 302.54,342.33 304.06,340.59 305.59,338.81 307.12,337.00 308.65,335.16 310.18,333.30 311.71,331.44 313.24,329.56 314.77,327.69 316.30,325.83 317.83,323.99 319.36,322.17" fill="none" stroke="#2CC270" stroke-width="0.9"/>
<path d="M195.00 370.91L199.00 374.90M199.00 370.91L195.00 374.90" stroke="#2CC270" stroke-width="0.88"/>
<path d="M212.48 370.16L216.47 374.15M216.47 370.16L212.48 374.15" stroke="#2CC270" stroke-width="0.88"/>
<path d="M229.97 369.83L233.96 373.82M233.96 369.83L229.97 373.82" stroke="#2CC270" stroke-width="0.88"/>
<path d="M247.44 368.75L251.44 372.74M251.44 368.75L247.44 372.74" stroke="#2CC270" stroke-width="0.88"/>
<path d="M264.93 365.52L268.92 369.51M268.92 365.52L264.93 369.51" stroke="#2CC270" stroke-width="0.88"/>
<path d="M282.40 356.36L286.39 360.35M286.39 356.36L282.40 360.35" stroke="#2CC270" stroke-width="0.88"/>
<path d="M299.88 341.26L303.88 345.25M303.88 341.26L299.88 345.25" stroke="#2CC270" stroke-width="0.88"/>
<path d="M317.37 320.14L321.36 324.13M321.36 320.14L317.37 324.13" stroke="#2CC270" stroke-width="0.88"/>
<polyline points="197.00,372.43 198.53,372.42 200.06,372.41 201.59,372.40 203.12,372.39 204.65,372.38 206.18,372.37 207.71,372.36 209.24,372.35 210.77,372.33 212.29,372.32 213.82,372.30 215.35,372.28 216.88,372.25 218.41,372.23 219.94,372.20 221.47,372.17 223.00,372.14 224.53,372.10 226.06,372.06 227.59,372.02 229.12,371.97 230.65,371.92 232.18,371.86 233.71,371.80 235.24,371.73 236.77,371.65 238.30,371.56 239.83,371.47 241.36,371.37 242.88,371.26 244.41,371.13 245.94,370.99 247.47,370.84 249.00,370.68 250.53,370.50 252.06,370.30 253.59,370.08 255.12,369.84 256.65,369.58 258.18,369.30 259.71,368.98 261.24,368.64 262.77,368.26 264.30,367.86 265.83,367.41 267.36,366.92 268.89,366.39 270.42,365.82 271.95,365.19 273.48,364.51 275.00,363.77 276.53,362.97 278.06,362.11 279.59,361.18 281.12,360.18 282.65,359.11 284.18,357.96 285.71,356.73 287.24,355.41 288.77,354.02 290.30,352.54 291.83,350.97 293.36,349.32 294.89,347.59 296.42,345.78 297.95,343.89 299.48,341.92 301.01,339.89 302.54,337.80 304.06,335.66 305.59,333.47 307.12,331.24 308.65,328.99 310.18,326.72 311.71,324.44 313.24,322.17 314.77,319.92 316.30,317.69 317.83,315.50 319.36,313.35" fill="none" stroke="#2EC4AE" stroke-width="0.9"/>
<path d="M197.00 369.37L200.00 372.37L197.00 375.37L194.00 372.37Z" fill="none" stroke="#2EC4AE" stroke-width="0.75"/>
<path d="M214.48 369.15L217.48 372.15L214.48 375.15L211.48 372.15Z" fill="none" stroke="#2EC4AE" stroke-width="0.75"/>
<path d="M231.96 368.83L234.96 371.83L231.96 374.83L228.96 371.83Z" fill="none" stroke="#2EC4AE" stroke-width="0.75"/>
<path d="M249.44 367.75L252.44 370.75L249.44 373.75L246.44 370.75Z" fill="none" stroke="#2EC4AE" stroke-width="0.75"/>
<path d="M266.92 364.52L269.92 367.52L266.92 370.52L263.92 367.52Z" fill="none" stroke="#2EC4AE" stroke-width="0.75"/>
<path d="M284.40 354.27L287.40 357.27L284.40 360.27L281.40 357.27Z" fill="none" stroke="#2EC4AE" stroke-width="0.75"/>
<path d="M301.88 335.95L304.88 338.95L301.88 341.95L298.88 338.95Z" fill="none" stroke="#2EC4AE" stroke-width="0.75"/>
<path d="M319.36 310.29L322.36 313.29L319.36 316.29L316.36 313.29Z" fill="none" stroke="#2EC4AE" stroke-width="0.75"/>
<polyline points="197.00,373.06 198.53,373.03 200.06,373.00 201.59,372.96 203.12,372.92 204.65,372.88 206.18,372.83 207.71,372.77 209.24,372.71 210.77,372.64 212.29,372.56 213.82,372.48 215.35,372.38 216.88,372.28 218.41,372.16 219.94,372.03 221.47,371.89 223.00,371.73 224.53,371.55 226.06,371.36 227.59,371.14 229.12,370.91 230.65,370.64 232.18,370.36 233.71,370.04 235.24,369.69 236.77,369.30 238.30,368.88 239.83,368.41 241.36,367.90 242.88,367.35 244.41,366.74 245.94,366.08 247.47,365.36 249.00,364.58 250.53,363.73 252.06,362.82 253.59,361.84 255.12,360.78 256.65,359.66 258.18,358.45 259.71,357.18 261.24,355.83 262.77,354.41 264.30,352.93 265.83,351.38 267.36,349.77 268.89,348.10 270.42,346.39 271.95,344.65 273.48,342.87 275.00,341.08 276.53,339.28 278.06,337.47 279.59,335.68 281.12,333.91 282.65,332.18 284.18,330.48 285.71,328.83 287.24,327.23 288.77,325.69 290.30,324.22 291.83,322.82 293.36,321.49 294.89,320.23 296.42,319.05 297.95,317.94 299.48,316.91 301.01,315.94 302.54,315.04 304.06,314.21 305.59,313.45 307.12,312.74 308.65,312.09 310.18,311.50 311.71,310.95 313.24,310.46 314.77,310.00 316.30,309.59 317.83,309.21 319.36,308.87" fill="none" stroke="#2CBBD8" stroke-width="0.9"/>
<path d="M197.00 369.74L199.62 372.37L197.00 374.99L194.38 372.37Z" fill="#2CBBD8"/>
<path d="M214.48 369.42L217.10 372.04L214.48 374.67L211.85 372.04Z" fill="#2CBBD8"/>
<path d="M231.96 368.66L234.59 371.29L231.96 373.91L229.34 371.29Z" fill="#2CBBD8"/>
<path d="M249.44 362.63L252.06 365.25L249.44 367.88L246.81 365.25Z" fill="#2CBBD8"/>
<path d="M266.92 346.56L269.55 349.19L266.92 351.81L264.30 349.19Z" fill="#2CBBD8"/>
<path d="M284.40 327.70L287.02 330.32L284.40 332.95L281.77 330.32Z" fill="#2CBBD8"/>
<path d="M301.88 313.69L304.50 316.31L301.88 318.94L299.25 316.31Z" fill="#2CBBD8"/>
<path d="M319.36 305.60L321.99 308.23L319.36 310.85L316.74 308.23Z" fill="#2CBBD8"/>
<polyline points="197.00,372.01 198.53,372.01 200.06,372.01 201.59,372.00 203.12,372.00 204.65,371.99 206.18,371.99 207.71,371.98 209.24,371.97 210.77,371.97 212.29,371.96 213.82,371.95 215.35,371.94 216.88,371.92 218.41,371.91 219.94,371.90 221.47,371.88 223.00,371.86 224.53,371.84 226.06,371.81 227.59,371.79 229.12,371.76 230.65,371.73 232.18,371.69 233.71,371.65 235.24,371.60 236.77,371.55 238.30,371.50 239.83,371.43 241.36,371.36 242.88,371.28 244.41,371.20 245.94,371.10 247.47,370.99 249.00,370.87 250.53,370.74 252.06,370.59 253.59,370.43 255.12,370.24 256.65,370.04 258.18,369.81 259.71,369.56 261.24,369.29 262.77,368.98 264.30,368.64 265.83,368.27 267.36,367.85 268.89,367.40 270.42,366.89 271.95,366.34 273.48,365.74 275.00,365.07 276.53,364.35 278.06,363.55 279.59,362.69 281.12,361.76 282.65,360.74 284.18,359.65 285.71,358.47 287.24,357.21 288.77,355.86 290.30,354.43 291.83,352.91 293.36,351.30 294.89,349.62 296.42,347.86 297.95,346.04 299.48,344.15 301.01,342.21 302.54,340.23 304.06,338.21 305.59,336.18 307.12,334.14 308.65,332.10 310.18,330.08 311.71,328.09 313.24,326.13 314.77,324.23 316.30,322.38 317.83,320.61 319.36,318.90" fill="none" stroke="#3AA8F8" stroke-width="0.9"/>
<path d="M197.00 369.20L199.62 371.83L197.00 374.45L194.38 371.83ZM197.00 369.20V374.45M194.38 371.83H199.62" fill="none" stroke="#3AA8F8" stroke-width="0.75"/>
<path d="M214.48 369.42L217.10 372.04L214.48 374.67L211.85 372.04ZM214.48 369.42V374.67M211.85 372.04H217.10" fill="none" stroke="#3AA8F8" stroke-width="0.75"/>
<path d="M231.96 369.20L234.59 371.83L231.96 374.45L229.34 371.83ZM231.96 369.20V374.45M229.34 371.83H234.59" fill="none" stroke="#3AA8F8" stroke-width="0.75"/>
<path d="M249.44 368.12L252.06 370.75L249.44 373.37L246.81 370.75ZM249.44 368.12V373.37M246.81 370.75H252.06" fill="none" stroke="#3AA8F8" stroke-width="0.75"/>
<path d="M266.92 365.43L269.55 368.05L266.92 370.68L264.30 368.05ZM266.92 365.43V370.68M264.30 368.05H269.55" fill="none" stroke="#3AA8F8" stroke-width="0.75"/>
<path d="M284.40 356.81L287.02 359.43L284.40 362.06L281.77 359.43ZM284.40 356.81V362.06M281.77 359.43H287.02" fill="none" stroke="#3AA8F8" stroke-width="0.75"/>
<path d="M301.88 338.48L304.50 341.10L301.88 343.73L299.25 341.10ZM301.88 338.48V343.73M299.25 341.10H304.50" fill="none" stroke="#3AA8F8" stroke-width="0.75"/>
<path d="M319.36 316.27L321.99 318.90L319.36 321.52L316.74 318.90ZM319.36 316.27V321.52M316.74 318.90H321.99" fill="none" stroke="#3AA8F8" stroke-width="0.75"/>
<polyline points="197.00,372.35 198.53,372.34 200.06,372.32 201.59,372.30 203.12,372.28 204.65,372.25 206.18,372.23 207.71,372.20 209.24,372.17 210.77,372.14 212.29,372.10 213.82,372.06 215.35,372.01 216.88,371.97 218.41,371.91 219.94,371.86 221.47,371.79 223.00,371.72 224.53,371.65 226.06,371.57 227.59,371.48 229.12,371.38 230.65,371.27 232.18,371.16 233.71,371.03 235.24,370.89 236.77,370.74 238.30,370.58 239.83,370.40 241.36,370.20 242.88,369.99 244.41,369.76 245.94,369.51 247.47,369.24 249.00,368.94 250.53,368.62 252.06,368.28 253.59,367.90 255.12,367.49 256.65,367.05 258.18,366.58 259.71,366.06 261.24,365.51 262.77,364.92 264.30,364.28 265.83,363.59 267.36,362.86 268.89,362.08 270.42,361.24 271.95,360.35 273.48,359.41 275.00,358.40 276.53,357.35 278.06,356.23 279.59,355.06 281.12,353.83 282.65,352.54 284.18,351.21 285.71,349.82 287.24,348.38 288.77,346.89 290.30,345.37 291.83,343.81 293.36,342.22 294.89,340.61 296.42,338.97 297.95,337.33 299.48,335.68 301.01,334.03 302.54,332.39 304.06,330.76 305.59,329.15 307.12,327.57 308.65,326.03 310.18,324.52 311.71,323.05 313.24,321.63 314.77,320.26 316.30,318.94 317.83,317.67 319.36,316.46" fill="none" stroke="#8B93FF" stroke-width="0.9"/>
<path d="M197.00 369.08L199.39 373.20L194.61 373.20ZM197.00 374.58L199.39 370.45L194.61 370.45Z" fill="none" stroke="#8B93FF" stroke-width="0.75"/>
<path d="M214.48 369.08L216.87 373.20L212.09 373.20ZM214.48 374.58L216.87 370.45L212.09 370.45Z" fill="none" stroke="#8B93FF" stroke-width="0.75"/>
<path d="M231.96 368.75L234.35 372.88L229.57 372.88ZM231.96 374.25L234.35 370.13L229.57 370.13Z" fill="none" stroke="#8B93FF" stroke-width="0.75"/>
<path d="M249.44 366.92L251.83 371.05L247.05 371.05ZM249.44 372.42L251.83 368.30L247.05 368.30Z" fill="none" stroke="#8B93FF" stroke-width="0.75"/>
<path d="M266.92 360.13L269.31 364.25L264.53 364.25ZM266.92 365.63L269.31 361.50L264.53 361.50Z" fill="none" stroke="#8B93FF" stroke-width="0.75"/>
<path d="M284.40 347.73L286.79 351.86L282.01 351.86ZM284.40 353.23L286.79 349.11L282.01 349.11Z" fill="none" stroke="#8B93FF" stroke-width="0.75"/>
<path d="M301.88 330.81L304.27 334.93L299.49 334.93ZM301.88 336.31L304.27 332.18L299.49 332.18Z" fill="none" stroke="#8B93FF" stroke-width="0.75"/>
<path d="M319.36 313.56L321.75 317.69L316.97 317.69ZM319.36 319.06L321.75 314.94L316.97 314.94Z" fill="none" stroke="#8B93FF" stroke-width="0.75"/>
<polyline points="197.00,373.06 198.53,373.04 200.06,373.01 201.59,372.98 203.12,372.94 204.65,372.90 206.18,372.85 207.71,372.80 209.24,372.74 210.77,372.68 212.29,372.60 213.82,372.52 215.35,372.42 216.88,372.31 218.41,372.19 219.94,372.05 221.47,371.89 223.00,371.72 224.53,371.52 226.06,371.30 227.59,371.05 229.12,370.77 230.65,370.46 232.18,370.10 233.71,369.71 235.24,369.27 236.77,368.78 238.30,368.23 239.83,367.62 241.36,366.95 242.88,366.21 244.41,365.38 245.94,364.48 247.47,363.49 249.00,362.40 250.53,361.22 252.06,359.94 253.59,358.57 255.12,357.09 256.65,355.51 258.18,353.84 259.71,352.07 261.24,350.22 262.77,348.29 264.30,346.30 265.83,344.26 267.36,342.17 268.89,340.07 270.42,337.96 271.95,335.85 273.48,333.78 275.00,331.74 276.53,329.76 278.06,327.84 279.59,326.00 281.12,324.25 282.65,322.58 284.18,321.02 285.71,319.56 287.24,318.19 288.77,316.93 290.30,315.76 291.83,314.69 293.36,313.71 294.89,312.82 296.42,312.01 297.95,311.27 299.48,310.61 301.01,310.01 302.54,309.47 304.06,308.99 305.59,308.55 307.12,308.16 308.65,307.82 310.18,307.51 311.71,307.23 313.24,306.99 314.77,306.77 316.30,306.57 317.83,306.40 319.36,306.25" fill="none" stroke="#D27AFA" stroke-width="0.9"/>
<g fill="none" stroke="#D27AFA" stroke-width="0.75"><rect x="194.75" y="370.12" width="4.50" height="4.50"/><circle cx="197.00" cy="372.37" r="1.80"/><path d="M194.75 370.12L199.25 374.62M199.25 370.12L194.75 374.62"/></g>
<g fill="none" stroke="#D27AFA" stroke-width="0.75"><rect x="212.23" y="369.79" width="4.50" height="4.50"/><circle cx="214.48" cy="372.04" r="1.80"/><path d="M212.23 369.79L216.73 374.29M216.73 369.79L212.23 374.29"/></g>
<g fill="none" stroke="#D27AFA" stroke-width="0.75"><rect x="229.71" y="368.82" width="4.50" height="4.50"/><circle cx="231.96" cy="371.07" r="1.80"/><path d="M229.71 368.82L234.21 373.32M234.21 368.82L229.71 373.32"/></g>
<g fill="none" stroke="#D27AFA" stroke-width="0.75"><rect x="247.19" y="360.63" width="4.50" height="4.50"/><circle cx="249.44" cy="362.88" r="1.80"/><path d="M247.19 360.63L251.69 365.13M251.69 360.63L247.19 365.13"/></g>
<g fill="none" stroke="#D27AFA" stroke-width="0.75"><rect x="264.67" y="339.61" width="4.50" height="4.50"/><circle cx="266.92" cy="341.86" r="1.80"/><path d="M264.67 339.61L269.17 344.11M269.17 339.61L264.67 344.11"/></g>
<g fill="none" stroke="#D27AFA" stroke-width="0.75"><rect x="282.15" y="318.37" width="4.50" height="4.50"/><circle cx="284.40" cy="320.62" r="1.80"/><path d="M282.15 318.37L286.65 322.87M286.65 318.37L282.15 322.87"/></g>
<g fill="none" stroke="#D27AFA" stroke-width="0.75"><rect x="299.63" y="309.75" width="4.50" height="4.50"/><circle cx="301.88" cy="312.00" r="1.80"/><path d="M299.63 309.75L304.13 314.25M304.13 309.75L299.63 314.25"/></g>
<g fill="none" stroke="#D27AFA" stroke-width="0.75"><rect x="317.11" y="302.20" width="4.50" height="4.50"/><circle cx="319.36" cy="304.45" r="1.80"/><path d="M317.11 302.20L321.61 306.70M321.61 302.20L317.11 306.70"/></g>
<polyline points="197.00,372.67 198.53,372.67 200.06,372.66 201.59,372.66 203.12,372.65 204.65,372.65 206.18,372.64 207.71,372.64 209.24,372.63 210.77,372.62 212.29,372.61 213.82,372.60 215.35,372.59 216.88,372.58 218.41,372.56 219.94,372.55 221.47,372.53 223.00,372.51 224.53,372.49 226.06,372.47 227.59,372.45 229.12,372.42 230.65,372.39 232.18,372.36 233.71,372.32 235.24,372.28 236.77,372.23 238.30,372.18 239.83,372.13 241.36,372.06 242.88,372.00 244.41,371.92 245.94,371.84 247.47,371.75 249.00,371.65 250.53,371.54 252.06,371.41 253.59,371.28 255.12,371.13 256.65,370.96 258.18,370.78 259.71,370.58 261.24,370.36 262.77,370.12 264.30,369.85 265.83,369.56 267.36,369.24 268.89,368.89 270.42,368.50 271.95,368.08 273.48,367.62 275.00,367.12 276.53,366.57 278.06,365.97 279.59,365.33 281.12,364.62 282.65,363.86 284.18,363.04 285.71,362.15 287.24,361.20 288.77,360.18 290.30,359.09 291.83,357.92 293.36,356.69 294.89,355.38 296.42,353.99 297.95,352.54 299.48,351.02 301.01,349.43 302.54,347.78 304.06,346.08 305.59,344.33 307.12,342.53 308.65,340.71 310.18,338.86 311.71,336.99 313.24,335.12 314.77,333.25 316.30,331.40 317.83,329.56 319.36,327.76" fill="none" stroke="#F462E6" stroke-width="0.9"/>
<rect x="195.11" y="371.02" width="3.78" height="3.78" fill="#F462E6"/>
<rect x="212.59" y="370.48" width="3.78" height="3.78" fill="#F462E6"/>
<rect x="230.07" y="370.26" width="3.78" height="3.78" fill="#F462E6"/>
<rect x="247.55" y="369.61" width="3.78" height="3.78" fill="#F462E6"/>
<rect x="265.03" y="368.10" width="3.78" height="3.78" fill="#F462E6"/>
<rect x="282.51" y="360.56" width="3.78" height="3.78" fill="#F462E6"/>
<rect x="299.99" y="346.76" width="3.78" height="3.78" fill="#F462E6"/>
<rect x="317.47" y="325.85" width="3.78" height="3.78" fill="#F462E6"/>
<polyline points="197.00,372.51 198.53,372.50 200.06,372.50 201.59,372.49 203.12,372.49 204.65,372.48 206.18,372.47 207.71,372.46 209.24,372.46 210.77,372.45 212.29,372.43 213.82,372.42 215.35,372.41 216.88,372.39 218.41,372.38 219.94,372.36 221.47,372.34 223.00,372.32 224.53,372.30 226.06,372.27 227.59,372.24 229.12,372.21 230.65,372.17 232.18,372.13 233.71,372.09 235.24,372.04 236.77,371.99 238.30,371.93 239.83,371.87 241.36,371.80 242.88,371.72 244.41,371.64 245.94,371.54 247.47,371.44 249.00,371.33 250.53,371.20 252.06,371.06 253.59,370.91 255.12,370.74 256.65,370.56 258.18,370.36 259.71,370.14 261.24,369.89 262.77,369.63 264.30,369.33 265.83,369.01 267.36,368.66 268.89,368.28 270.42,367.86 271.95,367.40 273.48,366.90 275.00,366.35 276.53,365.76 278.06,365.12 279.59,364.42 281.12,363.66 282.65,362.85 284.18,361.96 285.71,361.01 287.24,360.00 288.77,358.90 290.30,357.74 291.83,356.49 293.36,355.17 294.89,353.77 296.42,352.30 297.95,350.74 299.48,349.12 301.01,347.42 302.54,345.65 304.06,343.83 305.59,341.94 307.12,340.01 308.65,338.04 310.18,336.03 311.71,334.01 313.24,331.96 314.77,329.92 316.30,327.88 317.83,325.86 319.36,323.87" fill="none" stroke="#F26AC8" stroke-width="0.9"/>
<circle cx="197.00" cy="372.91" r="2.38" fill="none" stroke="#F26AC8" stroke-width="0.75"/>
<circle cx="214.48" cy="372.15" r="2.38" fill="none" stroke="#F26AC8" stroke-width="0.75"/>
<circle cx="231.96" cy="371.83" r="2.38" fill="none" stroke="#F26AC8" stroke-width="0.75"/>
<circle cx="249.44" cy="371.29" r="2.38" fill="none" stroke="#F26AC8" stroke-width="0.75"/>
<circle cx="266.92" cy="369.13" r="2.38" fill="none" stroke="#F26AC8" stroke-width="0.75"/>
<circle cx="284.40" cy="361.59" r="2.38" fill="none" stroke="#F26AC8" stroke-width="0.75"/>
<circle cx="301.88" cy="346.49" r="2.38" fill="none" stroke="#F26AC8" stroke-width="0.75"/>
<circle cx="319.36" cy="323.86" r="2.38" fill="none" stroke="#F26AC8" stroke-width="0.75"/>
<text x="192.80" y="270.40" font-size="8.6" fill="#3CC030" textLength="53.9" lengthAdjust="spacingAndGlyphs">EC<tspan font-size="5.4" dy="1.6">50</tspan><tspan dy="-1.6"> = 6.17e-9</tspan></text>
<text x="192.80" y="280.00" font-size="8.6" fill="#D27AFA" textLength="53.9" lengthAdjust="spacingAndGlyphs">EC<tspan font-size="5.4" dy="1.6">50</tspan><tspan dy="-1.6"> = 1.48e-8</tspan></text>
<text x="192.80" y="289.60" font-size="8.6" fill="#2CBBD8" textLength="53.9" lengthAdjust="spacingAndGlyphs">EC<tspan font-size="5.4" dy="1.6">50</tspan><tspan dy="-1.6"> = 3.38e-8</tspan></text>
<line x1="349.50" y1="262.8" x2="349.50" y2="381.6" stroke="#555" stroke-width="1.1"/>
<line x1="348.95" y1="381.6" x2="484.00" y2="381.6" stroke="#555" stroke-width="1.1"/>
<line x1="347.90" y1="375.60" x2="349.50" y2="375.60" stroke="#333" stroke-width="0.5"/>
<text x="346.90" y="377.50" font-size="5.3" text-anchor="end" fill="#4d4d4d" textLength="2.42" lengthAdjust="spacingAndGlyphs">0</text>
<line x1="347.90" y1="348.65" x2="349.50" y2="348.65" stroke="#333" stroke-width="0.5"/>
<text x="346.90" y="350.55" font-size="5.3" text-anchor="end" fill="#4d4d4d" textLength="4.83" lengthAdjust="spacingAndGlyphs">25</text>
<line x1="347.90" y1="321.70" x2="349.50" y2="321.70" stroke="#333" stroke-width="0.5"/>
<text x="346.90" y="323.60" font-size="5.3" text-anchor="end" fill="#4d4d4d" textLength="4.83" lengthAdjust="spacingAndGlyphs">50</text>
<line x1="347.90" y1="294.75" x2="349.50" y2="294.75" stroke="#333" stroke-width="0.5"/>
<text x="346.90" y="296.65" font-size="5.3" text-anchor="end" fill="#4d4d4d" textLength="4.83" lengthAdjust="spacingAndGlyphs">75</text>
<line x1="347.90" y1="267.80" x2="349.50" y2="267.80" stroke="#333" stroke-width="0.5"/>
<text x="346.90" y="269.70" font-size="5.3" text-anchor="end" fill="#4d4d4d" textLength="7.25" lengthAdjust="spacingAndGlyphs">100</text>
<line x1="355.90" y1="381.6" x2="355.90" y2="383.2" stroke="#444" stroke-width="0.5"/>
<text x="355.90" y="388.00" font-size="5.5" text-anchor="middle" fill="#4d4d4d" textLength="12.9" lengthAdjust="spacingAndGlyphs">1e-12</text>
<line x1="373.38" y1="381.6" x2="373.38" y2="383.2" stroke="#444" stroke-width="0.5"/>
<text x="373.38" y="388.00" font-size="5.5" text-anchor="middle" fill="#4d4d4d" textLength="12.9" lengthAdjust="spacingAndGlyphs">1e-11</text>
<line x1="390.86" y1="381.6" x2="390.86" y2="383.2" stroke="#444" stroke-width="0.5"/>
<text x="390.86" y="388.00" font-size="5.5" text-anchor="middle" fill="#4d4d4d" textLength="12.9" lengthAdjust="spacingAndGlyphs">1e-10</text>
<line x1="408.34" y1="381.6" x2="408.34" y2="383.2" stroke="#444" stroke-width="0.5"/>
<text x="408.34" y="388.00" font-size="5.5" text-anchor="middle" fill="#4d4d4d" textLength="12.9" lengthAdjust="spacingAndGlyphs">1e-09</text>
<line x1="425.82" y1="381.6" x2="425.82" y2="383.2" stroke="#444" stroke-width="0.5"/>
<text x="425.82" y="388.00" font-size="5.5" text-anchor="middle" fill="#4d4d4d" textLength="12.9" lengthAdjust="spacingAndGlyphs">1e-08</text>
<line x1="443.30" y1="381.6" x2="443.30" y2="383.2" stroke="#444" stroke-width="0.5"/>
<text x="443.30" y="388.00" font-size="5.5" text-anchor="middle" fill="#4d4d4d" textLength="12.9" lengthAdjust="spacingAndGlyphs">1e-07</text>
<line x1="460.78" y1="381.6" x2="460.78" y2="383.2" stroke="#444" stroke-width="0.5"/>
<text x="460.78" y="388.00" font-size="5.5" text-anchor="middle" fill="#4d4d4d" textLength="12.9" lengthAdjust="spacingAndGlyphs">1e-06</text>
<line x1="478.26" y1="381.6" x2="478.26" y2="383.2" stroke="#444" stroke-width="0.5"/>
<text x="478.26" y="388.00" font-size="5.5" text-anchor="middle" fill="#4d4d4d" textLength="12.9" lengthAdjust="spacingAndGlyphs">1e-05</text>
<text x="417.60" y="259.80" font-size="8.4" text-anchor="middle" fill="#222" textLength="32.8" lengthAdjust="spacingAndGlyphs">SVAR-91</text>
<polyline points="355.90,372.55 357.43,372.54 358.96,372.53 360.49,372.53 362.02,372.52 363.55,372.51 365.08,372.49 366.61,372.48 368.14,372.46 369.67,372.45 371.20,372.42 372.72,372.40 374.25,372.37 375.78,372.33 377.31,372.29 378.84,372.24 380.37,372.19 381.90,372.12 383.43,372.05 384.96,371.96 386.49,371.86 388.02,371.75 389.55,371.61 391.08,371.45 392.61,371.27 394.14,371.06 395.67,370.82 397.20,370.54 398.73,370.21 400.26,369.84 401.79,369.41 403.31,368.91 404.84,368.35 406.37,367.70 407.90,366.96 409.43,366.12 410.96,365.16 412.49,364.09 414.02,362.88 415.55,361.53 417.08,360.03 418.61,358.37 420.14,356.54 421.67,354.56 423.20,352.42 424.73,350.12 426.26,347.69 427.79,345.14 429.32,342.49 430.85,339.76 432.38,336.99 433.90,334.21 435.43,331.46 436.96,328.75 438.49,326.12 440.02,323.60 441.55,321.20 443.08,318.95 444.61,316.85 446.14,314.91 447.67,313.13 449.20,311.51 450.73,310.05 452.26,308.74 453.79,307.56 455.32,306.52 456.85,305.60 458.38,304.79 459.91,304.07 461.44,303.45 462.97,302.90 464.49,302.42 466.02,302.01 467.55,301.65 469.08,301.34 470.61,301.07 472.14,300.83 473.67,300.63 475.20,300.46 476.73,300.31 478.26,300.18" fill="none" stroke="#8DBB30" stroke-width="0.9"/>
<path d="M355.90 369.15L358.75 374.10L353.05 374.10Z" fill="none" stroke="#8DBB30" stroke-width="0.75"/>
<path d="M373.38 369.15L376.23 374.10L370.53 374.10Z" fill="none" stroke="#8DBB30" stroke-width="0.75"/>
<path d="M390.86 368.61L393.71 373.56L388.01 373.56Z" fill="none" stroke="#8DBB30" stroke-width="0.75"/>
<path d="M408.34 364.41L411.19 369.36L405.49 369.36Z" fill="none" stroke="#8DBB30" stroke-width="0.75"/>
<path d="M425.82 345.33L428.67 350.28L422.97 350.28Z" fill="none" stroke="#8DBB30" stroke-width="0.75"/>
<path d="M443.30 314.93L446.15 319.88L440.45 319.88Z" fill="none" stroke="#8DBB30" stroke-width="0.75"/>
<path d="M460.78 302.85L463.63 307.80L457.93 307.80Z" fill="none" stroke="#8DBB30" stroke-width="0.75"/>
<path d="M478.26 295.63L481.11 300.58L475.41 300.58Z" fill="none" stroke="#8DBB30" stroke-width="0.75"/>
<polyline points="355.90,372.62 357.43,372.62 358.96,372.62 360.49,372.62 362.02,372.62 363.55,372.62 365.08,372.62 366.61,372.62 368.14,372.62 369.67,372.62 371.20,372.62 372.72,372.62 374.25,372.62 375.78,372.62 377.31,372.62 378.84,372.62 380.37,372.62 381.90,372.62 383.43,372.62 384.96,372.62 386.49,372.62 388.02,372.62 389.55,372.62 391.08,372.62 392.61,372.62 394.14,372.62 395.67,372.62 397.20,372.62 398.73,372.62 400.26,372.62 401.79,372.62 403.31,372.62 404.84,372.61 406.37,372.61 407.90,372.61 409.43,372.61 410.96,372.60 412.49,372.60 414.02,372.59 415.55,372.58 417.08,372.57 418.61,372.56 420.14,372.54 421.67,372.52 423.20,372.50 424.73,372.46 426.26,372.42 427.79,372.36 429.32,372.29 430.85,372.19 432.38,372.08 433.90,371.93 435.43,371.74 436.96,371.50 438.49,371.20 440.02,370.82 441.55,370.35 443.08,369.76 444.61,369.03 446.14,368.14 447.67,367.05 449.20,365.75 450.73,364.22 452.26,362.44 453.79,360.41 455.32,358.15 456.85,355.71 458.38,353.13 459.91,350.49 461.44,347.87 462.97,345.34 464.49,342.97 466.02,340.80 467.55,338.87 469.08,337.19 470.61,335.75 472.14,334.54 473.67,333.54 475.20,332.71 476.73,332.04 478.26,331.51" fill="none" stroke="#F26AC8" stroke-width="0.9"/>
<circle cx="355.90" cy="372.80" r="2.38" fill="none" stroke="#F26AC8" stroke-width="0.75"/>
<circle cx="373.38" cy="372.80" r="2.38" fill="none" stroke="#F26AC8" stroke-width="0.75"/>
<circle cx="390.86" cy="372.80" r="2.38" fill="none" stroke="#F26AC8" stroke-width="0.75"/>
<circle cx="408.34" cy="372.80" r="2.38" fill="none" stroke="#F26AC8" stroke-width="0.75"/>
<circle cx="425.82" cy="371.61" r="2.38" fill="none" stroke="#F26AC8" stroke-width="0.75"/>
<circle cx="443.30" cy="369.78" r="2.38" fill="none" stroke="#F26AC8" stroke-width="0.75"/>
<circle cx="460.78" cy="348.97" r="2.38" fill="none" stroke="#F26AC8" stroke-width="0.75"/>
<circle cx="478.26" cy="331.51" r="2.38" fill="none" stroke="#F26AC8" stroke-width="0.75"/>
<text x="351.70" y="270.40" font-size="8.6" fill="#8DBB30" textLength="54.4" lengthAdjust="spacingAndGlyphs">EC<tspan font-size="5.4" dy="1.6">50</tspan><tspan dy="-1.6"> = 2.47e-8</tspan></text>
<line x1="508.40" y1="262.8" x2="508.40" y2="381.6" stroke="#555" stroke-width="1.1"/>
<line x1="507.85" y1="381.6" x2="642.90" y2="381.6" stroke="#555" stroke-width="1.1"/>
<line x1="506.80" y1="375.60" x2="508.40" y2="375.60" stroke="#333" stroke-width="0.5"/>
<text x="505.80" y="377.50" font-size="5.3" text-anchor="end" fill="#4d4d4d" textLength="2.42" lengthAdjust="spacingAndGlyphs">0</text>
<line x1="506.80" y1="348.65" x2="508.40" y2="348.65" stroke="#333" stroke-width="0.5"/>
<text x="505.80" y="350.55" font-size="5.3" text-anchor="end" fill="#4d4d4d" textLength="4.83" lengthAdjust="spacingAndGlyphs">25</text>
<line x1="506.80" y1="321.70" x2="508.40" y2="321.70" stroke="#333" stroke-width="0.5"/>
<text x="505.80" y="323.60" font-size="5.3" text-anchor="end" fill="#4d4d4d" textLength="4.83" lengthAdjust="spacingAndGlyphs">50</text>
<line x1="506.80" y1="294.75" x2="508.40" y2="294.75" stroke="#333" stroke-width="0.5"/>
<text x="505.80" y="296.65" font-size="5.3" text-anchor="end" fill="#4d4d4d" textLength="4.83" lengthAdjust="spacingAndGlyphs">75</text>
<line x1="506.80" y1="267.80" x2="508.40" y2="267.80" stroke="#333" stroke-width="0.5"/>
<text x="505.80" y="269.70" font-size="5.3" text-anchor="end" fill="#4d4d4d" textLength="7.25" lengthAdjust="spacingAndGlyphs">100</text>
<line x1="514.80" y1="381.6" x2="514.80" y2="383.2" stroke="#444" stroke-width="0.5"/>
<text x="514.80" y="388.00" font-size="5.5" text-anchor="middle" fill="#4d4d4d" textLength="12.9" lengthAdjust="spacingAndGlyphs">1e-12</text>
<line x1="532.28" y1="381.6" x2="532.28" y2="383.2" stroke="#444" stroke-width="0.5"/>
<text x="532.28" y="388.00" font-size="5.5" text-anchor="middle" fill="#4d4d4d" textLength="12.9" lengthAdjust="spacingAndGlyphs">1e-11</text>
<line x1="549.76" y1="381.6" x2="549.76" y2="383.2" stroke="#444" stroke-width="0.5"/>
<text x="549.76" y="388.00" font-size="5.5" text-anchor="middle" fill="#4d4d4d" textLength="12.9" lengthAdjust="spacingAndGlyphs">1e-10</text>
<line x1="567.24" y1="381.6" x2="567.24" y2="383.2" stroke="#444" stroke-width="0.5"/>
<text x="567.24" y="388.00" font-size="5.5" text-anchor="middle" fill="#4d4d4d" textLength="12.9" lengthAdjust="spacingAndGlyphs">1e-09</text>
<line x1="584.72" y1="381.6" x2="584.72" y2="383.2" stroke="#444" stroke-width="0.5"/>
<text x="584.72" y="388.00" font-size="5.5" text-anchor="middle" fill="#4d4d4d" textLength="12.9" lengthAdjust="spacingAndGlyphs">1e-08</text>
<line x1="602.20" y1="381.6" x2="602.20" y2="383.2" stroke="#444" stroke-width="0.5"/>
<text x="602.20" y="388.00" font-size="5.5" text-anchor="middle" fill="#4d4d4d" textLength="12.9" lengthAdjust="spacingAndGlyphs">1e-07</text>
<line x1="619.68" y1="381.6" x2="619.68" y2="383.2" stroke="#444" stroke-width="0.5"/>
<text x="619.68" y="388.00" font-size="5.5" text-anchor="middle" fill="#4d4d4d" textLength="12.9" lengthAdjust="spacingAndGlyphs">1e-06</text>
<line x1="637.16" y1="381.6" x2="637.16" y2="383.2" stroke="#444" stroke-width="0.5"/>
<text x="637.16" y="388.00" font-size="5.5" text-anchor="middle" fill="#4d4d4d" textLength="12.9" lengthAdjust="spacingAndGlyphs">1e-05</text>
<text x="576.70" y="259.80" font-size="8.4" text-anchor="middle" fill="#222" textLength="33.4" lengthAdjust="spacingAndGlyphs">SVAR-92</text>
<polyline points="514.80,373.22 516.33,373.22 517.86,373.22 519.39,373.22 520.92,373.22 522.45,373.22 523.98,373.22 525.51,373.22 527.04,373.22 528.57,373.22 530.10,373.22 531.62,373.22 533.15,373.22 534.68,373.22 536.21,373.22 537.74,373.22 539.27,373.22 540.80,373.22 542.33,373.22 543.86,373.22 545.39,373.22 546.92,373.22 548.45,373.22 549.98,373.22 551.51,373.21 553.04,373.21 554.57,373.21 556.10,373.21 557.63,373.21 559.16,373.21 560.69,373.20 562.21,373.20 563.74,373.20 565.27,373.19 566.80,373.19 568.33,373.18 569.86,373.18 571.39,373.17 572.92,373.16 574.45,373.15 575.98,373.14 577.51,373.13 579.04,373.11 580.57,373.09 582.10,373.07 583.63,373.04 585.16,373.01 586.69,372.98 588.22,372.93 589.75,372.88 591.28,372.83 592.80,372.76 594.33,372.68 595.86,372.58 597.39,372.47 598.92,372.34 600.45,372.19 601.98,372.02 603.51,371.81 605.04,371.57 606.57,371.29 608.10,370.96 609.63,370.57 611.16,370.13 612.69,369.61 614.22,369.01 615.75,368.31 617.28,367.51 618.81,366.58 620.34,365.52 621.87,364.31 623.39,362.92 624.92,361.35 626.45,359.58 627.98,357.60 629.51,355.39 631.04,352.94 632.57,350.27 634.10,347.36 635.63,344.23 637.16,340.91" fill="none" stroke="#3CC030" stroke-width="0.9"/>
<path d="M512.07 373.23H517.53M514.80 370.50V375.96" stroke="#3CC030" stroke-width="0.88"/>
<path d="M529.55 373.23H535.01M532.28 370.50V375.96" stroke="#3CC030" stroke-width="0.88"/>
<path d="M547.03 373.23H552.49M549.76 370.50V375.96" stroke="#3CC030" stroke-width="0.88"/>
<path d="M564.51 373.23H569.97M567.24 370.50V375.96" stroke="#3CC030" stroke-width="0.88"/>
<path d="M581.99 373.23H587.45M584.72 370.50V375.96" stroke="#3CC030" stroke-width="0.88"/>
<path d="M599.47 371.61H604.93M602.20 368.88V374.34" stroke="#3CC030" stroke-width="0.88"/>
<path d="M616.95 366.11H622.41M619.68 363.38V368.84" stroke="#3CC030" stroke-width="0.88"/>
<path d="M634.43 340.89H639.89M637.16 338.16V343.62" stroke="#3CC030" stroke-width="0.88"/>
<polyline points="514.80,374.02 516.33,374.01 517.86,373.99 519.39,373.97 520.92,373.94 522.45,373.91 523.98,373.88 525.51,373.85 527.04,373.81 528.57,373.76 530.10,373.71 531.62,373.65 533.15,373.59 534.68,373.51 536.21,373.43 537.74,373.33 539.27,373.22 540.80,373.10 542.33,372.97 543.86,372.81 545.39,372.64 546.92,372.44 548.45,372.22 549.98,371.97 551.51,371.69 553.04,371.37 554.57,371.01 556.10,370.61 557.63,370.17 559.16,369.67 560.69,369.11 562.21,368.48 563.74,367.79 565.27,367.02 566.80,366.17 568.33,365.22 569.86,364.18 571.39,363.04 572.92,361.80 574.45,360.44 575.98,358.96 577.51,357.37 579.04,355.66 580.57,353.83 582.10,351.89 583.63,349.84 585.16,347.69 586.69,345.45 588.22,343.13 589.75,340.75 591.28,338.32 592.80,335.87 594.33,333.40 595.86,330.95 597.39,328.53 598.92,326.15 600.45,323.84 601.98,321.61 603.51,319.47 605.04,317.43 606.57,315.49 608.10,313.68 609.63,311.98 611.16,310.40 612.69,308.93 614.22,307.58 615.75,306.35 617.28,305.22 618.81,304.19 620.34,303.25 621.87,302.41 623.39,301.64 624.92,300.96 626.45,300.34 627.98,299.79 629.51,299.29 631.04,298.85 632.57,298.45 634.10,298.10 635.63,297.79 637.16,297.51" fill="none" stroke="#2CC270" stroke-width="0.9"/>
<path d="M512.81 370.80L516.80 374.79M516.80 370.80L512.81 374.79" stroke="#2CC270" stroke-width="0.88"/>
<path d="M530.29 370.80L534.28 374.79M534.28 370.80L530.29 374.79" stroke="#2CC270" stroke-width="0.88"/>
<path d="M547.77 371.23L551.76 375.22M551.76 371.23L547.77 375.22" stroke="#2CC270" stroke-width="0.88"/>
<path d="M565.25 365.95L569.24 369.94M569.24 365.95L565.25 369.94" stroke="#2CC270" stroke-width="0.88"/>
<path d="M582.73 344.50L586.72 348.49M586.72 344.50L582.73 348.49" stroke="#2CC270" stroke-width="0.88"/>
<path d="M600.21 319.81L604.20 323.80M604.20 319.81L600.21 323.80" stroke="#2CC270" stroke-width="0.88"/>
<path d="M617.69 302.67L621.68 306.66M621.68 302.67L617.69 306.66" stroke="#2CC270" stroke-width="0.88"/>
<path d="M635.17 294.59L639.16 298.58M639.16 294.59L635.17 298.58" stroke="#2CC270" stroke-width="0.88"/>
<text x="510.60" y="270.40" font-size="8.6" fill="#2CC270" textLength="54.7" lengthAdjust="spacingAndGlyphs">EC<tspan font-size="5.4" dy="1.6">50</tspan><tspan dy="-1.6"> = 3.32e-8</tspan></text>
<text x="15.60" y="323.20" font-size="11.0" text-anchor="middle" fill="#222" textLength="69.7" lengthAdjust="spacingAndGlyphs" transform="rotate(-90 15.60 323.20)">% Nur77-GFP<tspan font-size="7" dy="-3.6">+</tspan></text>
<text x="338.30" y="402.60" font-size="10.8" text-anchor="middle" fill="#222" textLength="131" lengthAdjust="spacingAndGlyphs">Peptide Concentration (M)</text>
<text x="0.30" y="256.70" font-size="20.5" text-anchor="start" fill="#000" font-weight="bold" textLength="10.2" lengthAdjust="spacingAndGlyphs">d</text>
<circle cx="658.40" cy="254.80" r="3.89" fill="#F0706A"/>
<text x="669.20" y="257.50" font-size="7.4" text-anchor="start" fill="#333" textLength="10.31" lengthAdjust="spacingAndGlyphs">WT</text>
<path d="M658.40 261.63L663.02 266.26L658.40 270.88L653.77 266.26Z" fill="#2CBBD8"/>
<text x="669.20" y="268.96" font-size="7.4" text-anchor="start" fill="#333" textLength="12.9" lengthAdjust="spacingAndGlyphs">R5A</text>
<circle cx="658.40" cy="277.72" r="3.52" fill="none" stroke="#F26AC8" stroke-width="0.81"/>
<text x="669.20" y="280.42" font-size="7.4" text-anchor="start" fill="#333" textLength="13.26" lengthAdjust="spacingAndGlyphs">R5C</text>
<path d="M658.40 284.56L663.02 289.18L658.40 293.81L653.77 289.18ZM658.40 284.56V293.81M653.77 289.18H663.02" fill="none" stroke="#3AA8F8" stroke-width="0.81"/>
<text x="669.20" y="291.88" font-size="7.4" text-anchor="start" fill="#333" textLength="13.26" lengthAdjust="spacingAndGlyphs">R5H</text>
<path d="M658.40 296.57L661.94 302.68L654.86 302.68ZM658.40 304.71L661.94 298.60L654.86 298.60Z" fill="none" stroke="#8B93FF" stroke-width="0.81"/>
<text x="669.20" y="303.34" font-size="7.4" text-anchor="start" fill="#333" textLength="14.0" lengthAdjust="spacingAndGlyphs">R5M</text>
<path d="M653.59 312.10H663.21M658.40 307.29V316.91" stroke="#3CC030" stroke-width="0.94"/>
<text x="669.20" y="314.80" font-size="7.4" text-anchor="start" fill="#333" textLength="12.53" lengthAdjust="spacingAndGlyphs">R5F</text>
<g fill="none" stroke="#D27AFA" stroke-width="0.81"><rect x="655.07" y="320.23" width="6.66" height="6.66"/><circle cx="658.40" cy="323.56" r="2.66"/><path d="M655.07 320.23L661.73 326.89M661.73 320.23L655.07 326.89"/></g>
<text x="669.20" y="326.26" font-size="7.4" text-anchor="start" fill="#333" textLength="12.9" lengthAdjust="spacingAndGlyphs">R5S</text>
<rect x="655.07" y="331.69" width="6.66" height="6.66" fill="#F462E6"/>
<text x="669.20" y="337.72" font-size="7.4" text-anchor="start" fill="#333" textLength="12.53" lengthAdjust="spacingAndGlyphs">R5T</text>
<path d="M654.88 342.97L661.91 350.00M661.91 342.97L654.88 350.00" stroke="#2CC270" stroke-width="0.94"/>
<text x="669.20" y="349.18" font-size="7.4" text-anchor="start" fill="#333" textLength="14.73" lengthAdjust="spacingAndGlyphs">R5W</text>
<path d="M658.40 353.50L662.84 357.94L658.40 362.38L653.96 357.94Z" fill="none" stroke="#2EC4AE" stroke-width="0.81"/>
<text x="669.20" y="360.64" font-size="7.4" text-anchor="start" fill="#333" textLength="12.9" lengthAdjust="spacingAndGlyphs">R5Y</text>
<path d="M658.40 364.12L663.42 372.83L653.38 372.83Z" fill="none" stroke="#8DBB30" stroke-width="0.81"/>
<text x="669.20" y="372.10" font-size="7.4" text-anchor="start" fill="#333" textLength="13.63" lengthAdjust="spacingAndGlyphs">R5G</text>
<path d="M653.96 380.86L662.84 380.86M655.26 377.72L661.54 384.00M658.40 376.42L658.40 385.30M661.54 377.72L655.26 384.00" stroke="#DE973A" stroke-width="0.81"/>
<text x="669.20" y="383.56" font-size="7.4" text-anchor="start" fill="#333" textLength="12.16" lengthAdjust="spacingAndGlyphs">L8N</text>
<path d="M658.40 386.82L663.62 395.90L653.17 395.90Z" fill="#B5A128"/>
<text x="669.20" y="395.02" font-size="7.4" text-anchor="start" fill="#333" textLength="12.53" lengthAdjust="spacingAndGlyphs">T6N</text>
<text x="7.40" y="463.20" font-size="19" text-anchor="start" fill="#000" font-weight="bold">e</text>
<line x1="39.6" y1="469" x2="39.6" y2="651.2" stroke="#333" stroke-width="0.8"/>
<line x1="39.2" y1="651.2" x2="187" y2="651.2" stroke="#333" stroke-width="0.8"/>
<line x1="37.8" y1="620.20" x2="39.6" y2="620.20" stroke="#333" stroke-width="0.6"/>
<text x="36.00" y="622.90" font-size="7.6" text-anchor="end" fill="#4d4d4d">5</text>
<line x1="37.8" y1="582.10" x2="39.6" y2="582.10" stroke="#333" stroke-width="0.6"/>
<text x="36.00" y="584.80" font-size="7.6" text-anchor="end" fill="#4d4d4d">6</text>
<line x1="37.8" y1="544.00" x2="39.6" y2="544.00" stroke="#333" stroke-width="0.6"/>
<text x="36.00" y="546.70" font-size="7.6" text-anchor="end" fill="#4d4d4d">7</text>
<line x1="37.8" y1="505.90" x2="39.6" y2="505.90" stroke="#333" stroke-width="0.6"/>
<text x="36.00" y="508.60" font-size="7.6" text-anchor="end" fill="#4d4d4d">8</text>
<line x1="43.40" y1="651.2" x2="43.40" y2="653" stroke="#333" stroke-width="0.6"/>
<text x="43.40" y="659.60" font-size="7.6" text-anchor="middle" fill="#4d4d4d">0</text>
<line x1="87.70" y1="651.2" x2="87.70" y2="653" stroke="#333" stroke-width="0.6"/>
<text x="87.70" y="659.60" font-size="7.6" text-anchor="middle" fill="#4d4d4d">2</text>
<line x1="132.00" y1="651.2" x2="132.00" y2="653" stroke="#333" stroke-width="0.6"/>
<text x="132.00" y="659.60" font-size="7.6" text-anchor="middle" fill="#4d4d4d">4</text>
<line x1="176.30" y1="651.2" x2="176.30" y2="653" stroke="#333" stroke-width="0.6"/>
<text x="176.30" y="659.60" font-size="7.6" text-anchor="middle" fill="#4d4d4d">6</text>
<circle cx="155.70" cy="478.09" r="2.90" fill="#ec2c20" stroke="#333" stroke-width="0.45"/>
<path d="M181.39 518.22L184.69 521.52L181.39 524.82L178.09 521.52Z" fill="#ec2c20" stroke="#333" stroke-width="0.45"/>
<path d="M108.22 496.55L115.02 496.55L111.62 501.89Z" fill="#ec2c20" stroke="#333" stroke-width="0.45"/>
<path d="M112.87 511.41L119.67 511.41L116.27 516.75Z" fill="#ec2c20" stroke="#333" stroke-width="0.45"/>
<path d="M88.07 525.13L94.87 525.13L91.47 530.47Z" fill="#ec2c20" stroke="#333" stroke-width="0.45"/>
<rect x="115.77" y="523.97" width="5.00" height="5.00" fill="#ec2c20" stroke="#333" stroke-width="0.45"/>
<circle cx="95.90" cy="534.86" r="2.90" fill="#ec2c20" stroke="#333" stroke-width="0.45"/>
<circle cx="112.73" cy="540.95" r="2.90" fill="#ec2c20" stroke="#333" stroke-width="0.45"/>
<path d="M66.36 572.75L73.16 572.75L69.76 578.09Z" fill="#ec2c20" stroke="#333" stroke-width="0.45"/>
<path d="M69.46 586.47L76.26 586.47L72.86 591.81Z" fill="#ec2c20" stroke="#333" stroke-width="0.45"/>
<path d="M69.02 591.42L75.82 591.42L72.42 596.76Z" fill="#ec2c20" stroke="#333" stroke-width="0.45"/>
<path d="M65.47 601.33L72.27 601.33L68.87 606.67Z" fill="#ec2c20" stroke="#333" stroke-width="0.45"/>
<path d="M46.06 576.51L49.36 579.81L46.06 583.11L42.76 579.81Z" fill="#5a80b8" stroke="#333" stroke-width="0.45"/>
<path d="M58.83 602.09L65.63 602.09L62.23 607.43Z" fill="#5a80b8" stroke="#333" stroke-width="0.45"/>
<path d="M51.30 610.47L58.10 610.47L54.70 615.81Z" fill="#5a80b8" stroke="#333" stroke-width="0.45"/>
<rect x="45.55" y="640.18" width="5.00" height="5.00" fill="#5a80b8" stroke="#333" stroke-width="0.45"/>
<text x="44.1" y="484.3" font-size="10" fill="#222" textLength="49.2" lengthAdjust="spacingAndGlyphs"><tspan font-style="italic">ρ</tspan><tspan font-size="6.8" dy="1.8" font-style="italic">S</tspan><tspan dy="-1.8"> = 0.859</tspan></text>
<text x="44.1" y="496.8" font-size="10" fill="#222" textLength="54.9" lengthAdjust="spacingAndGlyphs"><tspan font-style="italic">P</tspan> = 2.2e-16</text>
<text x="113.50" y="670.30" font-size="10.6" text-anchor="middle" fill="#222" textLength="91.5" lengthAdjust="spacingAndGlyphs">Log2 FC (Tetramer)</text>
<text x="28.60" y="560.10" font-size="10.6" text-anchor="middle" fill="#222" textLength="103.2" lengthAdjust="spacingAndGlyphs" transform="rotate(-90 28.60 560.10)">−Log10 EC50 (Nur77)</text>
<text x="220.90" y="512.60" font-size="9.0" text-anchor="middle" fill="#222">TCR</text>
<circle cx="202.10" cy="524.20" r="2.90" fill="none" stroke="#444" stroke-width="0.6"/>
<text x="211.90" y="527.00" font-size="8.0" text-anchor="start" fill="#222" textLength="27.8" lengthAdjust="spacingAndGlyphs">SVAR.1</text>
<path d="M198.70 532.14L205.50 532.14L202.10 537.48Z" fill="none" stroke="#444" stroke-width="0.6"/>
<text x="211.90" y="537.05" font-size="8.0" text-anchor="start" fill="#222" textLength="32.8" lengthAdjust="spacingAndGlyphs">SVAR.90</text>
<path d="M202.10 541.00L205.40 544.30L202.10 547.60L198.80 544.30Z" fill="none" stroke="#444" stroke-width="0.6"/>
<text x="211.90" y="547.10" font-size="8.0" text-anchor="start" fill="#222" textLength="31.9" lengthAdjust="spacingAndGlyphs">SVAR.91</text>
<rect x="199.60" y="551.85" width="5.00" height="5.00" fill="none" stroke="#444" stroke-width="0.6"/>
<text x="211.90" y="557.15" font-size="8.0" text-anchor="start" fill="#222" textLength="32.8" lengthAdjust="spacingAndGlyphs">SVAR.92</text>
<text x="229.90" y="579.70" font-size="9.0" text-anchor="middle" fill="#222" textLength="65" lengthAdjust="spacingAndGlyphs">Tetramer Binder</text>
<text x="229.90" y="590.00" font-size="9.0" text-anchor="middle" fill="#222" textLength="58.2" lengthAdjust="spacingAndGlyphs">(Log2 FC &gt; 1)</text>
<circle cx="202.10" cy="600.80" r="3.04" fill="#5a80b8" stroke="#333" stroke-width="0.45"/>
<circle cx="202.10" cy="610.40" r="3.04" fill="#ec2c20" stroke="#333" stroke-width="0.45"/>
<text x="211.90" y="603.60" font-size="8.0" text-anchor="start" fill="#222" textLength="31.9" lengthAdjust="spacingAndGlyphs">Negative</text>
<text x="211.90" y="613.20" font-size="8.0" text-anchor="start" fill="#222" textLength="27.8" lengthAdjust="spacingAndGlyphs">Positive</text>
<text x="269.50" y="470.00" font-size="19" text-anchor="start" fill="#000" font-weight="bold">f</text>
<rect x="293.00" y="488.20" width="15.29" height="25.13" fill="#fbfbfb" stroke="#3c5064" stroke-opacity="0.45" stroke-width="0.5"/>
<rect x="308.29" y="488.20" width="15.29" height="25.13" fill="#8ccaee" stroke="#3c5064" stroke-opacity="0.45" stroke-width="0.5"/>
<rect x="323.57" y="488.20" width="15.29" height="25.13" fill="#a3d4f0" stroke="#3c5064" stroke-opacity="0.45" stroke-width="0.5"/>
<rect x="338.86" y="488.20" width="15.29" height="25.13" fill="#b2dbf1" stroke="#3c5064" stroke-opacity="0.45" stroke-width="0.5"/>
<rect x="354.15" y="488.20" width="15.29" height="25.13" fill="#91ccee" stroke="#3c5064" stroke-opacity="0.45" stroke-width="0.5"/>
<rect x="369.43" y="488.20" width="15.29" height="25.13" fill="#9ad0ef" stroke="#3c5064" stroke-opacity="0.45" stroke-width="0.5"/>
<rect x="384.72" y="488.20" width="15.29" height="25.13" fill="#7dc0ec" stroke="#3c5064" stroke-opacity="0.45" stroke-width="0.5"/>
<rect x="400.01" y="488.20" width="15.29" height="25.13" fill="#b2dbf1" stroke="#3c5064" stroke-opacity="0.45" stroke-width="0.5"/>
<rect x="415.30" y="488.20" width="15.29" height="25.13" fill="#68ade3" stroke="#3c5064" stroke-opacity="0.45" stroke-width="0.5"/>
<rect x="430.58" y="488.20" width="15.29" height="25.13" fill="#91ccee" stroke="#3c5064" stroke-opacity="0.45" stroke-width="0.5"/>
<rect x="445.87" y="488.20" width="15.29" height="25.13" fill="#d2eaf5" stroke="#3c5064" stroke-opacity="0.45" stroke-width="0.5"/>
<rect x="461.16" y="488.20" width="15.29" height="25.13" fill="#acd8f0" stroke="#3c5064" stroke-opacity="0.45" stroke-width="0.5"/>
<rect x="476.44" y="488.20" width="15.29" height="25.13" fill="#d2eaf5" stroke="#3c5064" stroke-opacity="0.45" stroke-width="0.5"/>
<rect x="491.73" y="488.20" width="15.29" height="25.13" fill="#eec7b2" stroke="#3c5064" stroke-opacity="0.45" stroke-width="0.5"/>
<rect x="507.02" y="488.20" width="15.29" height="25.13" fill="#8ccaee" stroke="#3c5064" stroke-opacity="0.45" stroke-width="0.5"/>
<rect x="522.30" y="488.20" width="15.29" height="25.13" fill="#9ad0ef" stroke="#3c5064" stroke-opacity="0.45" stroke-width="0.5"/>
<rect x="537.59" y="488.20" width="15.29" height="25.13" fill="#d2eaf5" stroke="#3c5064" stroke-opacity="0.45" stroke-width="0.5"/>
<rect x="552.88" y="488.20" width="15.29" height="25.13" fill="#8ccaee" stroke="#3c5064" stroke-opacity="0.45" stroke-width="0.5"/>
<rect x="568.17" y="488.20" width="15.29" height="25.13" fill="#84c5ed" stroke="#3c5064" stroke-opacity="0.45" stroke-width="0.5"/>
<rect x="583.45" y="488.20" width="15.29" height="25.13" fill="#7dc0ec" stroke="#3c5064" stroke-opacity="0.45" stroke-width="0.5"/>
<rect x="598.74" y="488.20" width="15.29" height="25.13" fill="#8ccaee" stroke="#3c5064" stroke-opacity="0.45" stroke-width="0.5"/>
<rect x="614.03" y="488.20" width="15.29" height="25.13" fill="#8ccaee" stroke="#3c5064" stroke-opacity="0.45" stroke-width="0.5"/>
<rect x="629.31" y="488.20" width="15.29" height="25.13" fill="#8ccaee" stroke="#3c5064" stroke-opacity="0.45" stroke-width="0.5"/>
<rect x="293.00" y="513.33" width="15.29" height="25.13" fill="#6db2e7" stroke="#3c5064" stroke-opacity="0.45" stroke-width="0.5"/>
<rect x="308.29" y="513.33" width="15.29" height="25.13" fill="#5a9cd9" stroke="#3c5064" stroke-opacity="0.45" stroke-width="0.5"/>
<rect x="323.57" y="513.33" width="15.29" height="25.13" fill="#5596d6" stroke="#3c5064" stroke-opacity="0.45" stroke-width="0.5"/>
<rect x="338.86" y="513.33" width="15.29" height="25.13" fill="#96ceef" stroke="#3c5064" stroke-opacity="0.45" stroke-width="0.5"/>
<rect x="354.15" y="513.33" width="15.29" height="25.13" fill="#84c5ed" stroke="#3c5064" stroke-opacity="0.45" stroke-width="0.5"/>
<rect x="369.43" y="513.33" width="15.29" height="25.13" fill="#a3d4f0" stroke="#3c5064" stroke-opacity="0.45" stroke-width="0.5"/>
<rect x="384.72" y="513.33" width="15.29" height="25.13" fill="#96ceef" stroke="#3c5064" stroke-opacity="0.45" stroke-width="0.5"/>
<rect x="400.01" y="513.33" width="15.29" height="25.13" fill="#b2dbf1" stroke="#3c5064" stroke-opacity="0.45" stroke-width="0.5"/>
<rect x="415.30" y="513.33" width="15.29" height="25.13" fill="#72b8ea" stroke="#3c5064" stroke-opacity="0.45" stroke-width="0.5"/>
<rect x="430.58" y="513.33" width="15.29" height="25.13" fill="#9ed2ef" stroke="#3c5064" stroke-opacity="0.45" stroke-width="0.5"/>
<rect x="445.87" y="513.33" width="15.29" height="25.13" fill="#e35e41" stroke="#3c5064" stroke-opacity="0.45" stroke-width="0.5"/>
<rect x="461.16" y="513.33" width="15.29" height="25.13" fill="#d9edf6" stroke="#3c5064" stroke-opacity="0.45" stroke-width="0.5"/>
<rect x="476.44" y="513.33" width="15.29" height="25.13" fill="#72b8ea" stroke="#3c5064" stroke-opacity="0.45" stroke-width="0.5"/>
<rect x="491.73" y="513.33" width="15.29" height="25.13" fill="#e67c5c" stroke="#3c5064" stroke-opacity="0.45" stroke-width="0.5"/>
<rect x="507.02" y="513.33" width="15.29" height="25.13" fill="#81c3ed" stroke="#3c5064" stroke-opacity="0.45" stroke-width="0.5"/>
<rect x="522.30" y="513.33" width="15.29" height="25.13" fill="#9ad0ef" stroke="#3c5064" stroke-opacity="0.45" stroke-width="0.5"/>
<rect x="537.59" y="513.33" width="15.29" height="25.13" fill="#b2dbf1" stroke="#3c5064" stroke-opacity="0.45" stroke-width="0.5"/>
<rect x="552.88" y="513.33" width="15.29" height="25.13" fill="#72b8ea" stroke="#3c5064" stroke-opacity="0.45" stroke-width="0.5"/>
<rect x="568.17" y="513.33" width="15.29" height="25.13" fill="#a3d4f0" stroke="#3c5064" stroke-opacity="0.45" stroke-width="0.5"/>
<rect x="583.45" y="513.33" width="15.29" height="25.13" fill="#84c5ed" stroke="#3c5064" stroke-opacity="0.45" stroke-width="0.5"/>
<rect x="598.74" y="513.33" width="15.29" height="25.13" fill="#8ccaee" stroke="#3c5064" stroke-opacity="0.45" stroke-width="0.5"/>
<rect x="614.03" y="513.33" width="15.29" height="25.13" fill="#8ccaee" stroke="#3c5064" stroke-opacity="0.45" stroke-width="0.5"/>
<rect x="629.31" y="513.33" width="15.29" height="25.13" fill="#8ccaee" stroke="#3c5064" stroke-opacity="0.45" stroke-width="0.5"/>
<rect x="293.00" y="538.47" width="15.29" height="25.13" fill="#e56748" stroke="#3c5064" stroke-opacity="0.45" stroke-width="0.5"/>
<rect x="308.29" y="538.47" width="15.29" height="25.13" fill="#b2dbf1" stroke="#3c5064" stroke-opacity="0.45" stroke-width="0.5"/>
<rect x="323.57" y="538.47" width="15.29" height="25.13" fill="#faf8f7" stroke="#3c5064" stroke-opacity="0.45" stroke-width="0.5"/>
<rect x="338.86" y="538.47" width="15.29" height="25.13" fill="#f0ccb9" stroke="#3c5064" stroke-opacity="0.45" stroke-width="0.5"/>
<rect x="354.15" y="538.47" width="15.29" height="25.13" fill="#faf6f3" stroke="#3c5064" stroke-opacity="0.45" stroke-width="0.5"/>
<rect x="369.43" y="538.47" width="15.29" height="25.13" fill="#f8f0ea" stroke="#3c5064" stroke-opacity="0.45" stroke-width="0.5"/>
<rect x="384.72" y="538.47" width="15.29" height="25.13" fill="#f4f8fa" stroke="#3c5064" stroke-opacity="0.45" stroke-width="0.5"/>
<rect x="400.01" y="538.47" width="15.29" height="25.13" fill="#ecbca3" stroke="#3c5064" stroke-opacity="0.45" stroke-width="0.5"/>
<rect x="415.30" y="538.47" width="15.29" height="25.13" fill="#e0f0f7" stroke="#3c5064" stroke-opacity="0.45" stroke-width="0.5"/>
<rect x="430.58" y="538.47" width="15.29" height="25.13" fill="#f2d7c6" stroke="#3c5064" stroke-opacity="0.45" stroke-width="0.5"/>
<rect x="445.87" y="538.47" width="15.29" height="25.13" fill="#971712" stroke="#3c5064" stroke-opacity="0.45" stroke-width="0.5"/>
<rect x="461.16" y="538.47" width="15.29" height="25.13" fill="#f4f8fa" stroke="#3c5064" stroke-opacity="0.45" stroke-width="0.5"/>
<rect x="476.44" y="538.47" width="15.29" height="25.13" fill="#ecbca3" stroke="#3c5064" stroke-opacity="0.45" stroke-width="0.5"/>
<rect x="491.73" y="538.47" width="15.29" height="25.13" fill="#edc2aa" stroke="#3c5064" stroke-opacity="0.45" stroke-width="0.5"/>
<rect x="507.02" y="538.47" width="15.29" height="25.13" fill="#e89476" stroke="#3c5064" stroke-opacity="0.45" stroke-width="0.5"/>
<rect x="522.30" y="538.47" width="15.29" height="25.13" fill="#f6e6da" stroke="#3c5064" stroke-opacity="0.45" stroke-width="0.5"/>
<rect x="537.59" y="538.47" width="15.29" height="25.13" fill="#ecbca3" stroke="#3c5064" stroke-opacity="0.45" stroke-width="0.5"/>
<rect x="552.88" y="538.47" width="15.29" height="25.13" fill="#faf6f3" stroke="#3c5064" stroke-opacity="0.45" stroke-width="0.5"/>
<rect x="568.17" y="538.47" width="15.29" height="25.13" fill="#84c5ed" stroke="#3c5064" stroke-opacity="0.45" stroke-width="0.5"/>
<rect x="583.45" y="538.47" width="15.29" height="25.13" fill="#f4dccd" stroke="#3c5064" stroke-opacity="0.45" stroke-width="0.5"/>
<rect x="598.74" y="538.47" width="15.29" height="25.13" fill="#acd8f0" stroke="#3c5064" stroke-opacity="0.45" stroke-width="0.5"/>
<rect x="614.03" y="538.47" width="15.29" height="25.13" fill="#9ed2ef" stroke="#3c5064" stroke-opacity="0.45" stroke-width="0.5"/>
<rect x="629.31" y="538.47" width="15.29" height="25.13" fill="#91ccee" stroke="#3c5064" stroke-opacity="0.45" stroke-width="0.5"/>
<rect x="293.00" y="563.60" width="15.29" height="25.13" fill="#68ade3" stroke="#3c5064" stroke-opacity="0.45" stroke-width="0.5"/>
<rect x="308.29" y="563.60" width="15.29" height="25.13" fill="#68ade3" stroke="#3c5064" stroke-opacity="0.45" stroke-width="0.5"/>
<rect x="323.57" y="563.60" width="15.29" height="25.13" fill="#5fa1dd" stroke="#3c5064" stroke-opacity="0.45" stroke-width="0.5"/>
<rect x="338.86" y="563.60" width="15.29" height="25.13" fill="#81c3ed" stroke="#3c5064" stroke-opacity="0.45" stroke-width="0.5"/>
<rect x="354.15" y="563.60" width="15.29" height="25.13" fill="#81c3ed" stroke="#3c5064" stroke-opacity="0.45" stroke-width="0.5"/>
<rect x="369.43" y="563.60" width="15.29" height="25.13" fill="#7dc0ec" stroke="#3c5064" stroke-opacity="0.45" stroke-width="0.5"/>
<rect x="384.72" y="563.60" width="15.29" height="25.13" fill="#7dc0ec" stroke="#3c5064" stroke-opacity="0.45" stroke-width="0.5"/>
<rect x="400.01" y="563.60" width="15.29" height="25.13" fill="#acd8f0" stroke="#3c5064" stroke-opacity="0.45" stroke-width="0.5"/>
<rect x="415.30" y="563.60" width="15.29" height="25.13" fill="#5a9cd9" stroke="#3c5064" stroke-opacity="0.45" stroke-width="0.5"/>
<rect x="430.58" y="563.60" width="15.29" height="25.13" fill="#88c8ee" stroke="#3c5064" stroke-opacity="0.45" stroke-width="0.5"/>
<rect x="445.87" y="563.60" width="15.29" height="25.13" fill="#b2dbf1" stroke="#3c5064" stroke-opacity="0.45" stroke-width="0.5"/>
<rect x="461.16" y="563.60" width="15.29" height="25.13" fill="#81c3ed" stroke="#3c5064" stroke-opacity="0.45" stroke-width="0.5"/>
<rect x="476.44" y="563.60" width="15.29" height="25.13" fill="#72b8ea" stroke="#3c5064" stroke-opacity="0.45" stroke-width="0.5"/>
<rect x="491.73" y="563.60" width="15.29" height="25.13" fill="#91ccee" stroke="#3c5064" stroke-opacity="0.45" stroke-width="0.5"/>
<rect x="507.02" y="563.60" width="15.29" height="25.13" fill="#7dc0ec" stroke="#3c5064" stroke-opacity="0.45" stroke-width="0.5"/>
<rect x="522.30" y="563.60" width="15.29" height="25.13" fill="#96ceef" stroke="#3c5064" stroke-opacity="0.45" stroke-width="0.5"/>
<rect x="537.59" y="563.60" width="15.29" height="25.13" fill="#a8d6f0" stroke="#3c5064" stroke-opacity="0.45" stroke-width="0.5"/>
<rect x="552.88" y="563.60" width="15.29" height="25.13" fill="#68ade3" stroke="#3c5064" stroke-opacity="0.45" stroke-width="0.5"/>
<rect x="568.17" y="563.60" width="15.29" height="25.13" fill="#72b8ea" stroke="#3c5064" stroke-opacity="0.45" stroke-width="0.5"/>
<rect x="583.45" y="563.60" width="15.29" height="25.13" fill="#72b8ea" stroke="#3c5064" stroke-opacity="0.45" stroke-width="0.5"/>
<rect x="598.74" y="563.60" width="15.29" height="25.13" fill="#e35e41" stroke="#3c5064" stroke-opacity="0.45" stroke-width="0.5"/>
<rect x="614.03" y="563.60" width="15.29" height="25.13" fill="#81c3ed" stroke="#3c5064" stroke-opacity="0.45" stroke-width="0.5"/>
<rect x="629.31" y="563.60" width="15.29" height="25.13" fill="#81c3ed" stroke="#3c5064" stroke-opacity="0.45" stroke-width="0.5"/>
<rect x="293.00" y="588.73" width="15.29" height="25.13" fill="#8ccaee" stroke="#3c5064" stroke-opacity="0.45" stroke-width="0.5"/>
<rect x="308.29" y="588.73" width="15.29" height="25.13" fill="#f5e4d7" stroke="#3c5064" stroke-opacity="0.45" stroke-width="0.5"/>
<rect x="323.57" y="588.73" width="15.29" height="25.13" fill="#68ade3" stroke="#3c5064" stroke-opacity="0.45" stroke-width="0.5"/>
<rect x="338.86" y="588.73" width="15.29" height="25.13" fill="#96ceef" stroke="#3c5064" stroke-opacity="0.45" stroke-width="0.5"/>
<rect x="354.15" y="588.73" width="15.29" height="25.13" fill="#91ccee" stroke="#3c5064" stroke-opacity="0.45" stroke-width="0.5"/>
<rect x="369.43" y="588.73" width="15.29" height="25.13" fill="#f5e4d7" stroke="#3c5064" stroke-opacity="0.45" stroke-width="0.5"/>
<rect x="384.72" y="588.73" width="15.29" height="25.13" fill="#96ceef" stroke="#3c5064" stroke-opacity="0.45" stroke-width="0.5"/>
<rect x="400.01" y="588.73" width="15.29" height="25.13" fill="#c5e4f3" stroke="#3c5064" stroke-opacity="0.45" stroke-width="0.5"/>
<rect x="415.30" y="588.73" width="15.29" height="25.13" fill="#f8eee6" stroke="#3c5064" stroke-opacity="0.45" stroke-width="0.5"/>
<rect x="430.58" y="588.73" width="15.29" height="25.13" fill="#f6e6da" stroke="#3c5064" stroke-opacity="0.45" stroke-width="0.5"/>
<rect x="445.87" y="588.73" width="15.29" height="25.13" fill="#971712" stroke="#3c5064" stroke-opacity="0.45" stroke-width="0.5"/>
<rect x="461.16" y="588.73" width="15.29" height="25.13" fill="#a41c14" stroke="#3c5064" stroke-opacity="0.45" stroke-width="0.5"/>
<rect x="476.44" y="588.73" width="15.29" height="25.13" fill="#72b8ea" stroke="#3c5064" stroke-opacity="0.45" stroke-width="0.5"/>
<rect x="491.73" y="588.73" width="15.29" height="25.13" fill="#faf8f7" stroke="#3c5064" stroke-opacity="0.45" stroke-width="0.5"/>
<rect x="507.02" y="588.73" width="15.29" height="25.13" fill="#81c3ed" stroke="#3c5064" stroke-opacity="0.45" stroke-width="0.5"/>
<rect x="522.30" y="588.73" width="15.29" height="25.13" fill="#96ceef" stroke="#3c5064" stroke-opacity="0.45" stroke-width="0.5"/>
<rect x="537.59" y="588.73" width="15.29" height="25.13" fill="#f8f0ea" stroke="#3c5064" stroke-opacity="0.45" stroke-width="0.5"/>
<rect x="552.88" y="588.73" width="15.29" height="25.13" fill="#5fa1dd" stroke="#3c5064" stroke-opacity="0.45" stroke-width="0.5"/>
<rect x="568.17" y="588.73" width="15.29" height="25.13" fill="#faf8f7" stroke="#3c5064" stroke-opacity="0.45" stroke-width="0.5"/>
<rect x="583.45" y="588.73" width="15.29" height="25.13" fill="#f8f0ea" stroke="#3c5064" stroke-opacity="0.45" stroke-width="0.5"/>
<rect x="598.74" y="588.73" width="15.29" height="25.13" fill="#8ccaee" stroke="#3c5064" stroke-opacity="0.45" stroke-width="0.5"/>
<rect x="614.03" y="588.73" width="15.29" height="25.13" fill="#8ccaee" stroke="#3c5064" stroke-opacity="0.45" stroke-width="0.5"/>
<rect x="629.31" y="588.73" width="15.29" height="25.13" fill="#81c3ed" stroke="#3c5064" stroke-opacity="0.45" stroke-width="0.5"/>
<rect x="293.00" y="613.87" width="15.29" height="25.13" fill="#971712" stroke="#3c5064" stroke-opacity="0.45" stroke-width="0.5"/>
<rect x="308.29" y="613.87" width="15.29" height="25.13" fill="#b2dbf1" stroke="#3c5064" stroke-opacity="0.45" stroke-width="0.5"/>
<rect x="323.57" y="613.87" width="15.29" height="25.13" fill="#d2eaf5" stroke="#3c5064" stroke-opacity="0.45" stroke-width="0.5"/>
<rect x="338.86" y="613.87" width="15.29" height="25.13" fill="#faf8f7" stroke="#3c5064" stroke-opacity="0.45" stroke-width="0.5"/>
<rect x="354.15" y="613.87" width="15.29" height="25.13" fill="#f4f8fa" stroke="#3c5064" stroke-opacity="0.45" stroke-width="0.5"/>
<rect x="369.43" y="613.87" width="15.29" height="25.13" fill="#f2d7c6" stroke="#3c5064" stroke-opacity="0.45" stroke-width="0.5"/>
<rect x="384.72" y="613.87" width="15.29" height="25.13" fill="#81c3ed" stroke="#3c5064" stroke-opacity="0.45" stroke-width="0.5"/>
<rect x="400.01" y="613.87" width="15.29" height="25.13" fill="#e8a083" stroke="#3c5064" stroke-opacity="0.45" stroke-width="0.5"/>
<rect x="415.30" y="613.87" width="15.29" height="25.13" fill="#b2dbf1" stroke="#3c5064" stroke-opacity="0.45" stroke-width="0.5"/>
<rect x="430.58" y="613.87" width="15.29" height="25.13" fill="#acd8f0" stroke="#3c5064" stroke-opacity="0.45" stroke-width="0.5"/>
<rect x="445.87" y="613.87" width="15.29" height="25.13" fill="#971712" stroke="#3c5064" stroke-opacity="0.45" stroke-width="0.5"/>
<rect x="461.16" y="613.87" width="15.29" height="25.13" fill="#d2eaf5" stroke="#3c5064" stroke-opacity="0.45" stroke-width="0.5"/>
<rect x="476.44" y="613.87" width="15.29" height="25.13" fill="#971712" stroke="#3c5064" stroke-opacity="0.45" stroke-width="0.5"/>
<rect x="491.73" y="613.87" width="15.29" height="25.13" fill="#e8a083" stroke="#3c5064" stroke-opacity="0.45" stroke-width="0.5"/>
<rect x="507.02" y="613.87" width="15.29" height="25.13" fill="#91ccee" stroke="#3c5064" stroke-opacity="0.45" stroke-width="0.5"/>
<rect x="522.30" y="613.87" width="15.29" height="25.13" fill="#a8d6f0" stroke="#3c5064" stroke-opacity="0.45" stroke-width="0.5"/>
<rect x="537.59" y="613.87" width="15.29" height="25.13" fill="#f8f0ea" stroke="#3c5064" stroke-opacity="0.45" stroke-width="0.5"/>
<rect x="552.88" y="613.87" width="15.29" height="25.13" fill="#c5e4f3" stroke="#3c5064" stroke-opacity="0.45" stroke-width="0.5"/>
<rect x="568.17" y="613.87" width="15.29" height="25.13" fill="#96ceef" stroke="#3c5064" stroke-opacity="0.45" stroke-width="0.5"/>
<rect x="583.45" y="613.87" width="15.29" height="25.13" fill="#c5e4f3" stroke="#3c5064" stroke-opacity="0.45" stroke-width="0.5"/>
<rect x="598.74" y="613.87" width="15.29" height="25.13" fill="#b2dbf1" stroke="#3c5064" stroke-opacity="0.45" stroke-width="0.5"/>
<rect x="614.03" y="613.87" width="15.29" height="25.13" fill="#91ccee" stroke="#3c5064" stroke-opacity="0.45" stroke-width="0.5"/>
<rect x="629.31" y="613.87" width="15.29" height="25.13" fill="#9ad0ef" stroke="#3c5064" stroke-opacity="0.45" stroke-width="0.5"/>
<text x="291.80" y="502.97" font-size="6.2" text-anchor="end" fill="#333" textLength="9.38" lengthAdjust="spacingAndGlyphs">P4L</text>
<text x="291.80" y="528.10" font-size="6.2" text-anchor="end" fill="#333" textLength="9.96" lengthAdjust="spacingAndGlyphs">T6H</text>
<text x="291.80" y="553.23" font-size="6.2" text-anchor="end" fill="#333" textLength="9.08" lengthAdjust="spacingAndGlyphs">L9F</text>
<text x="291.80" y="578.37" font-size="6.2" text-anchor="end" fill="#333" textLength="10.25" lengthAdjust="spacingAndGlyphs">R5S</text>
<text x="291.80" y="603.50" font-size="6.2" text-anchor="end" fill="#333" textLength="7.61" lengthAdjust="spacingAndGlyphs">T6I</text>
<text x="291.80" y="628.63" font-size="6.2" text-anchor="end" fill="#333" textLength="9.96" lengthAdjust="spacingAndGlyphs">P4S</text>
<text x="302.94" y="641.80" font-size="6.0" text-anchor="end" fill="#333" textLength="17.66" lengthAdjust="spacingAndGlyphs" transform="rotate(-90 302.94 641.80)">SVAR.1</text>
<text x="318.23" y="641.80" font-size="6.0" text-anchor="end" fill="#333" textLength="17.66" lengthAdjust="spacingAndGlyphs" transform="rotate(-90 318.23 641.80)">SVAR.2</text>
<text x="333.52" y="641.80" font-size="6.0" text-anchor="end" fill="#333" textLength="17.66" lengthAdjust="spacingAndGlyphs" transform="rotate(-90 333.52 641.80)">SVAR.3</text>
<text x="348.80" y="641.80" font-size="6.0" text-anchor="end" fill="#333" textLength="17.66" lengthAdjust="spacingAndGlyphs" transform="rotate(-90 348.80 641.80)">SVAR.5</text>
<text x="364.09" y="641.80" font-size="6.0" text-anchor="end" fill="#333" textLength="17.66" lengthAdjust="spacingAndGlyphs" transform="rotate(-90 364.09 641.80)">SVAR.6</text>
<text x="379.38" y="641.80" font-size="6.0" text-anchor="end" fill="#333" textLength="17.66" lengthAdjust="spacingAndGlyphs" transform="rotate(-90 379.38 641.80)">SVAR.7</text>
<text x="394.67" y="641.80" font-size="6.0" text-anchor="end" fill="#333" textLength="20.48" lengthAdjust="spacingAndGlyphs" transform="rotate(-90 394.67 641.80)">SVAR.13</text>
<text x="409.95" y="641.80" font-size="6.0" text-anchor="end" fill="#333" textLength="20.48" lengthAdjust="spacingAndGlyphs" transform="rotate(-90 409.95 641.80)">SVAR.14</text>
<text x="425.24" y="641.80" font-size="6.0" text-anchor="end" fill="#333" textLength="20.48" lengthAdjust="spacingAndGlyphs" transform="rotate(-90 425.24 641.80)">SVAR.16</text>
<text x="440.53" y="641.80" font-size="6.0" text-anchor="end" fill="#333" textLength="20.48" lengthAdjust="spacingAndGlyphs" transform="rotate(-90 440.53 641.80)">SVAR.21</text>
<text x="455.81" y="641.80" font-size="6.0" text-anchor="end" fill="#333" textLength="20.48" lengthAdjust="spacingAndGlyphs" transform="rotate(-90 455.81 641.80)">SVAR.26</text>
<text x="471.10" y="641.80" font-size="6.0" text-anchor="end" fill="#333" textLength="20.48" lengthAdjust="spacingAndGlyphs" transform="rotate(-90 471.10 641.80)">SVAR.56</text>
<text x="486.39" y="641.80" font-size="6.0" text-anchor="end" fill="#333" textLength="20.48" lengthAdjust="spacingAndGlyphs" transform="rotate(-90 486.39 641.80)">SVAR.57</text>
<text x="501.67" y="641.80" font-size="6.0" text-anchor="end" fill="#333" textLength="20.48" lengthAdjust="spacingAndGlyphs" transform="rotate(-90 501.67 641.80)">SVAR.59</text>
<text x="516.96" y="641.80" font-size="6.0" text-anchor="end" fill="#333" textLength="20.48" lengthAdjust="spacingAndGlyphs" transform="rotate(-90 516.96 641.80)">SVAR.73</text>
<text x="532.25" y="641.80" font-size="6.0" text-anchor="end" fill="#333" textLength="20.48" lengthAdjust="spacingAndGlyphs" transform="rotate(-90 532.25 641.80)">SVAR.74</text>
<text x="547.53" y="641.80" font-size="6.0" text-anchor="end" fill="#333" textLength="20.48" lengthAdjust="spacingAndGlyphs" transform="rotate(-90 547.53 641.80)">SVAR.75</text>
<text x="562.82" y="641.80" font-size="6.0" text-anchor="end" fill="#333" textLength="20.48" lengthAdjust="spacingAndGlyphs" transform="rotate(-90 562.82 641.80)">SVAR.76</text>
<text x="578.11" y="641.80" font-size="6.0" text-anchor="end" fill="#333" textLength="20.48" lengthAdjust="spacingAndGlyphs" transform="rotate(-90 578.11 641.80)">SVAR.82</text>
<text x="593.40" y="641.80" font-size="6.0" text-anchor="end" fill="#333" textLength="20.48" lengthAdjust="spacingAndGlyphs" transform="rotate(-90 593.40 641.80)">SVAR.85</text>
<text x="608.68" y="641.80" font-size="6.0" text-anchor="end" fill="#333" textLength="20.48" lengthAdjust="spacingAndGlyphs" transform="rotate(-90 608.68 641.80)">SVAR.90</text>
<text x="623.97" y="641.80" font-size="6.0" text-anchor="end" fill="#333" textLength="20.48" lengthAdjust="spacingAndGlyphs" transform="rotate(-90 623.97 641.80)">SVAR.91</text>
<text x="639.26" y="641.80" font-size="6.0" text-anchor="end" fill="#333" textLength="20.48" lengthAdjust="spacingAndGlyphs" transform="rotate(-90 639.26 641.80)">SVAR.92</text>
<defs><linearGradient id="cb2" x1="0" y1="1" x2="0" y2="0"><stop offset="0.000" stop-color="#60a2dd"/><stop offset="0.050" stop-color="#77bbeb"/><stop offset="0.100" stop-color="#89c9ee"/><stop offset="0.150" stop-color="#a0d3ef"/><stop offset="0.200" stop-color="#bbdff2"/><stop offset="0.250" stop-color="#dceef6"/><stop offset="0.300" stop-color="#fbfaf9"/><stop offset="0.350" stop-color="#f8ece4"/><stop offset="0.400" stop-color="#f4e0d2"/><stop offset="0.450" stop-color="#f1d3c1"/><stop offset="0.500" stop-color="#eec5af"/><stop offset="0.550" stop-color="#ebb69c"/><stop offset="0.600" stop-color="#e9a488"/><stop offset="0.650" stop-color="#e7896a"/><stop offset="0.700" stop-color="#e56c4c"/><stop offset="0.750" stop-color="#e2553a"/><stop offset="0.800" stop-color="#d94330"/><stop offset="0.850" stop-color="#ca3225"/><stop offset="0.900" stop-color="#b2241a"/><stop offset="0.950" stop-color="#9d1913"/><stop offset="1.000" stop-color="#8d1310"/></linearGradient></defs>
<rect x="652.2" y="488.3" width="4.6" height="75.19999999999999" fill="url(#cb2)"/>
<text x="658.20" y="499.10" font-size="7.2" text-anchor="start" fill="#333">4</text>
<text x="658.20" y="514.00" font-size="7.2" text-anchor="start" fill="#333">3</text>
<text x="658.20" y="528.80" font-size="7.2" text-anchor="start" fill="#333">2</text>
<text x="658.20" y="543.80" font-size="7.2" text-anchor="start" fill="#333">1</text>
<text x="658.20" y="558.70" font-size="7.2" text-anchor="start" fill="#333">0</text>
<text x="656.00" y="474.90" font-size="8.2" text-anchor="middle" fill="#333" textLength="32.4" lengthAdjust="spacingAndGlyphs">Log2 FC</text>
<text x="655.90" y="484.70" font-size="8.2" text-anchor="middle" fill="#333" textLength="56.4" lengthAdjust="spacingAndGlyphs">pMHC Binding</text>
</svg>
</body></html>
